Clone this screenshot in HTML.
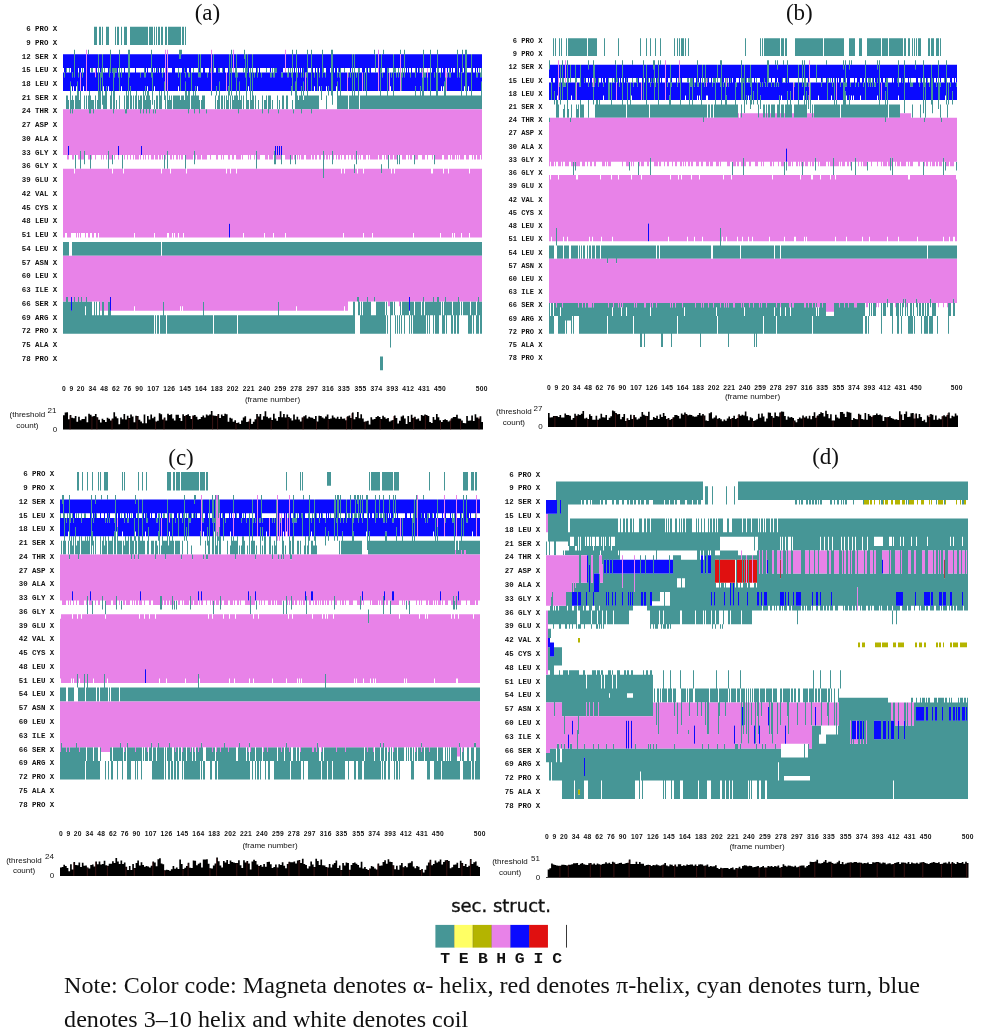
<!DOCTYPE html>
<html><head><meta charset="utf-8"><title>Secondary structure timelines</title>
<style>
html,body{margin:0;padding:0;background:#fff}
svg{display:block}
.lab{font-family:"Liberation Mono",monospace;font-weight:bold;font-size:6.6px;text-anchor:end;fill:#111}
.tick{font-family:"Liberation Sans",sans-serif;font-weight:bold;font-size:6.7px;letter-spacing:0.3px;text-anchor:middle;fill:#111}
.ttl{font-family:"Liberation Serif",serif;font-size:23px;text-anchor:middle;fill:#111}
.th{font-family:"Liberation Sans",sans-serif;font-size:8px;text-anchor:middle;fill:#111}
.ss{font-family:"DejaVu Sans","Liberation Sans",sans-serif;font-size:18px;text-anchor:middle;fill:#111}
.leg{font-family:"Liberation Mono",monospace;font-weight:bold;font-size:14.3px;text-anchor:middle;fill:#111}
.note{font-family:"Liberation Serif",serif;font-size:24.1px;fill:#111}
.fn{font-family:"Liberation Sans",sans-serif;font-size:8px;text-anchor:middle;fill:#111}
</style></head><body>
<svg width="986" height="1033" viewBox="0 0 986 1033">
<rect width="100%" height="100%" fill="#fff"/>
<g>
<path fill="#469696" d="M64.0 72.6H65.0V77.2H64.0zM63.0 301.6H66.0V333.7H63.0zM66.0 68.0H67.0V72.6H66.0zM66.0 297.0H68.0V333.7H66.0zM66.0 95.5H68.0V109.2H66.0zM63.0 242.1H69.0V255.8H63.0zM68.0 100.1H69.0V109.2H68.0zM69.0 68.0H70.0V72.6H69.0zM68.0 301.6H71.0V333.7H68.0zM70.0 81.8H71.0V113.8H70.0zM71.0 310.8H72.0V333.7H71.0zM71.0 100.1H72.0V109.2H71.0zM72.0 72.6H73.0V77.2H72.0zM72.0 95.5H73.0V113.8H72.0zM72.0 301.6H74.0V333.7H72.0zM73.0 100.1H74.0V109.2H73.0zM74.0 297.0H75.0V333.7H74.0zM74.0 49.7H75.0V77.2H74.0zM75.0 155.0H76.0V168.8H75.0zM75.0 95.5H77.0V109.2H75.0zM75.0 301.6H78.0V333.7H75.0zM77.0 81.8H78.0V109.2H77.0zM78.0 297.0H79.0V333.7H78.0zM78.0 90.9H79.0V109.2H78.0zM78.0 72.6H79.0V77.2H78.0zM79.0 100.1H80.0V109.2H79.0zM79.0 301.6H81.0V333.7H79.0zM80.0 90.9H81.0V109.2H80.0zM80.0 150.5H81.0V168.8H80.0zM81.0 297.0H82.0V333.7H81.0zM82.0 68.0H83.0V77.2H82.0zM82.0 301.6H85.0V333.7H82.0zM84.0 150.5H85.0V164.2H84.0zM84.0 95.5H85.0V109.2H84.0zM85.0 301.6H86.0V306.2H85.0zM85.0 315.3H86.0V333.7H85.0zM86.0 297.0H87.0V333.7H86.0zM86.0 95.5H87.0V109.2H86.0zM88.0 95.5H89.0V109.2H88.0zM88.0 49.7H89.0V54.3H88.0zM89.0 90.9H90.0V113.8H89.0zM90.0 155.0H91.0V168.8H90.0zM90.0 95.5H91.0V113.8H90.0zM87.0 301.6H92.0V333.7H87.0zM91.0 100.1H93.0V109.2H91.0zM91.0 68.0H93.0V72.6H91.0zM92.0 315.3H94.0V333.7H92.0zM93.0 100.1H94.0V113.8H93.0zM94.0 301.6H95.0V333.7H94.0zM95.0 95.5H96.0V109.2H95.0zM95.0 315.3H96.0V333.7H95.0zM94.0 26.8H97.0V45.1H94.0zM96.0 301.6H97.0V333.7H96.0zM97.0 100.1H98.0V109.2H97.0zM97.0 315.3H99.0V333.7H97.0zM98.0 54.3H99.0V109.2H98.0zM99.0 90.9H100.0V109.2H99.0zM99.0 301.6H100.0V333.7H99.0zM99.0 26.8H101.0V45.1H99.0zM100.0 72.6H101.0V109.2H100.0zM100.0 315.3H102.0V333.7H100.0zM101.0 68.0H102.0V77.2H101.0zM102.0 54.3H103.0V104.7H102.0zM102.0 26.8H103.0V45.1H102.0zM102.0 301.6H104.0V333.7H102.0zM103.0 95.5H105.0V109.2H103.0zM104.0 68.0H105.0V72.6H104.0zM105.0 90.9H106.0V109.2H105.0zM106.0 86.3H107.0V109.2H106.0zM104.0 315.3H108.0V333.7H104.0zM106.0 26.8H109.0V45.1H106.0zM108.0 150.5H109.0V168.8H108.0zM108.0 301.6H110.0V333.7H108.0zM109.0 68.0H110.0V77.2H109.0zM110.0 49.7H111.0V72.6H110.0zM110.0 95.5H111.0V109.2H110.0zM110.0 310.8H111.0V333.7H110.0zM111.0 90.9H112.0V109.2H111.0zM112.0 155.0H113.0V164.2H112.0zM112.0 68.0H113.0V72.6H112.0zM113.0 68.0H114.0V113.8H113.0zM114.0 68.0H115.0V77.2H114.0zM114.0 90.9H115.0V109.2H114.0zM115.0 26.8H116.0V45.1H115.0zM115.0 68.0H117.0V72.6H115.0zM116.0 100.1H117.0V109.2H116.0zM117.0 26.8H119.0V45.1H117.0zM118.0 72.6H119.0V77.2H118.0zM119.0 49.7H120.0V90.9H119.0zM119.0 95.5H120.0V109.2H119.0zM121.0 68.0H122.0V77.2H121.0zM121.0 26.8H122.0V45.1H121.0zM122.0 155.0H123.0V168.8H122.0zM124.0 95.5H125.0V109.2H124.0zM125.0 109.2H126.0V113.8H125.0zM124.0 26.8H127.0V45.1H124.0zM126.0 90.9H127.0V113.8H126.0zM127.0 95.5H128.0V109.2H127.0zM128.0 49.7H129.0V109.2H128.0zM129.0 49.7H130.0V77.2H129.0zM130.0 86.3H131.0V109.2H130.0zM131.0 95.5H132.0V109.2H131.0zM133.0 95.5H134.0V109.2H133.0zM135.0 95.5H136.0V109.2H135.0zM136.0 90.9H137.0V109.2H136.0zM138.0 95.5H139.0V109.2H138.0zM139.0 100.1H140.0V109.2H139.0zM140.0 95.5H141.0V113.8H140.0zM140.0 72.6H141.0V77.2H140.0zM141.0 95.5H142.0V109.2H141.0zM143.0 90.9H144.0V113.8H143.0zM144.0 95.5H145.0V109.2H144.0zM144.0 68.0H145.0V77.2H144.0zM145.0 100.1H146.0V109.2H145.0zM145.0 86.3H146.0V95.5H145.0zM145.0 72.6H146.0V77.2H145.0zM146.0 95.5H147.0V113.8H146.0zM130.0 26.8H148.0V45.1H130.0zM147.0 90.9H149.0V109.2H147.0zM149.0 95.5H150.0V113.8H149.0zM150.0 100.1H151.0V109.2H150.0zM151.0 49.7H152.0V77.2H151.0zM149.0 26.8H153.0V45.1H149.0zM152.0 72.6H153.0V104.7H152.0zM111.0 315.3H154.0V333.7H111.0zM153.0 109.2H154.0V113.8H153.0zM154.0 100.1H155.0V109.2H154.0zM154.0 26.8H155.0V45.1H154.0zM154.0 68.0H155.0V72.6H154.0zM155.0 109.2H156.0V113.8H155.0zM155.0 315.3H156.0V333.7H155.0zM156.0 26.8H157.0V45.1H156.0zM156.0 95.5H158.0V109.2H156.0zM157.0 68.0H158.0V72.6H157.0zM157.0 315.3H159.0V333.7H157.0zM158.0 26.8H160.0V45.1H158.0zM159.0 90.9H160.0V109.2H159.0zM72.0 242.1H161.0V255.8H72.0zM160.0 95.5H161.0V109.2H160.0zM161.0 90.9H162.0V109.2H161.0zM161.0 68.0H162.0V72.6H161.0zM160.0 315.3H163.0V333.7H160.0zM161.0 26.8H163.0V45.1H161.0zM162.0 72.6H163.0V77.2H162.0zM163.0 301.6H164.0V333.7H163.0zM163.0 68.0H164.0V72.6H163.0zM164.0 155.0H165.0V168.8H164.0zM164.0 81.8H165.0V100.1H164.0zM164.0 315.3H166.0V333.7H164.0zM165.0 95.5H166.0V109.2H165.0zM165.0 26.8H167.0V45.1H165.0zM167.0 90.9H168.0V109.2H167.0zM167.0 150.5H168.0V168.8H167.0zM168.0 100.1H169.0V109.2H168.0zM169.0 95.5H170.0V109.2H169.0zM170.0 100.1H171.0V109.2H170.0zM171.0 95.5H172.0V109.2H171.0zM178.0 68.0H179.0V77.2H178.0zM173.0 95.5H180.0V109.2H173.0zM168.0 26.8H181.0V45.1H168.0zM179.0 49.7H181.0V58.9H179.0zM180.0 100.1H181.0V109.2H180.0zM180.0 72.6H181.0V90.9H180.0zM181.0 49.7H182.0V54.3H181.0zM181.0 95.5H184.0V109.2H181.0zM182.0 26.8H184.0V45.1H182.0zM184.0 100.1H185.0V109.2H184.0zM184.0 68.0H185.0V72.6H184.0zM185.0 155.0H186.0V168.8H185.0zM185.0 81.8H186.0V109.2H185.0zM185.0 72.6H186.0V77.2H185.0zM185.0 26.8H186.0V45.1H185.0zM186.0 90.9H187.0V109.2H186.0zM187.0 95.5H188.0V109.2H187.0zM188.0 90.9H189.0V113.8H188.0zM188.0 72.6H190.0V77.2H188.0zM189.0 90.9H190.0V109.2H189.0zM191.0 72.6H192.0V90.9H191.0zM191.0 95.5H193.0V109.2H191.0zM193.0 90.9H194.0V109.2H193.0zM193.0 68.0H194.0V72.6H193.0zM194.0 150.5H195.0V164.2H194.0zM194.0 95.5H195.0V113.8H194.0zM195.0 86.3H196.0V109.2H195.0zM196.0 95.5H199.0V109.2H196.0zM198.0 54.3H199.0V77.2H198.0zM199.0 72.6H200.0V77.2H199.0zM199.0 100.1H200.0V113.8H199.0zM200.0 54.3H201.0V77.2H200.0zM201.0 100.1H202.0V109.2H201.0zM167.0 315.3H203.0V333.7H167.0zM203.0 301.6H204.0V333.7H203.0zM202.0 95.5H205.0V109.2H202.0zM206.0 109.2H207.0V113.8H206.0zM207.0 72.6H208.0V77.2H207.0zM210.0 68.0H211.0V72.6H210.0zM211.0 90.9H212.0V95.5H211.0zM204.0 315.3H213.0V333.7H204.0zM213.0 54.3H214.0V72.6H213.0zM215.0 95.5H216.0V109.2H215.0zM216.0 86.3H217.0V95.5H216.0zM217.0 100.1H218.0V109.2H217.0zM218.0 95.5H219.0V109.2H218.0zM218.0 68.0H220.0V72.6H218.0zM219.0 81.8H220.0V109.2H219.0zM221.0 95.5H223.0V109.2H221.0zM222.0 68.0H223.0V72.6H222.0zM224.0 95.5H225.0V109.2H224.0zM226.0 95.5H227.0V109.2H226.0zM227.0 100.1H228.0V109.2H227.0zM228.0 86.3H229.0V109.2H228.0zM229.0 54.3H230.0V95.5H229.0zM230.0 95.5H231.0V109.2H230.0zM230.0 68.0H231.0V72.6H230.0zM231.0 49.7H232.0V95.5H231.0zM232.0 95.5H233.0V109.2H232.0zM233.0 100.1H234.0V109.2H233.0zM234.0 95.5H236.0V109.2H234.0zM235.0 68.0H236.0V77.2H235.0zM214.0 315.3H237.0V333.7H214.0zM236.0 54.3H237.0V109.2H236.0zM237.0 72.6H238.0V77.2H237.0zM237.0 95.5H238.0V109.2H237.0zM238.0 100.1H239.0V113.8H238.0zM239.0 81.8H240.0V109.2H239.0zM240.0 100.1H241.0V109.2H240.0zM241.0 95.5H242.0V109.2H241.0zM243.0 95.5H244.0V109.2H243.0zM243.0 68.0H244.0V72.6H243.0zM244.0 49.7H245.0V58.9H244.0zM245.0 54.3H246.0V77.2H245.0zM246.0 68.0H247.0V109.2H246.0zM247.0 54.3H248.0V72.6H247.0zM247.0 100.1H249.0V109.2H247.0zM249.0 72.6H250.0V77.2H249.0zM250.0 68.0H251.0V109.2H250.0zM251.0 100.1H252.0V109.2H251.0zM252.0 54.3H253.0V109.2H252.0zM253.0 95.5H254.0V109.2H253.0zM254.0 72.6H255.0V77.2H254.0zM255.0 95.5H256.0V109.2H255.0zM256.0 150.5H257.0V168.8H256.0zM257.0 68.0H258.0V77.2H257.0zM258.0 100.1H259.0V109.2H258.0zM261.0 72.6H262.0V77.2H261.0zM262.0 95.5H263.0V113.8H262.0zM264.0 100.1H266.0V109.2H264.0zM266.0 95.5H267.0V109.2H266.0zM266.0 68.0H267.0V72.6H266.0zM268.0 95.5H269.0V113.8H268.0zM269.0 95.5H271.0V109.2H269.0zM270.0 72.6H272.0V77.2H270.0zM272.0 100.1H273.0V109.2H272.0zM272.0 68.0H273.0V72.6H272.0zM273.0 72.6H274.0V77.2H273.0zM274.0 68.0H275.0V77.2H274.0zM274.0 150.5H275.0V164.2H274.0zM275.0 155.0H276.0V164.2H275.0zM275.0 68.0H277.0V72.6H275.0zM238.0 315.3H278.0V333.7H238.0zM277.0 95.5H278.0V109.2H277.0zM278.0 109.2H279.0V113.8H278.0zM278.0 301.6H279.0V333.7H278.0zM279.0 100.1H280.0V109.2H279.0zM281.0 155.0H282.0V164.2H281.0zM281.0 72.6H283.0V77.2H281.0zM282.0 95.5H284.0V109.2H282.0zM286.0 95.5H288.0V109.2H286.0zM287.0 72.6H288.0V77.2H287.0zM288.0 68.0H289.0V77.2H288.0zM290.0 155.0H291.0V164.2H290.0zM290.0 68.0H291.0V72.6H290.0zM291.0 86.3H292.0V95.5H291.0zM291.0 72.6H292.0V77.2H291.0zM292.0 49.7H293.0V90.9H292.0zM292.0 100.1H293.0V109.2H292.0zM293.0 109.2H294.0V113.8H293.0zM295.0 81.8H296.0V109.2H295.0zM295.0 155.0H296.0V164.2H295.0zM296.0 49.7H297.0V109.2H296.0zM297.0 72.6H298.0V77.2H297.0zM297.0 95.5H298.0V109.2H297.0zM298.0 100.1H299.0V109.2H298.0zM299.0 95.5H301.0V109.2H299.0zM301.0 72.6H302.0V77.2H301.0zM301.0 86.3H302.0V113.8H301.0zM302.0 95.5H303.0V109.2H302.0zM303.0 100.1H304.0V109.2H303.0zM303.0 68.0H304.0V77.2H303.0zM303.0 81.8H304.0V95.5H303.0zM304.0 95.5H307.0V109.2H304.0zM306.0 72.6H307.0V77.2H306.0zM307.0 49.7H308.0V109.2H307.0zM308.0 95.5H311.0V109.2H308.0zM311.0 49.7H312.0V90.9H311.0zM311.0 95.5H312.0V113.8H311.0zM314.0 72.6H315.0V77.2H314.0zM317.0 68.0H318.0V90.9H317.0zM312.0 95.5H319.0V109.2H312.0zM319.0 72.6H320.0V77.2H319.0zM321.0 86.3H322.0V100.1H321.0zM322.0 49.7H323.0V77.2H322.0zM323.0 150.5H324.0V177.9H323.0zM323.0 68.0H324.0V72.6H323.0zM325.0 72.6H326.0V77.2H325.0zM326.0 95.5H327.0V109.2H326.0zM328.0 86.3H329.0V95.5H328.0zM331.0 49.7H332.0V95.5H331.0zM332.0 150.5H333.0V164.2H332.0zM332.0 49.7H333.0V104.7H332.0zM337.0 81.8H338.0V109.2H337.0zM337.0 72.6H338.0V77.2H337.0zM338.0 68.0H339.0V72.6H338.0zM338.0 95.5H340.0V109.2H338.0zM339.0 72.6H340.0V77.2H339.0zM340.0 68.0H341.0V109.2H340.0zM344.0 68.0H345.0V72.6H344.0zM341.0 95.5H348.0V109.2H341.0zM348.0 72.6H349.0V77.2H348.0zM350.0 72.6H351.0V77.2H350.0zM349.0 95.5H352.0V109.2H349.0zM279.0 315.3H353.0V333.7H279.0zM352.0 54.3H353.0V109.2H352.0zM353.0 95.5H354.0V109.2H353.0zM353.0 301.6H355.0V333.7H353.0zM354.0 54.3H355.0V109.2H354.0zM354.0 164.2H355.0V173.4H354.0zM356.0 150.5H357.0V164.2H356.0zM356.0 72.6H357.0V77.2H356.0zM355.0 95.5H358.0V109.2H355.0zM357.0 297.0H358.0V301.6H357.0zM358.0 68.0H359.0V109.2H358.0zM358.0 297.0H359.0V315.3H358.0zM359.0 301.6H360.0V315.3H359.0zM359.0 68.0H360.0V72.6H359.0zM360.0 315.3H361.0V333.7H360.0zM361.0 301.6H362.0V333.7H361.0zM362.0 315.3H363.0V333.7H362.0zM364.0 72.6H365.0V90.9H364.0zM360.0 95.5H366.0V109.2H360.0zM363.0 301.6H367.0V333.7H363.0zM366.0 68.0H367.0V109.2H366.0zM367.0 297.0H368.0V333.7H367.0zM369.0 68.0H370.0V72.6H369.0zM368.0 301.6H371.0V333.7H368.0zM374.0 49.7H375.0V54.3H374.0zM374.0 297.0H375.0V301.6H374.0zM371.0 315.3H376.0V333.7H371.0zM375.0 54.3H376.0V72.6H375.0zM367.0 95.5H380.0V109.2H367.0zM380.0 68.0H381.0V109.2H380.0zM381.0 164.2H382.0V173.4H381.0zM381.0 54.3H382.0V72.6H381.0zM380.0 356.6H383.0V370.3H380.0zM382.0 72.6H383.0V77.2H382.0zM383.0 49.7H384.0V54.3H383.0zM376.0 301.6H385.0V333.7H376.0zM385.0 315.3H386.0V333.7H385.0zM381.0 95.5H387.0V109.2H381.0zM386.0 301.6H387.0V315.3H386.0zM387.0 68.0H388.0V109.2H387.0zM387.0 315.3H388.0V333.7H387.0zM388.0 155.0H389.0V168.8H388.0zM388.0 68.0H389.0V72.6H388.0zM390.0 301.6H391.0V347.4H390.0zM391.0 72.6H392.0V77.2H391.0zM388.0 95.5H393.0V109.2H388.0zM391.0 301.6H393.0V315.3H391.0zM393.0 54.3H394.0V109.2H393.0zM394.0 301.6H395.0V315.3H394.0zM394.0 68.0H396.0V72.6H394.0zM395.0 315.3H396.0V333.7H395.0zM396.0 72.6H397.0V77.2H396.0zM397.0 155.0H398.0V164.2H397.0zM397.0 315.3H398.0V333.7H397.0zM398.0 68.0H399.0V77.2H398.0zM399.0 155.0H400.0V164.2H399.0zM399.0 315.3H400.0V333.7H399.0zM400.0 301.6H401.0V315.3H400.0zM400.0 49.7H401.0V54.3H400.0zM401.0 315.3H402.0V333.7H401.0zM401.0 72.6H402.0V90.9H401.0zM402.0 68.0H403.0V77.2H402.0zM402.0 301.6H404.0V315.3H402.0zM404.0 49.7H405.0V77.2H404.0zM404.0 301.6H405.0V333.7H404.0zM405.0 301.6H409.0V315.3H405.0zM409.0 315.3H410.0V333.7H409.0zM410.0 301.6H411.0V315.3H410.0zM410.0 72.6H411.0V77.2H410.0zM411.0 301.6H412.0V333.7H411.0zM412.0 301.6H413.0V315.3H412.0zM413.0 301.6H414.0V333.7H413.0zM394.0 95.5H415.0V109.2H394.0zM414.0 155.0H415.0V164.2H414.0zM414.0 315.3H415.0V333.7H414.0zM415.0 68.0H416.0V77.2H415.0zM415.0 86.3H416.0V109.2H415.0zM416.0 95.5H420.0V109.2H416.0zM419.0 68.0H420.0V72.6H419.0zM415.0 301.6H421.0V333.7H415.0zM420.0 86.3H421.0V109.2H420.0zM421.0 315.3H422.0V333.7H421.0zM421.0 95.5H422.0V109.2H421.0zM421.0 68.0H422.0V72.6H421.0zM422.0 77.2H423.0V109.2H422.0zM422.0 301.6H423.0V333.7H422.0zM423.0 297.0H424.0V333.7H423.0zM423.0 49.7H424.0V109.2H423.0zM424.0 315.3H425.0V333.7H424.0zM424.0 72.6H426.0V77.2H424.0zM425.0 301.6H426.0V333.7H425.0zM426.0 301.6H427.0V315.3H426.0zM427.0 77.2H428.0V90.9H427.0zM427.0 301.6H428.0V333.7H427.0zM428.0 301.6H429.0V315.3H428.0zM424.0 95.5H430.0V109.2H424.0zM429.0 301.6H430.0V333.7H429.0zM430.0 49.7H431.0V109.2H430.0zM430.0 301.6H433.0V315.3H430.0zM433.0 297.0H434.0V333.7H433.0zM434.0 301.6H435.0V315.3H434.0zM434.0 72.6H435.0V77.2H434.0zM434.0 155.0H435.0V164.2H434.0zM431.0 95.5H436.0V109.2H431.0zM435.0 301.6H437.0V333.7H435.0zM436.0 72.6H437.0V109.2H436.0zM437.0 49.7H438.0V109.2H437.0zM437.0 297.0H439.0V333.7H437.0zM438.0 68.0H439.0V72.6H438.0zM439.0 301.6H441.0V315.3H439.0zM440.0 72.6H441.0V77.2H440.0zM442.0 301.6H443.0V333.7H442.0zM438.0 95.5H444.0V109.2H438.0zM443.0 315.3H444.0V333.7H443.0zM444.0 81.8H445.0V109.2H444.0zM444.0 301.6H445.0V333.7H444.0zM445.0 77.2H446.0V109.2H445.0zM445.0 297.0H446.0V315.3H445.0zM446.0 301.6H447.0V333.7H446.0zM447.0 72.6H448.0V77.2H447.0zM449.0 68.0H450.0V77.2H449.0zM447.0 301.6H451.0V315.3H447.0zM450.0 72.6H451.0V77.2H450.0zM451.0 301.6H452.0V333.7H451.0zM452.0 315.3H453.0V333.7H452.0zM453.0 301.6H454.0V315.3H453.0zM454.0 301.6H456.0V333.7H454.0zM456.0 301.6H457.0V315.3H456.0zM457.0 49.7H458.0V77.2H457.0zM457.0 301.6H458.0V333.7H457.0zM458.0 297.0H459.0V333.7H458.0zM459.0 301.6H460.0V315.3H459.0zM459.0 72.6H460.0V77.2H459.0zM446.0 95.5H461.0V109.2H446.0zM461.0 301.6H462.0V315.3H461.0zM461.0 72.6H462.0V109.2H461.0zM462.0 49.7H463.0V72.6H462.0zM462.0 95.5H466.0V109.2H462.0zM465.0 49.7H466.0V90.9H465.0zM466.0 49.7H467.0V109.2H466.0zM463.0 301.6H468.0V315.3H463.0zM468.0 301.6H470.0V333.7H468.0zM467.0 95.5H471.0V109.2H467.0zM470.0 315.3H471.0V333.7H470.0zM471.0 54.3H472.0V109.2H471.0zM471.0 301.6H472.0V333.7H471.0zM472.0 301.6H473.0V315.3H472.0zM473.0 301.6H474.0V333.7H473.0zM474.0 301.6H476.0V315.3H474.0zM476.0 315.3H477.0V333.7H476.0zM476.0 72.6H478.0V77.2H476.0zM477.0 301.6H478.0V333.7H477.0zM478.0 297.0H479.0V333.7H478.0zM479.0 301.6H480.0V315.3H479.0zM479.0 68.0H480.0V72.6H479.0zM472.0 95.5H481.0V109.2H472.0zM480.0 72.6H481.0V77.2H480.0zM162.0 242.1H482.0V255.8H162.0zM480.0 301.6H482.0V333.7H480.0zM481.0 68.0H482.0V77.2H481.0zM481.0 81.8H482.0V109.2H481.0z"/>
<path fill="#e882e8" d="M63.0 168.8H65.0V237.5H63.0zM63.0 255.8H66.0V301.6H63.0zM63.0 109.2H67.0V155.0H63.0zM65.0 168.8H67.0V232.9H65.0zM66.0 255.8H68.0V297.0H66.0zM67.0 109.2H68.0V159.6H67.0zM68.0 155.0H69.0V159.6H68.0zM68.0 109.2H69.0V145.9H68.0zM69.0 109.2H70.0V155.0H69.0zM67.0 168.8H71.0V237.5H67.0zM68.0 255.8H71.0V301.6H68.0zM70.0 113.8H71.0V155.0H70.0zM71.0 109.2H72.0V155.0H71.0zM71.0 255.8H72.0V297.0H71.0zM72.0 113.8H73.0V159.6H72.0zM71.0 168.8H74.0V232.9H71.0zM72.0 255.8H74.0V301.6H72.0zM73.0 109.2H74.0V159.6H73.0zM74.0 255.8H75.0V297.0H74.0zM74.0 173.4H75.0V232.9H74.0zM75.0 168.8H76.0V232.9H75.0zM76.0 168.8H77.0V237.5H76.0zM74.0 109.2H78.0V155.0H74.0zM75.0 255.8H78.0V301.6H75.0zM77.0 168.8H78.0V232.9H77.0zM78.0 255.8H79.0V297.0H78.0zM78.0 168.8H79.0V237.5H78.0zM78.0 109.2H80.0V159.6H78.0zM79.0 168.8H80.0V232.9H79.0zM79.0 255.8H81.0V301.6H79.0zM80.0 109.2H81.0V150.5H80.0zM80.0 168.8H81.0V237.5H80.0zM80.0 72.6H81.0V90.9H80.0zM81.0 255.8H82.0V297.0H81.0zM81.0 109.2H84.0V159.6H81.0zM81.0 168.8H85.0V232.9H81.0zM84.0 109.2H85.0V150.5H84.0zM82.0 255.8H86.0V301.6H82.0zM85.0 168.8H86.0V237.5H85.0zM86.0 49.7H87.0V90.9H86.0zM86.0 255.8H87.0V297.0H86.0zM85.0 109.2H88.0V155.0H85.0zM86.0 168.8H88.0V232.9H86.0zM88.0 109.2H89.0V159.6H88.0zM88.0 168.8H90.0V237.5H88.0zM89.0 113.8H90.0V159.6H89.0zM90.0 113.8H91.0V155.0H90.0zM90.0 168.8H92.0V232.9H90.0zM91.0 109.2H92.0V159.6H91.0zM92.0 109.2H93.0V155.0H92.0zM92.0 168.8H94.0V237.5H92.0zM93.0 113.8H94.0V155.0H93.0zM94.0 109.2H95.0V155.0H94.0zM94.0 168.8H96.0V232.9H94.0zM95.0 68.0H96.0V77.2H95.0zM95.0 109.2H96.0V159.6H95.0zM96.0 168.8H98.0V237.5H96.0zM98.0 168.8H99.0V232.9H98.0zM87.0 255.8H100.0V301.6H87.0zM96.0 109.2H101.0V155.0H96.0zM100.0 255.8H102.0V310.8H100.0zM101.0 109.2H102.0V159.6H101.0zM102.0 109.2H103.0V155.0H102.0zM102.0 255.8H104.0V301.6H102.0zM103.0 109.2H104.0V159.6H103.0zM104.0 109.2H106.0V155.0H104.0zM106.0 109.2H107.0V159.6H106.0zM104.0 255.8H108.0V310.8H104.0zM107.0 109.2H108.0V155.0H107.0zM108.0 109.2H109.0V150.5H108.0zM108.0 255.8H110.0V301.6H108.0zM110.0 255.8H111.0V297.0H110.0zM99.0 168.8H112.0V237.5H99.0zM109.0 109.2H112.0V159.6H109.0zM112.0 109.2H113.0V155.0H112.0zM112.0 173.4H113.0V237.5H112.0zM113.0 113.8H114.0V155.0H113.0zM114.0 109.2H115.0V159.6H114.0zM115.0 109.2H118.0V155.0H115.0zM118.0 155.0H119.0V159.6H118.0zM118.0 109.2H119.0V145.9H118.0zM113.0 168.8H123.0V237.5H113.0zM119.0 109.2H124.0V155.0H119.0zM123.0 173.4H124.0V237.5H123.0zM124.0 109.2H125.0V159.6H124.0zM125.0 113.8H127.0V155.0H125.0zM127.0 109.2H128.0V159.6H127.0zM128.0 109.2H130.0V155.0H128.0zM130.0 109.2H131.0V159.6H130.0zM131.0 109.2H133.0V155.0H131.0zM111.0 255.8H134.0V310.8H111.0zM124.0 168.8H134.0V237.5H124.0zM133.0 109.2H134.0V159.6H133.0zM134.0 168.8H135.0V232.9H134.0zM134.0 109.2H135.0V155.0H134.0zM134.0 255.8H135.0V306.2H134.0zM135.0 109.2H139.0V159.6H135.0zM139.0 109.2H140.0V155.0H139.0zM140.0 113.8H141.0V159.6H140.0zM141.0 109.2H142.0V145.9H141.0zM142.0 109.2H143.0V155.0H142.0zM143.0 113.8H144.0V159.6H143.0zM144.0 109.2H145.0V155.0H144.0zM145.0 109.2H146.0V159.6H145.0zM146.0 113.8H147.0V155.0H146.0zM147.0 109.2H148.0V155.0H147.0zM148.0 109.2H149.0V159.6H148.0zM149.0 113.8H150.0V155.0H149.0zM150.0 109.2H151.0V155.0H150.0zM151.0 109.2H153.0V159.6H151.0zM135.0 168.8H154.0V237.5H135.0zM153.0 113.8H154.0V159.6H153.0zM154.0 168.8H155.0V232.9H154.0zM154.0 109.2H155.0V155.0H154.0zM155.0 113.8H156.0V159.6H155.0zM156.0 109.2H158.0V159.6H156.0zM158.0 109.2H159.0V155.0H158.0zM155.0 168.8H161.0V237.5H155.0zM159.0 109.2H161.0V159.6H159.0zM161.0 109.2H162.0V155.0H161.0zM161.0 173.4H162.0V237.5H161.0zM135.0 255.8H163.0V310.8H135.0zM162.0 109.2H163.0V159.6H162.0zM163.0 255.8H164.0V301.6H163.0zM163.0 109.2H165.0V155.0H163.0zM165.0 49.7H166.0V90.9H165.0zM165.0 109.2H166.0V159.6H165.0zM162.0 168.8H167.0V237.5H162.0zM166.0 109.2H167.0V155.0H166.0zM167.0 49.7H168.0V90.9H167.0zM167.0 109.2H168.0V150.5H167.0zM167.0 168.8H169.0V232.9H167.0zM168.0 109.2H170.0V155.0H168.0zM169.0 168.8H170.0V237.5H169.0zM170.0 173.4H171.0V237.5H170.0zM170.0 109.2H172.0V159.6H170.0zM171.0 168.8H172.0V237.5H171.0zM172.0 168.8H173.0V232.9H172.0zM172.0 109.2H173.0V155.0H172.0zM173.0 168.8H174.0V237.5H173.0zM173.0 109.2H174.0V159.6H173.0zM174.0 168.8H175.0V232.9H174.0zM174.0 109.2H176.0V155.0H174.0zM175.0 168.8H178.0V237.5H175.0zM176.0 109.2H178.0V159.6H176.0zM178.0 168.8H179.0V232.9H178.0zM178.0 109.2H179.0V155.0H178.0zM164.0 255.8H180.0V310.8H164.0zM179.0 109.2H180.0V159.6H179.0zM180.0 109.2H181.0V155.0H180.0zM180.0 255.8H181.0V306.2H180.0zM181.0 255.8H182.0V310.8H181.0zM179.0 168.8H183.0V237.5H179.0zM181.0 109.2H183.0V159.6H181.0zM182.0 255.8H183.0V306.2H182.0zM183.0 168.8H184.0V232.9H183.0zM183.0 109.2H186.0V155.0H183.0zM184.0 168.8H186.0V237.5H184.0zM186.0 173.4H187.0V237.5H186.0zM186.0 109.2H188.0V159.6H186.0zM188.0 113.8H189.0V159.6H188.0zM189.0 109.2H193.0V159.6H189.0zM193.0 109.2H194.0V155.0H193.0zM194.0 113.8H195.0V150.5H194.0zM195.0 109.2H196.0V159.6H195.0zM196.0 109.2H197.0V155.0H196.0zM197.0 109.2H199.0V159.6H197.0zM199.0 113.8H200.0V159.6H199.0zM200.0 109.2H201.0V159.6H200.0zM201.0 109.2H202.0V155.0H201.0zM183.0 255.8H203.0V310.8H183.0zM203.0 255.8H204.0V301.6H203.0zM202.0 109.2H206.0V159.6H202.0zM206.0 113.8H207.0V159.6H206.0zM207.0 109.2H210.0V155.0H207.0zM210.0 109.2H211.0V159.6H210.0zM211.0 49.7H212.0V90.9H211.0zM211.0 109.2H216.0V155.0H211.0zM216.0 109.2H218.0V159.6H216.0zM218.0 109.2H221.0V155.0H218.0zM221.0 109.2H222.0V159.6H221.0zM222.0 109.2H223.0V155.0H222.0zM223.0 109.2H224.0V159.6H223.0zM187.0 168.8H226.0V237.5H187.0zM226.0 173.4H227.0V237.5H226.0zM226.0 72.6H227.0V90.9H226.0zM224.0 109.2H228.0V155.0H224.0zM227.0 168.8H229.0V237.5H227.0zM228.0 109.2H230.0V159.6H228.0zM229.0 168.8H230.0V223.7H229.0zM230.0 173.4H231.0V237.5H230.0zM230.0 109.2H232.0V155.0H230.0zM232.0 109.2H234.0V159.6H232.0zM233.0 49.7H234.0V72.6H233.0zM231.0 168.8H236.0V237.5H231.0zM234.0 109.2H236.0V155.0H234.0zM236.0 173.4H237.0V237.5H236.0zM236.0 109.2H238.0V159.6H236.0zM238.0 113.8H239.0V159.6H238.0zM239.0 109.2H241.0V159.6H239.0zM241.0 109.2H242.0V155.0H241.0zM237.0 168.8H243.0V237.5H237.0zM242.0 109.2H243.0V159.6H242.0zM243.0 168.8H244.0V232.9H243.0zM243.0 109.2H248.0V155.0H243.0zM248.0 109.2H249.0V159.6H248.0zM249.0 109.2H250.0V155.0H249.0zM250.0 109.2H251.0V159.6H250.0zM251.0 109.2H254.0V155.0H251.0zM254.0 109.2H255.0V159.6H254.0zM255.0 109.2H256.0V155.0H255.0zM256.0 109.2H257.0V150.5H256.0zM257.0 109.2H260.0V159.6H257.0zM260.0 109.2H262.0V155.0H260.0zM262.0 113.8H263.0V155.0H262.0zM244.0 168.8H264.0V237.5H244.0zM263.0 109.2H265.0V155.0H263.0zM264.0 168.8H265.0V232.9H264.0zM265.0 109.2H268.0V159.6H265.0zM268.0 113.8H269.0V155.0H268.0zM265.0 168.8H273.0V237.5H265.0zM269.0 109.2H273.0V159.6H269.0zM273.0 168.8H274.0V232.9H273.0zM273.0 109.2H274.0V155.0H273.0zM274.0 109.2H275.0V150.5H274.0zM275.0 109.2H276.0V145.9H275.0zM276.0 109.2H277.0V159.6H276.0zM204.0 255.8H278.0V310.8H204.0zM277.0 155.0H278.0V159.6H277.0zM277.0 109.2H278.0V145.9H277.0zM278.0 113.8H279.0V159.6H278.0zM278.0 255.8H279.0V301.6H278.0zM279.0 155.0H280.0V159.6H279.0zM279.0 109.2H280.0V145.9H279.0zM280.0 109.2H281.0V159.6H280.0zM281.0 109.2H282.0V145.9H281.0zM274.0 168.8H285.0V237.5H274.0zM282.0 109.2H285.0V155.0H282.0zM285.0 168.8H286.0V232.9H285.0zM285.0 49.7H286.0V72.6H285.0zM285.0 109.2H290.0V159.6H285.0zM290.0 109.2H291.0V155.0H290.0zM291.0 109.2H293.0V159.6H291.0zM293.0 113.8H294.0V155.0H293.0zM294.0 109.2H295.0V159.6H294.0zM279.0 255.8H296.0V310.8H279.0zM295.0 109.2H297.0V155.0H295.0zM296.0 255.8H297.0V306.2H296.0zM297.0 109.2H298.0V159.6H297.0zM298.0 109.2H299.0V155.0H298.0zM299.0 109.2H300.0V159.6H299.0zM300.0 109.2H301.0V155.0H300.0zM301.0 113.8H302.0V159.6H301.0zM302.0 109.2H304.0V159.6H302.0zM304.0 109.2H306.0V155.0H304.0zM305.0 72.6H306.0V90.9H305.0zM306.0 109.2H311.0V159.6H306.0zM311.0 113.8H312.0V155.0H311.0zM312.0 109.2H314.0V159.6H312.0zM314.0 109.2H315.0V155.0H314.0zM315.0 109.2H317.0V159.6H315.0zM317.0 109.2H319.0V155.0H317.0zM319.0 109.2H321.0V159.6H319.0zM286.0 168.8H323.0V237.5H286.0zM321.0 109.2H323.0V155.0H321.0zM323.0 177.9H324.0V237.5H323.0zM323.0 109.2H324.0V150.5H323.0zM324.0 109.2H325.0V159.6H324.0zM325.0 109.2H326.0V155.0H325.0zM326.0 109.2H328.0V159.6H326.0zM328.0 109.2H329.0V155.0H328.0zM329.0 109.2H330.0V159.6H329.0zM330.0 109.2H332.0V155.0H330.0zM332.0 109.2H333.0V150.5H332.0zM333.0 109.2H334.0V159.6H333.0zM334.0 109.2H336.0V155.0H334.0zM336.0 109.2H337.0V159.6H336.0zM337.0 109.2H338.0V155.0H337.0zM338.0 109.2H340.0V159.6H338.0zM324.0 168.8H341.0V237.5H324.0zM340.0 109.2H341.0V155.0H340.0zM341.0 109.2H342.0V159.6H341.0zM341.0 173.4H342.0V237.5H341.0zM342.0 168.8H343.0V237.5H342.0zM297.0 255.8H344.0V310.8H297.0zM342.0 109.2H344.0V155.0H342.0zM343.0 168.8H344.0V232.9H343.0zM344.0 173.4H345.0V237.5H344.0zM344.0 255.8H345.0V306.2H344.0zM344.0 109.2H346.0V159.6H344.0zM345.0 255.8H348.0V310.8H345.0zM346.0 109.2H348.0V155.0H346.0zM347.0 72.6H348.0V90.9H347.0zM348.0 109.2H349.0V159.6H348.0zM349.0 109.2H351.0V155.0H349.0zM351.0 109.2H353.0V159.6H351.0zM345.0 168.8H354.0V237.5H345.0zM353.0 109.2H354.0V155.0H353.0zM354.0 173.4H355.0V237.5H354.0zM354.0 109.2H356.0V159.6H354.0zM348.0 255.8H357.0V301.6H348.0zM355.0 168.8H357.0V237.5H355.0zM356.0 109.2H357.0V150.5H356.0zM357.0 109.2H358.0V155.0H357.0zM357.0 173.4H358.0V237.5H357.0zM357.0 255.8H359.0V297.0H357.0zM358.0 109.2H359.0V159.6H358.0zM359.0 109.2H360.0V155.0H359.0zM360.0 109.2H361.0V159.6H360.0zM358.0 168.8H363.0V237.5H358.0zM361.0 109.2H363.0V155.0H361.0zM362.0 72.6H363.0V90.9H362.0zM363.0 173.4H364.0V232.9H363.0zM363.0 109.2H366.0V159.6H363.0zM359.0 255.8H367.0V301.6H359.0zM366.0 109.2H368.0V155.0H366.0zM367.0 255.8H368.0V297.0H367.0zM368.0 109.2H369.0V159.6H368.0zM369.0 109.2H370.0V155.0H369.0zM364.0 168.8H372.0V237.5H364.0zM372.0 168.8H373.0V232.9H372.0zM368.0 255.8H374.0V301.6H368.0zM374.0 255.8H375.0V297.0H374.0zM370.0 109.2H378.0V159.6H370.0zM378.0 49.7H379.0V90.9H378.0zM378.0 109.2H379.0V155.0H378.0zM373.0 168.8H381.0V237.5H373.0zM379.0 109.2H382.0V159.6H379.0zM381.0 173.4H382.0V237.5H381.0zM382.0 109.2H384.0V155.0H382.0zM384.0 109.2H385.0V159.6H384.0zM385.0 109.2H386.0V155.0H385.0zM375.0 255.8H388.0V301.6H375.0zM386.0 109.2H388.0V159.6H386.0zM388.0 109.2H390.0V155.0H388.0zM388.0 255.8H390.0V306.2H388.0zM389.0 72.6H390.0V90.9H389.0zM382.0 168.8H391.0V237.5H382.0zM391.0 173.4H392.0V237.5H391.0zM390.0 109.2H393.0V159.6H390.0zM392.0 168.8H394.0V237.5H392.0zM393.0 109.2H394.0V155.0H393.0zM394.0 173.4H395.0V237.5H394.0zM394.0 109.2H397.0V159.6H394.0zM390.0 255.8H399.0V301.6H390.0zM399.0 255.8H400.0V306.2H399.0zM400.0 54.3H401.0V90.9H400.0zM397.0 109.2H402.0V155.0H397.0zM402.0 109.2H406.0V159.6H402.0zM406.0 109.2H408.0V155.0H406.0zM400.0 255.8H409.0V301.6H400.0zM408.0 109.2H409.0V159.6H408.0zM409.0 109.2H410.0V155.0H409.0zM409.0 255.8H410.0V297.0H409.0zM410.0 109.2H412.0V159.6H410.0zM395.0 168.8H413.0V237.5H395.0zM413.0 168.8H414.0V232.9H413.0zM412.0 109.2H415.0V155.0H412.0zM415.0 109.2H418.0V159.6H415.0zM418.0 109.2H422.0V155.0H418.0zM410.0 255.8H423.0V301.6H410.0zM422.0 68.0H423.0V77.2H422.0zM423.0 255.8H424.0V297.0H423.0zM422.0 109.2H425.0V159.6H422.0zM425.0 109.2H427.0V155.0H425.0zM427.0 68.0H428.0V77.2H427.0zM427.0 109.2H428.0V159.6H427.0zM414.0 168.8H431.0V237.5H414.0zM428.0 109.2H432.0V155.0H428.0zM424.0 255.8H433.0V301.6H424.0zM431.0 173.4H433.0V237.5H431.0zM432.0 109.2H433.0V159.6H432.0zM433.0 255.8H434.0V297.0H433.0zM433.0 109.2H435.0V155.0H433.0zM434.0 255.8H437.0V301.6H434.0zM437.0 255.8H439.0V297.0H437.0zM433.0 168.8H440.0V237.5H433.0zM440.0 168.8H441.0V232.9H440.0zM435.0 109.2H442.0V159.6H435.0zM441.0 168.8H443.0V237.5H441.0zM442.0 109.2H444.0V155.0H442.0zM443.0 173.4H444.0V237.5H443.0zM439.0 255.8H445.0V301.6H439.0zM445.0 68.0H446.0V77.2H445.0zM445.0 255.8H446.0V297.0H445.0zM446.0 72.6H447.0V90.9H446.0zM444.0 168.8H448.0V237.5H444.0zM444.0 109.2H448.0V159.6H444.0zM448.0 173.4H449.0V237.5H448.0zM448.0 109.2H450.0V155.0H448.0zM450.0 109.2H451.0V159.6H450.0zM449.0 168.8H452.0V237.5H449.0zM451.0 109.2H452.0V155.0H451.0zM452.0 168.8H453.0V232.9H452.0zM453.0 168.8H454.0V237.5H453.0zM452.0 109.2H455.0V159.6H452.0zM454.0 168.8H455.0V232.9H454.0zM455.0 109.2H456.0V155.0H455.0zM456.0 109.2H457.0V159.6H456.0zM446.0 255.8H458.0V301.6H446.0zM457.0 109.2H458.0V155.0H457.0zM458.0 255.8H459.0V297.0H458.0zM458.0 109.2H459.0V159.6H458.0zM459.0 109.2H460.0V155.0H459.0zM455.0 168.8H461.0V237.5H455.0zM461.0 168.8H462.0V232.9H461.0zM460.0 109.2H464.0V159.6H460.0zM464.0 109.2H466.0V155.0H464.0zM462.0 168.8H469.0V237.5H462.0zM466.0 109.2H469.0V159.6H466.0zM469.0 173.4H470.0V232.9H469.0zM469.0 109.2H472.0V155.0H469.0zM472.0 109.2H473.0V159.6H472.0zM473.0 109.2H474.0V155.0H473.0zM474.0 109.2H476.0V159.6H474.0zM476.0 109.2H477.0V155.0H476.0zM459.0 255.8H478.0V301.6H459.0zM478.0 255.8H479.0V297.0H478.0zM477.0 109.2H480.0V159.6H477.0zM480.0 109.2H481.0V155.0H480.0zM470.0 168.8H482.0V237.5H470.0zM479.0 255.8H482.0V301.6H479.0zM481.0 109.2H482.0V159.6H481.0z"/>
<path fill="#0a0aff" d="M63.0 54.3H64.0V68.0H63.0zM63.0 72.6H64.0V90.9H63.0zM64.0 77.2H65.0V90.9H64.0zM64.0 54.3H65.0V72.6H64.0zM65.0 54.3H66.0V90.9H65.0zM68.0 145.9H69.0V155.0H68.0zM66.0 72.6H70.0V90.9H66.0zM66.0 54.3H71.0V68.0H66.0zM70.0 72.6H71.0V81.8H70.0zM71.0 54.3H72.0V86.3H71.0zM71.0 297.0H72.0V310.8H71.0zM72.0 77.2H73.0V90.9H72.0zM72.0 54.3H73.0V72.6H72.0zM73.0 54.3H74.0V86.3H73.0zM74.0 77.2H75.0V90.9H74.0zM75.0 54.3H76.0V90.9H75.0zM76.0 54.3H77.0V86.3H76.0zM77.0 54.3H78.0V81.8H77.0zM78.0 77.2H79.0V90.9H78.0zM78.0 54.3H79.0V68.0H78.0zM79.0 54.3H80.0V90.9H79.0zM80.0 54.3H81.0V72.6H80.0zM81.0 72.6H82.0V90.9H81.0zM82.0 77.2H83.0V90.9H82.0zM81.0 54.3H84.0V68.0H81.0zM83.0 72.6H84.0V86.3H83.0zM84.0 54.3H86.0V90.9H84.0zM87.0 54.3H90.0V90.9H87.0zM90.0 72.6H95.0V90.9H90.0zM90.0 54.3H96.0V68.0H90.0zM95.0 77.2H96.0V90.9H95.0zM96.0 54.3H97.0V90.9H96.0zM97.0 54.3H98.0V68.0H97.0zM97.0 72.6H98.0V90.9H97.0zM99.0 54.3H100.0V68.0H99.0zM99.0 72.6H100.0V90.9H99.0zM100.0 54.3H101.0V72.6H100.0zM101.0 77.2H102.0V90.9H101.0zM101.0 54.3H102.0V68.0H101.0zM103.0 72.6H104.0V86.3H103.0zM104.0 72.6H106.0V90.9H104.0zM106.0 72.6H107.0V86.3H106.0zM103.0 54.3H108.0V68.0H103.0zM107.0 72.6H108.0V90.9H107.0zM108.0 54.3H109.0V86.3H108.0zM109.0 77.2H110.0V90.9H109.0zM109.0 54.3H110.0V68.0H109.0zM110.0 297.0H111.0V310.8H110.0zM110.0 72.6H111.0V90.9H110.0zM111.0 54.3H112.0V90.9H111.0zM112.0 72.6H113.0V90.9H112.0zM114.0 77.2H115.0V90.9H114.0zM112.0 54.3H117.0V68.0H112.0zM115.0 72.6H117.0V90.9H115.0zM117.0 54.3H118.0V90.9H117.0zM118.0 77.2H119.0V90.9H118.0zM118.0 54.3H119.0V68.0H118.0zM118.0 145.9H119.0V155.0H118.0zM120.0 72.6H121.0V90.9H120.0zM121.0 77.2H122.0V86.3H121.0zM120.0 54.3H124.0V68.0H120.0zM122.0 72.6H124.0V90.9H122.0zM124.0 54.3H125.0V90.9H124.0zM125.0 54.3H128.0V68.0H125.0zM125.0 72.6H128.0V90.9H125.0zM129.0 77.2H130.0V90.9H129.0zM130.0 72.6H131.0V86.3H130.0zM130.0 54.3H135.0V68.0H130.0zM131.0 72.6H135.0V90.9H131.0zM135.0 54.3H136.0V90.9H135.0zM136.0 72.6H140.0V90.9H136.0zM140.0 77.2H141.0V90.9H140.0zM141.0 145.9H142.0V155.0H141.0zM141.0 72.6H144.0V90.9H141.0zM136.0 54.3H145.0V68.0H136.0zM144.0 77.2H145.0V90.9H144.0zM145.0 77.2H146.0V86.3H145.0zM145.0 54.3H146.0V72.6H145.0zM146.0 54.3H147.0V68.0H146.0zM146.0 72.6H147.0V90.9H146.0zM147.0 54.3H148.0V86.3H147.0zM148.0 54.3H151.0V68.0H148.0zM148.0 72.6H151.0V90.9H148.0zM151.0 77.2H152.0V90.9H151.0zM152.0 54.3H153.0V72.6H152.0zM153.0 72.6H154.0V90.9H153.0zM154.0 72.6H155.0V86.3H154.0zM153.0 54.3H156.0V68.0H153.0zM155.0 72.6H156.0V90.9H155.0zM156.0 54.3H157.0V90.9H156.0zM157.0 54.3H158.0V68.0H157.0zM157.0 72.6H158.0V90.9H157.0zM158.0 54.3H159.0V90.9H158.0zM159.0 54.3H160.0V68.0H159.0zM159.0 72.6H160.0V90.9H159.0zM160.0 54.3H161.0V90.9H160.0zM161.0 72.6H162.0V90.9H161.0zM162.0 77.2H163.0V90.9H162.0zM163.0 72.6H164.0V90.9H163.0zM161.0 54.3H165.0V68.0H161.0zM164.0 72.6H165.0V81.8H164.0zM166.0 54.3H167.0V90.9H166.0zM168.0 54.3H172.0V68.0H168.0zM168.0 72.6H172.0V90.9H168.0zM172.0 54.3H175.0V90.9H172.0zM175.0 72.6H178.0V90.9H175.0zM175.0 54.3H179.0V68.0H175.0zM178.0 77.2H179.0V86.3H178.0zM179.0 72.6H180.0V90.9H179.0zM179.0 58.9H181.0V68.0H179.0zM181.0 54.3H182.0V68.0H181.0zM181.0 72.6H182.0V90.9H181.0zM182.0 54.3H184.0V90.9H182.0zM184.0 54.3H185.0V68.0H184.0zM184.0 72.6H185.0V90.9H184.0zM185.0 54.3H186.0V72.6H185.0zM185.0 77.2H186.0V81.8H185.0zM186.0 54.3H187.0V90.9H186.0zM187.0 72.6H188.0V90.9H187.0zM187.0 54.3H189.0V68.0H187.0zM188.0 77.2H190.0V90.9H188.0zM189.0 54.3H190.0V72.6H189.0zM190.0 54.3H191.0V90.9H190.0zM192.0 72.6H195.0V90.9H192.0zM195.0 72.6H196.0V86.3H195.0zM196.0 72.6H197.0V90.9H196.0zM191.0 54.3H198.0V68.0H191.0zM197.0 72.6H198.0V86.3H197.0zM199.0 54.3H200.0V72.6H199.0zM198.0 77.2H201.0V90.9H198.0zM201.0 54.3H203.0V68.0H201.0zM201.0 72.6H203.0V90.9H201.0zM203.0 54.3H205.0V90.9H203.0zM205.0 72.6H207.0V90.9H205.0zM207.0 77.2H208.0V90.9H207.0zM205.0 54.3H209.0V68.0H205.0zM208.0 72.6H209.0V90.9H208.0zM209.0 54.3H210.0V90.9H209.0zM210.0 54.3H211.0V68.0H210.0zM210.0 72.6H211.0V90.9H210.0zM212.0 54.3H213.0V90.9H212.0zM213.0 72.6H216.0V90.9H213.0zM214.0 54.3H216.0V68.0H214.0zM216.0 54.3H217.0V86.3H216.0zM217.0 54.3H218.0V90.9H217.0zM218.0 72.6H219.0V90.9H218.0zM219.0 72.6H220.0V81.8H219.0zM218.0 54.3H223.0V68.0H218.0zM220.0 72.6H223.0V90.9H220.0zM223.0 54.3H225.0V90.9H223.0zM225.0 72.6H226.0V90.9H225.0zM225.0 54.3H228.0V68.0H225.0zM227.0 72.6H228.0V90.9H227.0zM228.0 54.3H229.0V86.3H228.0zM229.0 223.7H230.0V237.5H229.0zM230.0 54.3H231.0V68.0H230.0zM230.0 72.6H231.0V90.9H230.0zM232.0 54.3H233.0V68.0H232.0zM232.0 72.6H235.0V90.9H232.0zM234.0 54.3H236.0V68.0H234.0zM235.0 77.2H236.0V90.9H235.0zM237.0 77.2H238.0V90.9H237.0zM238.0 72.6H239.0V90.9H238.0zM239.0 72.6H240.0V81.8H239.0zM237.0 54.3H244.0V68.0H237.0zM240.0 72.6H245.0V90.9H240.0zM244.0 58.9H245.0V68.0H244.0zM245.0 77.2H246.0V90.9H245.0zM246.0 54.3H247.0V68.0H246.0zM247.0 72.6H248.0V90.9H247.0zM248.0 54.3H249.0V86.3H248.0zM249.0 77.2H250.0V90.9H249.0zM249.0 54.3H252.0V68.0H249.0zM251.0 72.6H252.0V90.9H251.0zM253.0 72.6H254.0V90.9H253.0zM254.0 77.2H255.0V90.9H254.0zM253.0 54.3H256.0V68.0H253.0zM255.0 72.6H256.0V90.9H255.0zM256.0 54.3H257.0V90.9H256.0zM257.0 77.2H258.0V90.9H257.0zM257.0 54.3H259.0V68.0H257.0zM258.0 72.6H259.0V90.9H258.0zM259.0 54.3H260.0V90.9H259.0zM260.0 72.6H261.0V90.9H260.0zM261.0 77.2H262.0V90.9H261.0zM260.0 54.3H270.0V68.0H260.0zM262.0 72.6H270.0V90.9H262.0zM270.0 54.3H271.0V72.6H270.0zM270.0 77.2H272.0V90.9H270.0zM272.0 72.6H273.0V90.9H272.0zM273.0 77.2H275.0V90.9H273.0zM275.0 145.9H276.0V155.0H275.0zM271.0 54.3H277.0V68.0H271.0zM275.0 72.6H277.0V90.9H275.0zM277.0 145.9H278.0V155.0H277.0zM279.0 145.9H280.0V155.0H279.0zM277.0 54.3H281.0V90.9H277.0zM281.0 145.9H282.0V155.0H281.0zM281.0 77.2H283.0V90.9H281.0zM281.0 54.3H283.0V72.6H281.0zM283.0 54.3H285.0V68.0H283.0zM283.0 72.6H287.0V90.9H283.0zM287.0 77.2H289.0V90.9H287.0zM289.0 72.6H291.0V90.9H289.0zM286.0 54.3H292.0V68.0H286.0zM291.0 77.2H292.0V86.3H291.0zM293.0 54.3H294.0V68.0H293.0zM293.0 72.6H294.0V90.9H293.0zM294.0 54.3H295.0V90.9H294.0zM295.0 72.6H296.0V81.8H295.0zM295.0 54.3H296.0V68.0H295.0zM297.0 77.2H298.0V90.9H297.0zM297.0 54.3H298.0V68.0H297.0zM298.0 54.3H299.0V90.9H298.0zM299.0 54.3H300.0V68.0H299.0zM299.0 72.6H300.0V90.9H299.0zM300.0 54.3H301.0V90.9H300.0zM301.0 77.2H302.0V86.3H301.0zM301.0 54.3H302.0V68.0H301.0zM302.0 54.3H303.0V90.9H302.0zM303.0 54.3H304.0V68.0H303.0zM303.0 77.2H304.0V81.8H303.0zM304.0 54.3H305.0V90.9H304.0zM305.0 54.3H307.0V72.6H305.0zM306.0 77.2H307.0V90.9H306.0zM308.0 54.3H311.0V68.0H308.0zM308.0 72.6H311.0V90.9H308.0zM312.0 54.3H313.0V90.9H312.0zM313.0 72.6H314.0V90.9H313.0zM313.0 54.3H315.0V68.0H313.0zM314.0 77.2H315.0V86.3H314.0zM315.0 54.3H316.0V90.9H315.0zM316.0 72.6H317.0V90.9H316.0zM316.0 54.3H318.0V68.0H316.0zM318.0 54.3H319.0V90.9H318.0zM319.0 77.2H320.0V86.3H319.0zM319.0 54.3H320.0V68.0H319.0zM320.0 54.3H321.0V90.9H320.0zM321.0 54.3H322.0V86.3H321.0zM322.0 77.2H323.0V90.9H322.0zM323.0 72.6H325.0V90.9H323.0zM323.0 54.3H326.0V68.0H323.0zM325.0 77.2H326.0V90.9H325.0zM326.0 54.3H327.0V86.3H326.0zM327.0 54.3H328.0V90.9H327.0zM328.0 54.3H329.0V86.3H328.0zM329.0 54.3H330.0V90.9H329.0zM330.0 54.3H331.0V68.0H330.0zM330.0 72.6H331.0V90.9H330.0zM333.0 54.3H334.0V90.9H333.0zM334.0 54.3H335.0V68.0H334.0zM334.0 72.6H335.0V90.9H334.0zM335.0 54.3H336.0V90.9H335.0zM336.0 54.3H337.0V86.3H336.0zM337.0 77.2H338.0V81.8H337.0zM337.0 54.3H339.0V68.0H337.0zM338.0 72.6H339.0V90.9H338.0zM339.0 77.2H340.0V90.9H339.0zM339.0 54.3H340.0V72.6H339.0zM341.0 72.6H347.0V90.9H341.0zM348.0 77.2H349.0V90.9H348.0zM340.0 54.3H350.0V68.0H340.0zM349.0 72.6H350.0V90.9H349.0zM350.0 77.2H351.0V90.9H350.0zM350.0 54.3H351.0V72.6H350.0zM351.0 54.3H352.0V68.0H351.0zM351.0 72.6H352.0V90.9H351.0zM353.0 54.3H354.0V68.0H353.0zM353.0 72.6H354.0V90.9H353.0zM355.0 72.6H356.0V90.9H355.0zM356.0 77.2H357.0V90.9H356.0zM357.0 72.6H358.0V90.9H357.0zM355.0 54.3H362.0V68.0H355.0zM359.0 72.6H362.0V90.9H359.0zM362.0 54.3H363.0V72.6H362.0zM363.0 54.3H364.0V90.9H363.0zM364.0 54.3H365.0V72.6H364.0zM365.0 72.6H366.0V90.9H365.0zM365.0 54.3H367.0V68.0H365.0zM367.0 54.3H368.0V90.9H367.0zM368.0 54.3H370.0V68.0H368.0zM368.0 72.6H370.0V90.9H368.0zM370.0 54.3H371.0V90.9H370.0zM371.0 54.3H375.0V68.0H371.0zM371.0 72.6H378.0V90.9H371.0zM376.0 54.3H378.0V68.0H376.0zM379.0 54.3H380.0V90.9H379.0zM380.0 54.3H381.0V68.0H380.0zM381.0 72.6H382.0V90.9H381.0zM382.0 77.2H383.0V90.9H382.0zM382.0 54.3H385.0V68.0H382.0zM383.0 72.6H385.0V90.9H383.0zM385.0 54.3H387.0V90.9H385.0zM388.0 72.6H389.0V90.9H388.0zM390.0 72.6H391.0V86.3H390.0zM391.0 77.2H392.0V90.9H391.0zM387.0 54.3H393.0V68.0H387.0zM392.0 72.6H393.0V90.9H392.0zM394.0 72.6H396.0V90.9H394.0zM396.0 77.2H397.0V90.9H396.0zM397.0 72.6H398.0V90.9H397.0zM398.0 77.2H399.0V90.9H398.0zM394.0 54.3H400.0V68.0H394.0zM399.0 72.6H400.0V90.9H399.0zM402.0 77.2H403.0V90.9H402.0zM401.0 54.3H404.0V68.0H401.0zM403.0 72.6H404.0V90.9H403.0zM404.0 77.2H405.0V90.9H404.0zM405.0 54.3H406.0V68.0H405.0zM405.0 72.6H406.0V90.9H405.0zM406.0 54.3H407.0V90.9H406.0zM407.0 54.3H408.0V68.0H407.0zM407.0 72.6H408.0V90.9H407.0zM408.0 54.3H409.0V90.9H408.0zM409.0 297.0H410.0V310.8H409.0zM409.0 72.6H410.0V90.9H409.0zM409.0 54.3H411.0V68.0H409.0zM410.0 77.2H411.0V90.9H410.0zM411.0 54.3H412.0V90.9H411.0zM412.0 72.6H415.0V90.9H412.0zM412.0 54.3H416.0V68.0H412.0zM415.0 77.2H416.0V86.3H415.0zM416.0 54.3H417.0V90.9H416.0zM417.0 54.3H418.0V68.0H417.0zM417.0 72.6H418.0V90.9H417.0zM418.0 54.3H419.0V90.9H418.0zM419.0 72.6H420.0V90.9H419.0zM420.0 72.6H421.0V86.3H420.0zM421.0 72.6H422.0V90.9H421.0zM419.0 54.3H423.0V68.0H419.0zM424.0 77.2H426.0V90.9H424.0zM426.0 72.6H427.0V90.9H426.0zM424.0 54.3H430.0V68.0H424.0zM428.0 72.6H430.0V90.9H428.0zM431.0 54.3H432.0V68.0H431.0zM431.0 72.6H432.0V90.9H431.0zM432.0 54.3H434.0V90.9H432.0zM434.0 77.2H435.0V90.9H434.0zM434.0 54.3H435.0V72.6H434.0zM435.0 54.3H436.0V90.9H435.0zM436.0 54.3H437.0V68.0H436.0zM438.0 72.6H440.0V90.9H438.0zM438.0 54.3H441.0V68.0H438.0zM440.0 77.2H441.0V90.9H440.0zM441.0 54.3H442.0V86.3H441.0zM442.0 54.3H443.0V68.0H442.0zM442.0 72.6H443.0V90.9H442.0zM443.0 54.3H444.0V86.3H443.0zM444.0 54.3H445.0V81.8H444.0zM445.0 54.3H447.0V68.0H445.0zM447.0 77.2H448.0V90.9H447.0zM447.0 54.3H448.0V72.6H447.0zM448.0 72.6H449.0V90.9H448.0zM448.0 54.3H450.0V68.0H448.0zM449.0 77.2H451.0V90.9H449.0zM450.0 54.3H451.0V72.6H450.0zM451.0 54.3H452.0V68.0H451.0zM451.0 72.6H452.0V90.9H451.0zM452.0 54.3H453.0V90.9H452.0zM453.0 54.3H455.0V68.0H453.0zM453.0 72.6H455.0V90.9H453.0zM455.0 54.3H457.0V90.9H455.0zM457.0 77.2H458.0V90.9H457.0zM458.0 54.3H459.0V90.9H458.0zM459.0 77.2H460.0V90.9H459.0zM459.0 54.3H460.0V68.0H459.0zM460.0 54.3H461.0V90.9H460.0zM461.0 54.3H462.0V72.6H461.0zM462.0 72.6H464.0V90.9H462.0zM463.0 54.3H464.0V68.0H463.0zM464.0 54.3H465.0V86.3H464.0zM467.0 72.6H468.0V90.9H467.0zM468.0 72.6H469.0V86.3H468.0zM467.0 54.3H471.0V68.0H467.0zM469.0 72.6H471.0V90.9H469.0zM472.0 54.3H473.0V90.9H472.0zM473.0 54.3H475.0V68.0H473.0zM473.0 72.6H475.0V90.9H473.0zM475.0 54.3H476.0V90.9H475.0zM476.0 54.3H477.0V68.0H476.0zM476.0 77.2H478.0V90.9H476.0zM477.0 54.3H478.0V72.6H477.0zM478.0 72.6H480.0V90.9H478.0zM480.0 77.2H481.0V90.9H480.0zM478.0 54.3H482.0V68.0H478.0zM481.0 77.2H482.0V81.8H481.0z"/>
<path fill="#469696" d="M549.0 302.9H550.0V333.8H549.0zM549.0 117.7H550.0V122.1H549.0zM549.0 60.3H550.0V69.2H549.0zM550.0 316.1H551.0V333.8H550.0zM551.0 82.4H552.0V100.0H551.0zM551.0 302.9H553.0V333.8H551.0zM549.0 245.6H554.0V258.8H549.0zM553.0 38.3H554.0V55.9H553.0zM553.0 316.1H554.0V333.8H553.0zM554.0 91.2H555.0V104.5H554.0zM554.0 302.9H556.0V316.1H554.0zM555.0 38.3H556.0V55.9H555.0zM556.0 307.3H557.0V316.1H556.0zM556.0 227.9H557.0V245.6H556.0zM556.0 100.0H558.0V117.7H556.0zM557.0 302.9H558.0V316.1H557.0zM558.0 104.5H559.0V117.7H558.0zM558.0 302.9H560.0V333.8H558.0zM559.0 82.4H560.0V86.8H559.0zM559.0 38.3H560.0V55.9H559.0zM560.0 302.9H561.0V307.3H560.0zM560.0 64.8H561.0V104.5H560.0zM560.0 316.1H561.0V333.8H560.0zM561.0 38.3H562.0V55.9H561.0zM561.0 302.9H562.0V333.8H561.0zM557.0 245.6H563.0V258.8H557.0zM562.0 60.3H563.0V100.0H562.0zM562.0 307.3H563.0V333.8H562.0zM563.0 78.0H564.0V86.8H563.0zM563.0 108.9H564.0V117.7H563.0zM563.0 302.9H565.0V333.8H563.0zM564.0 104.5H565.0V117.7H564.0zM564.0 82.4H566.0V86.8H564.0zM565.0 302.9H566.0V320.5H565.0zM566.0 38.3H567.0V55.9H566.0zM566.0 302.9H567.0V333.8H566.0zM567.0 60.3H568.0V117.7H567.0zM564.0 245.6H569.0V258.8H564.0zM568.0 108.9H569.0V117.7H568.0zM568.0 78.0H569.0V82.4H568.0zM567.0 302.9H571.0V320.5H567.0zM570.0 117.7H571.0V122.1H570.0zM570.0 64.8H571.0V82.4H570.0zM571.0 104.5H572.0V117.7H571.0zM571.0 302.9H572.0V333.8H571.0zM572.0 302.9H573.0V316.1H572.0zM573.0 161.8H574.0V175.0H573.0zM573.0 302.9H574.0V333.8H573.0zM575.0 161.8H576.0V170.6H575.0zM575.0 64.8H576.0V100.0H575.0zM576.0 104.5H577.0V117.7H576.0zM576.0 78.0H577.0V82.4H576.0zM571.0 245.6H578.0V258.8H571.0zM574.0 302.9H578.0V316.1H574.0zM577.0 108.9H578.0V117.7H577.0zM578.0 307.3H579.0V316.1H578.0zM578.0 104.5H579.0V117.7H578.0zM579.0 82.4H580.0V86.8H579.0zM579.0 245.6H580.0V258.8H579.0zM580.0 100.0H581.0V117.7H580.0zM580.0 64.8H581.0V86.8H580.0zM579.0 302.9H582.0V333.8H579.0zM581.0 245.6H582.0V258.8H581.0zM582.0 307.3H583.0V333.8H582.0zM581.0 104.5H584.0V117.7H581.0zM583.0 302.9H585.0V333.8H583.0zM583.0 245.6H585.0V258.8H583.0zM584.0 78.0H585.0V82.4H584.0zM585.0 307.3H586.0V333.8H585.0zM568.0 38.3H587.0V55.9H568.0zM586.0 302.9H588.0V333.8H586.0zM587.0 245.6H588.0V258.8H587.0zM588.0 100.0H589.0V117.7H588.0zM588.0 82.4H589.0V86.8H588.0zM588.0 60.3H589.0V69.2H588.0zM589.0 245.6H591.0V258.8H589.0zM588.0 307.3H592.0V333.8H588.0zM592.0 82.4H593.0V86.8H592.0zM592.0 302.9H593.0V333.8H592.0zM593.0 60.3H594.0V78.0H593.0zM593.0 86.8H594.0V104.5H593.0zM593.0 307.3H594.0V333.8H593.0zM592.0 245.6H595.0V258.8H592.0zM594.0 64.8H595.0V86.8H594.0zM595.0 104.5H596.0V117.7H595.0zM595.0 78.0H596.0V82.4H595.0zM588.0 38.3H597.0V55.9H588.0zM596.0 100.0H598.0V117.7H596.0zM598.0 78.0H599.0V86.8H598.0zM598.0 104.5H599.0V117.7H598.0zM596.0 245.6H600.0V258.8H596.0zM599.0 100.0H600.0V117.7H599.0zM603.0 82.4H604.0V86.8H603.0zM604.0 38.3H605.0V55.9H604.0zM594.0 302.9H607.0V333.8H594.0zM601.0 245.6H607.0V258.8H601.0zM607.0 302.9H608.0V316.1H607.0zM607.0 245.6H608.0V263.2H607.0zM608.0 307.3H609.0V333.8H608.0zM608.0 78.0H609.0V100.0H608.0zM609.0 82.4H610.0V100.0H609.0zM600.0 104.5H611.0V117.7H600.0zM609.0 302.9H612.0V333.8H609.0zM611.0 82.4H612.0V117.7H611.0zM612.0 302.9H613.0V307.3H612.0zM612.0 316.1H613.0V333.8H612.0zM612.0 78.0H613.0V82.4H612.0zM613.0 307.3H614.0V333.8H613.0zM614.0 78.0H615.0V82.4H614.0zM608.0 245.6H616.0V258.8H608.0zM615.0 60.3H616.0V64.8H615.0zM616.0 245.6H617.0V263.2H616.0zM616.0 64.8H617.0V82.4H616.0zM614.0 302.9H618.0V333.8H614.0zM617.0 78.0H618.0V82.4H617.0zM618.0 307.3H619.0V333.8H618.0zM618.0 38.3H619.0V55.9H618.0zM619.0 82.4H620.0V86.8H619.0zM619.0 302.9H620.0V333.8H619.0zM620.0 307.3H621.0V333.8H620.0zM612.0 104.5H622.0V117.7H612.0zM621.0 302.9H622.0V307.3H621.0zM621.0 316.1H622.0V333.8H621.0zM622.0 307.3H623.0V333.8H622.0zM622.0 60.3H623.0V117.7H622.0zM623.0 104.5H626.0V117.7H623.0zM623.0 302.9H626.0V333.8H623.0zM626.0 316.1H627.0V333.8H626.0zM626.0 302.9H627.0V307.3H626.0zM626.0 78.0H627.0V82.4H626.0zM627.0 82.4H628.0V117.7H627.0zM628.0 104.5H630.0V117.7H628.0zM629.0 161.8H630.0V170.6H629.0zM630.0 82.4H631.0V117.7H630.0zM627.0 302.9H633.0V333.8H627.0zM632.0 60.3H633.0V64.8H632.0zM632.0 78.0H633.0V82.4H632.0zM633.0 302.9H634.0V316.1H633.0zM633.0 82.4H634.0V86.8H633.0zM634.0 307.3H635.0V333.8H634.0zM635.0 302.9H636.0V333.8H635.0zM636.0 307.3H637.0V333.8H636.0zM636.0 78.0H637.0V82.4H636.0zM637.0 78.0H638.0V86.8H637.0zM638.0 161.8H639.0V175.0H638.0zM637.0 302.9H640.0V333.8H637.0zM640.0 38.3H641.0V55.9H640.0zM640.0 302.9H642.0V347.0H640.0zM642.0 302.9H644.0V333.8H642.0zM643.0 60.3H644.0V100.0H643.0zM644.0 307.3H645.0V347.0H644.0zM631.0 104.5H646.0V117.7H631.0zM645.0 307.3H646.0V333.8H645.0zM646.0 64.8H647.0V117.7H646.0zM646.0 38.3H647.0V55.9H646.0zM647.0 104.5H649.0V117.7H647.0zM648.0 78.0H649.0V82.4H648.0zM646.0 302.9H650.0V333.8H646.0zM650.0 316.1H651.0V333.8H650.0zM650.0 157.4H651.0V175.0H650.0zM650.0 82.4H651.0V86.8H650.0zM650.0 38.3H651.0V55.9H650.0zM651.0 302.9H652.0V333.8H651.0zM651.0 78.0H652.0V82.4H651.0zM652.0 307.3H653.0V333.8H652.0zM653.0 78.0H654.0V82.4H653.0zM653.0 60.3H654.0V69.2H653.0zM654.0 60.3H655.0V100.0H654.0zM617.0 245.6H656.0V258.8H617.0zM653.0 302.9H656.0V333.8H653.0zM655.0 82.4H656.0V86.8H655.0zM655.0 38.3H656.0V55.9H655.0zM656.0 307.3H657.0V333.8H656.0zM650.0 104.5H658.0V117.7H650.0zM657.0 78.0H658.0V82.4H657.0zM657.0 245.6H659.0V258.8H657.0zM658.0 60.3H659.0V117.7H658.0zM657.0 302.9H661.0V333.8H657.0zM660.0 60.3H661.0V64.8H660.0zM660.0 38.3H661.0V55.9H660.0zM661.0 302.9H663.0V347.0H661.0zM667.0 82.4H668.0V86.8H667.0zM659.0 104.5H669.0V117.7H659.0zM663.0 302.9H670.0V333.8H663.0zM669.0 95.6H670.0V117.7H669.0zM670.0 64.8H671.0V117.7H670.0zM670.0 307.3H671.0V333.8H670.0zM671.0 302.9H672.0V347.0H671.0zM671.0 82.4H672.0V86.8H671.0zM672.0 307.3H673.0V333.8H672.0zM673.0 302.9H675.0V333.8H673.0zM674.0 38.3H675.0V55.9H674.0zM675.0 307.3H676.0V333.8H675.0zM676.0 302.9H677.0V333.8H676.0zM677.0 302.9H678.0V316.1H677.0zM677.0 82.4H678.0V86.8H677.0zM677.0 38.3H678.0V55.9H677.0zM678.0 78.0H679.0V82.4H678.0zM671.0 104.5H680.0V117.7H671.0zM679.0 38.3H680.0V55.9H679.0zM680.0 78.0H681.0V117.7H680.0zM678.0 302.9H682.0V333.8H678.0zM682.0 307.3H683.0V333.8H682.0zM681.0 38.3H684.0V55.9H681.0zM683.0 302.9H684.0V333.8H683.0zM684.0 302.9H685.0V307.3H684.0zM684.0 316.1H685.0V333.8H684.0zM685.0 38.3H686.0V55.9H685.0zM681.0 104.5H689.0V117.7H681.0zM687.0 78.0H689.0V82.4H687.0zM688.0 38.3H689.0V55.9H688.0zM689.0 82.4H690.0V117.7H689.0zM690.0 78.0H692.0V86.8H690.0zM690.0 104.5H692.0V117.7H690.0zM692.0 78.0H693.0V117.7H692.0zM685.0 302.9H695.0V333.8H685.0zM694.0 82.4H695.0V86.8H694.0zM695.0 307.3H696.0V333.8H695.0zM697.0 60.3H698.0V86.8H697.0zM698.0 82.4H699.0V86.8H698.0zM696.0 302.9H700.0V333.8H696.0zM693.0 104.5H701.0V117.7H693.0zM700.0 302.9H701.0V347.0H700.0zM701.0 307.3H702.0V333.8H701.0zM701.0 82.4H702.0V117.7H701.0zM702.0 302.9H703.0V333.8H702.0zM702.0 104.5H703.0V117.7H702.0zM702.0 64.8H703.0V82.4H702.0zM703.0 307.3H704.0V333.8H703.0zM703.0 104.5H704.0V122.1H703.0zM704.0 78.0H705.0V86.8H704.0zM705.0 64.8H706.0V82.4H705.0zM704.0 104.5H707.0V117.7H704.0zM704.0 302.9H708.0V333.8H704.0zM707.0 78.0H708.0V82.4H707.0zM708.0 307.3H709.0V333.8H708.0zM708.0 104.5H710.0V117.7H708.0zM660.0 245.6H711.0V258.8H660.0zM709.0 302.9H713.0V333.8H709.0zM711.0 104.5H713.0V117.7H711.0zM712.0 82.4H713.0V86.8H712.0zM713.0 307.3H714.0V333.8H713.0zM713.0 78.0H715.0V82.4H713.0zM714.0 104.5H715.0V117.7H714.0zM714.0 302.9H716.0V333.8H714.0zM715.0 78.0H716.0V117.7H715.0zM716.0 302.9H717.0V307.3H716.0zM716.0 316.1H717.0V333.8H716.0zM717.0 302.9H718.0V316.1H717.0zM717.0 64.8H718.0V82.4H717.0zM713.0 245.6H720.0V258.8H713.0zM718.0 302.9H720.0V333.8H718.0zM716.0 104.5H721.0V117.7H716.0zM720.0 60.3H721.0V64.8H720.0zM720.0 227.9H721.0V258.8H720.0zM720.0 78.0H721.0V86.8H720.0zM720.0 307.3H721.0V333.8H720.0zM721.0 60.3H722.0V117.7H721.0zM721.0 302.9H724.0V333.8H721.0zM723.0 82.4H724.0V86.8H723.0zM722.0 104.5H725.0V117.7H722.0zM724.0 307.3H725.0V333.8H724.0zM725.0 78.0H726.0V117.7H725.0zM725.0 302.9H726.0V333.8H725.0zM726.0 307.3H727.0V333.8H726.0zM726.0 95.6H727.0V117.7H726.0zM727.0 302.9H728.0V333.8H727.0zM727.0 78.0H728.0V82.4H727.0zM728.0 82.4H729.0V86.8H728.0zM728.0 307.3H729.0V347.0H728.0zM730.0 78.0H731.0V82.4H730.0zM729.0 302.9H733.0V333.8H729.0zM732.0 161.8H733.0V175.0H732.0zM727.0 104.5H735.0V117.7H727.0zM733.0 307.3H735.0V333.8H733.0zM735.0 82.4H736.0V117.7H735.0zM736.0 82.4H737.0V86.8H736.0zM736.0 104.5H738.0V117.7H736.0zM721.0 245.6H740.0V258.8H721.0zM735.0 302.9H741.0V333.8H735.0zM741.0 60.3H742.0V100.0H741.0zM741.0 307.3H742.0V333.8H741.0zM741.0 104.5H742.0V117.7H741.0zM742.0 78.0H743.0V100.0H742.0zM742.0 302.9H743.0V333.8H742.0zM743.0 157.4H744.0V175.0H743.0zM743.0 307.3H744.0V333.8H743.0zM743.0 78.0H744.0V82.4H743.0zM744.0 64.8H745.0V113.3H744.0zM744.0 302.9H745.0V307.3H744.0zM744.0 316.1H745.0V333.8H744.0zM745.0 38.3H746.0V55.9H745.0zM746.0 95.6H747.0V104.5H746.0zM746.0 78.0H747.0V82.4H746.0zM745.0 302.9H749.0V333.8H745.0zM748.0 78.0H750.0V82.4H748.0zM749.0 307.3H750.0V333.8H749.0zM750.0 95.6H751.0V108.9H750.0zM750.0 64.8H751.0V86.8H750.0zM751.0 78.0H752.0V104.5H751.0zM750.0 302.9H753.0V333.8H750.0zM753.0 307.3H754.0V333.8H753.0zM753.0 91.2H754.0V104.5H753.0zM754.0 302.9H755.0V347.0H754.0zM755.0 302.9H756.0V333.8H755.0zM756.0 302.9H757.0V347.0H756.0zM756.0 78.0H757.0V82.4H756.0zM757.0 82.4H758.0V104.5H757.0zM757.0 302.9H759.0V333.8H757.0zM758.0 104.5H759.0V117.7H758.0zM759.0 307.3H760.0V333.8H759.0zM760.0 302.9H761.0V333.8H760.0zM760.0 95.6H761.0V108.9H760.0zM760.0 82.4H761.0V86.8H760.0zM760.0 38.3H761.0V55.9H760.0zM761.0 307.3H762.0V333.8H761.0zM762.0 82.4H763.0V86.8H762.0zM762.0 38.3H763.0V55.9H762.0zM762.0 302.9H763.0V333.8H762.0zM763.0 302.9H764.0V316.1H763.0zM763.0 104.5H765.0V117.7H763.0zM764.0 78.0H765.0V82.4H764.0zM764.0 302.9H766.0V333.8H764.0zM765.0 82.4H766.0V86.8H765.0zM766.0 307.3H767.0V333.8H766.0zM766.0 104.5H767.0V117.7H766.0zM767.0 60.3H768.0V86.8H767.0zM768.0 60.3H769.0V82.4H768.0zM768.0 104.5H770.0V117.7H768.0zM771.0 82.4H772.0V86.8H771.0zM741.0 245.6H774.0V258.8H741.0zM767.0 302.9H774.0V333.8H767.0zM771.0 104.5H775.0V117.7H771.0zM774.0 302.9H775.0V307.3H774.0zM774.0 316.1H775.0V333.8H774.0zM774.0 82.4H775.0V86.8H774.0zM775.0 60.3H776.0V64.8H775.0zM775.0 302.9H776.0V333.8H775.0zM776.0 82.4H777.0V86.8H776.0zM776.0 307.3H777.0V316.1H776.0zM777.0 60.3H778.0V69.2H777.0zM777.0 104.5H779.0V117.7H777.0zM778.0 82.4H779.0V86.8H778.0zM764.0 38.3H780.0V55.9H764.0zM775.0 245.6H780.0V258.8H775.0zM777.0 302.9H780.0V333.8H777.0zM779.0 95.6H780.0V117.7H779.0zM780.0 316.1H781.0V333.8H780.0zM782.0 78.0H783.0V82.4H782.0zM781.0 38.3H784.0V55.9H781.0zM781.0 104.5H784.0V117.7H781.0zM783.0 60.3H784.0V64.8H783.0zM781.0 302.9H785.0V333.8H781.0zM784.0 161.8H785.0V175.0H784.0zM785.0 302.9H786.0V307.3H785.0zM785.0 316.1H786.0V333.8H785.0zM785.0 78.0H786.0V82.4H785.0zM785.0 104.5H787.0V117.7H785.0zM785.0 38.3H787.0V55.9H785.0zM786.0 161.8H787.0V170.6H786.0zM787.0 91.2H788.0V117.7H787.0zM787.0 60.3H788.0V82.4H787.0zM786.0 302.9H789.0V333.8H786.0zM788.0 104.5H790.0V117.7H788.0zM789.0 307.3H790.0V333.8H789.0zM790.0 91.2H791.0V117.7H790.0zM790.0 316.1H791.0V333.8H790.0zM791.0 104.5H792.0V117.7H791.0zM791.0 302.9H792.0V333.8H791.0zM792.0 307.3H794.0V333.8H792.0zM794.0 82.4H795.0V86.8H794.0zM794.0 104.5H798.0V117.7H794.0zM798.0 64.8H799.0V117.7H798.0zM802.0 161.8H803.0V175.0H802.0zM802.0 60.3H803.0V86.8H802.0zM794.0 302.9H804.0V333.8H794.0zM799.0 104.5H804.0V117.7H799.0zM804.0 60.3H805.0V117.7H804.0zM804.0 307.3H806.0V333.8H804.0zM805.0 104.5H806.0V117.7H805.0zM805.0 78.0H806.0V86.8H805.0zM806.0 91.2H807.0V117.7H806.0zM806.0 82.4H807.0V86.8H806.0zM806.0 302.9H808.0V333.8H806.0zM808.0 95.6H809.0V108.9H808.0zM808.0 82.4H809.0V86.8H808.0zM808.0 307.3H809.0V333.8H808.0zM810.0 82.4H811.0V113.3H810.0zM809.0 302.9H812.0V333.8H809.0zM812.0 307.3H813.0V316.1H812.0zM812.0 104.5H813.0V117.7H812.0zM813.0 302.9H815.0V333.8H813.0zM815.0 157.4H816.0V170.6H815.0zM815.0 307.3H816.0V333.8H815.0zM816.0 302.9H817.0V307.3H816.0zM816.0 316.1H817.0V333.8H816.0zM816.0 64.8H817.0V82.4H816.0zM817.0 307.3H818.0V333.8H817.0zM818.0 316.1H819.0V333.8H818.0zM819.0 307.3H820.0V333.8H819.0zM820.0 302.9H822.0V333.8H820.0zM821.0 82.4H822.0V86.8H821.0zM795.0 38.3H823.0V55.9H795.0zM822.0 307.3H823.0V333.8H822.0zM822.0 78.0H823.0V82.4H822.0zM823.0 302.9H826.0V333.8H823.0zM826.0 60.3H827.0V64.8H826.0zM827.0 78.0H828.0V100.0H827.0zM828.0 78.0H829.0V82.4H828.0zM830.0 78.0H831.0V82.4H830.0zM832.0 82.4H833.0V86.8H832.0zM814.0 104.5H834.0V117.7H814.0zM826.0 316.1H834.0V333.8H826.0zM833.0 157.4H834.0V175.0H833.0zM834.0 78.0H835.0V117.7H834.0zM835.0 104.5H836.0V117.7H835.0zM836.0 100.0H837.0V117.7H836.0zM834.0 302.9H839.0V333.8H834.0zM837.0 104.5H840.0V117.7H837.0zM839.0 307.3H840.0V333.8H839.0zM840.0 82.4H841.0V86.8H840.0zM841.0 104.5H843.0V117.7H841.0zM824.0 38.3H844.0V55.9H824.0zM840.0 302.9H844.0V333.8H840.0zM843.0 78.0H844.0V117.7H843.0zM843.0 60.3H844.0V69.2H843.0zM844.0 307.3H845.0V333.8H844.0zM844.0 82.4H845.0V117.7H844.0zM845.0 91.2H846.0V117.7H845.0zM845.0 60.3H846.0V86.8H845.0zM846.0 82.4H847.0V86.8H846.0zM845.0 302.9H848.0V333.8H845.0zM846.0 104.5H849.0V117.7H846.0zM848.0 307.3H849.0V333.8H848.0zM849.0 95.6H850.0V117.7H849.0zM849.0 60.3H850.0V69.2H849.0zM850.0 82.4H851.0V86.8H850.0zM851.0 60.3H852.0V64.8H851.0zM851.0 161.8H852.0V170.6H851.0zM849.0 302.9H854.0V333.8H849.0zM849.0 38.3H855.0V55.9H849.0zM855.0 157.4H856.0V175.0H855.0zM855.0 82.4H856.0V86.8H855.0zM854.0 307.3H857.0V333.8H854.0zM858.0 82.4H859.0V86.8H858.0zM859.0 38.3H862.0V55.9H859.0zM857.0 302.9H863.0V333.8H857.0zM863.0 82.4H864.0V86.8H863.0zM863.0 302.9H865.0V316.1H863.0zM865.0 60.3H866.0V100.0H865.0zM865.0 316.1H867.0V333.8H865.0zM867.0 161.8H868.0V170.6H867.0zM868.0 316.1H869.0V333.8H868.0zM868.0 78.0H869.0V86.8H868.0zM869.0 302.9H870.0V316.1H869.0zM869.0 78.0H870.0V82.4H869.0zM870.0 78.0H871.0V86.8H870.0zM871.0 302.9H872.0V316.1H871.0zM872.0 78.0H873.0V86.8H872.0zM873.0 302.9H876.0V316.1H873.0zM874.0 82.4H876.0V86.8H874.0zM877.0 78.0H878.0V82.4H877.0zM877.0 60.3H878.0V69.2H877.0zM850.0 104.5H879.0V117.7H850.0zM879.0 60.3H880.0V117.7H879.0zM867.0 38.3H881.0V55.9H867.0zM881.0 302.9H882.0V333.8H881.0zM880.0 104.5H885.0V117.7H880.0zM883.0 302.9H886.0V316.1H883.0zM885.0 91.2H886.0V122.1H885.0zM885.0 82.4H886.0V86.8H885.0zM886.0 78.0H887.0V86.8H886.0zM886.0 104.5H887.0V117.7H886.0zM882.0 38.3H888.0V55.9H882.0zM887.0 78.0H888.0V117.7H887.0zM887.0 298.5H888.0V307.3H887.0zM890.0 157.4H891.0V170.6H890.0zM890.0 302.9H892.0V316.1H890.0zM892.0 302.9H893.0V333.8H892.0zM892.0 157.4H893.0V175.0H892.0zM896.0 302.9H897.0V316.1H896.0zM897.0 78.0H898.0V82.4H897.0zM897.0 302.9H899.0V333.8H897.0zM898.0 60.3H899.0V86.8H898.0zM889.0 104.5H900.0V117.7H889.0zM900.0 302.9H901.0V316.1H900.0zM901.0 316.1H902.0V333.8H901.0zM889.0 38.3H903.0V55.9H889.0zM902.0 302.9H903.0V316.1H902.0zM902.0 78.0H903.0V82.4H902.0zM903.0 298.5H904.0V307.3H903.0zM904.0 60.3H905.0V113.3H904.0zM904.0 38.3H906.0V55.9H904.0zM905.0 298.5H906.0V316.1H905.0zM907.0 302.9H908.0V316.1H907.0zM908.0 38.3H910.0V55.9H908.0zM908.0 316.1H910.0V333.8H908.0zM910.0 78.0H911.0V86.8H910.0zM910.0 302.9H912.0V333.8H910.0zM911.0 82.4H913.0V86.8H911.0zM912.0 104.5H913.0V117.7H912.0zM912.0 316.1H913.0V333.8H912.0zM912.0 38.3H913.0V55.9H912.0zM913.0 302.9H914.0V316.1H913.0zM914.0 38.3H915.0V55.9H914.0zM914.0 316.1H915.0V333.8H914.0zM915.0 60.3H916.0V69.2H915.0zM916.0 298.5H917.0V307.3H916.0zM916.0 38.3H917.0V55.9H916.0zM917.0 302.9H918.0V316.1H917.0zM919.0 82.4H920.0V86.8H919.0zM918.0 38.3H921.0V55.9H918.0zM919.0 302.9H921.0V316.1H919.0zM920.0 104.5H921.0V117.7H920.0zM920.0 78.0H921.0V82.4H920.0zM921.0 316.1H922.0V333.8H921.0zM922.0 302.9H924.0V316.1H922.0zM923.0 161.8H924.0V175.0H923.0zM923.0 60.3H924.0V113.3H923.0zM924.0 78.0H925.0V86.8H924.0zM924.0 117.7H925.0V122.1H924.0zM924.0 316.1H925.0V333.8H924.0zM925.0 82.4H926.0V117.7H925.0zM925.0 302.9H926.0V333.8H925.0zM781.0 245.6H927.0V258.8H781.0zM926.0 316.1H927.0V333.8H926.0zM927.0 302.9H928.0V333.8H927.0zM927.0 78.0H928.0V82.4H927.0zM928.0 302.9H929.0V316.1H928.0zM928.0 38.3H930.0V55.9H928.0zM929.0 82.4H930.0V86.8H929.0zM930.0 298.5H931.0V307.3H930.0zM929.0 316.1H932.0V333.8H929.0zM931.0 64.8H932.0V104.5H931.0zM932.0 78.0H933.0V113.3H932.0zM932.0 302.9H933.0V333.8H932.0zM931.0 38.3H934.0V55.9H931.0zM933.0 302.9H936.0V316.1H933.0zM936.0 82.4H937.0V86.8H936.0zM937.0 316.1H938.0V333.8H937.0zM936.0 38.3H939.0V55.9H936.0zM938.0 60.3H939.0V108.9H938.0zM939.0 82.4H940.0V100.0H939.0zM940.0 82.4H941.0V86.8H940.0zM940.0 38.3H941.0V55.9H940.0zM940.0 104.5H941.0V117.7H940.0zM941.0 117.7H942.0V122.1H941.0zM943.0 157.4H944.0V175.0H943.0zM944.0 78.0H945.0V82.4H944.0zM945.0 161.8H946.0V170.6H945.0zM946.0 60.3H947.0V104.5H946.0zM947.0 104.5H948.0V117.7H947.0zM948.0 82.4H949.0V104.5H948.0zM948.0 302.9H949.0V333.8H948.0zM949.0 302.9H951.0V316.1H949.0zM950.0 82.4H951.0V86.8H950.0zM952.0 91.2H953.0V104.5H952.0zM953.0 298.5H954.0V316.1H953.0zM954.0 302.9H955.0V316.1H954.0zM928.0 245.6H957.0V258.8H928.0zM956.0 161.8H957.0V170.6H956.0zM956.0 82.4H957.0V86.8H956.0z"/>
<path fill="#e882e8" d="M549.0 122.1H550.0V166.2H549.0zM549.0 175.0H550.0V241.2H549.0zM550.0 117.7H551.0V161.8H550.0zM550.0 179.4H551.0V241.2H550.0zM551.0 175.0H552.0V236.8H551.0zM551.0 117.7H554.0V166.2H551.0zM554.0 117.7H555.0V161.8H554.0zM549.0 258.8H556.0V302.9H549.0zM552.0 175.0H556.0V241.2H552.0zM555.0 117.7H556.0V166.2H555.0zM556.0 258.8H557.0V307.3H556.0zM556.0 175.0H557.0V227.9H556.0zM556.0 117.7H558.0V161.8H556.0zM557.0 175.0H558.0V241.2H557.0zM558.0 60.3H559.0V100.0H558.0zM558.0 179.4H559.0V241.2H558.0zM558.0 117.7H561.0V166.2H558.0zM557.0 258.8H562.0V302.9H557.0zM561.0 117.7H562.0V161.8H561.0zM559.0 175.0H563.0V241.2H559.0zM562.0 117.7H563.0V166.2H562.0zM562.0 258.8H563.0V307.3H562.0zM563.0 175.0H564.0V236.8H563.0zM563.0 117.7H565.0V161.8H563.0zM565.0 60.3H566.0V82.4H565.0zM564.0 175.0H567.0V241.2H564.0zM567.0 175.0H568.0V236.8H567.0zM565.0 117.7H569.0V166.2H565.0zM569.0 117.7H570.0V161.8H569.0zM570.0 122.1H571.0V161.8H570.0zM571.0 117.7H573.0V166.2H571.0zM573.0 117.7H574.0V161.8H573.0zM574.0 117.7H575.0V166.2H574.0zM568.0 175.0H576.0V241.2H568.0zM575.0 117.7H576.0V161.8H575.0zM576.0 82.4H577.0V100.0H576.0zM563.0 258.8H578.0V302.9H563.0zM576.0 179.4H578.0V241.2H576.0zM578.0 258.8H579.0V307.3H578.0zM576.0 117.7H580.0V166.2H576.0zM579.0 258.8H582.0V302.9H579.0zM580.0 117.7H582.0V161.8H580.0zM582.0 258.8H583.0V307.3H582.0zM582.0 117.7H585.0V166.2H582.0zM583.0 258.8H585.0V302.9H583.0zM585.0 258.8H586.0V307.3H585.0zM585.0 117.7H587.0V161.8H585.0zM586.0 258.8H588.0V302.9H586.0zM587.0 117.7H588.0V166.2H587.0zM578.0 175.0H589.0V241.2H578.0zM588.0 117.7H590.0V161.8H588.0zM589.0 175.0H590.0V236.8H589.0zM588.0 258.8H592.0V307.3H588.0zM590.0 175.0H592.0V241.2H590.0zM590.0 117.7H592.0V166.2H590.0zM592.0 175.0H593.0V236.8H592.0zM592.0 258.8H593.0V302.9H592.0zM592.0 117.7H594.0V161.8H592.0zM593.0 78.0H594.0V86.8H593.0zM593.0 258.8H594.0V307.3H593.0zM594.0 117.7H596.0V166.2H594.0zM593.0 175.0H600.0V241.2H593.0zM600.0 179.4H601.0V241.2H600.0zM596.0 117.7H602.0V161.8H596.0zM601.0 175.0H602.0V236.8H601.0zM602.0 117.7H605.0V166.2H602.0zM605.0 117.7H606.0V161.8H605.0zM594.0 258.8H607.0V302.9H594.0zM606.0 117.7H607.0V166.2H606.0zM607.0 263.2H608.0V302.9H607.0zM607.0 117.7H608.0V161.8H607.0zM608.0 258.8H609.0V307.3H608.0zM602.0 175.0H611.0V241.2H602.0zM608.0 117.7H611.0V166.2H608.0zM611.0 179.4H612.0V241.2H611.0zM609.0 258.8H613.0V302.9H609.0zM612.0 175.0H613.0V236.8H612.0zM613.0 258.8H614.0V307.3H613.0zM614.0 258.8H616.0V302.9H614.0zM616.0 263.2H617.0V302.9H616.0zM616.0 82.4H617.0V100.0H616.0zM613.0 175.0H618.0V241.2H613.0zM617.0 258.8H618.0V302.9H617.0zM618.0 179.4H619.0V241.2H618.0zM618.0 258.8H619.0V307.3H618.0zM619.0 258.8H620.0V302.9H619.0zM620.0 258.8H621.0V307.3H620.0zM611.0 117.7H622.0V161.8H611.0zM621.0 258.8H622.0V302.9H621.0zM622.0 117.7H623.0V166.2H622.0zM622.0 258.8H623.0V307.3H622.0zM623.0 117.7H626.0V161.8H623.0zM626.0 117.7H629.0V166.2H626.0zM619.0 175.0H631.0V241.2H619.0zM629.0 117.7H631.0V161.8H629.0zM631.0 117.7H632.0V166.2H631.0zM631.0 179.4H632.0V241.2H631.0zM632.0 117.7H633.0V161.8H632.0zM623.0 258.8H634.0V302.9H623.0zM633.0 117.7H634.0V166.2H633.0zM634.0 258.8H635.0V307.3H634.0zM635.0 258.8H636.0V302.9H635.0zM636.0 258.8H637.0V307.3H636.0zM634.0 117.7H639.0V161.8H634.0zM639.0 117.7H640.0V166.2H639.0zM632.0 175.0H641.0V241.2H632.0zM640.0 117.7H641.0V161.8H640.0zM641.0 179.4H642.0V241.2H641.0zM641.0 82.4H642.0V100.0H641.0zM637.0 258.8H644.0V302.9H637.0zM641.0 117.7H644.0V166.2H641.0zM644.0 258.8H646.0V307.3H644.0zM644.0 117.7H647.0V161.8H644.0zM642.0 175.0H648.0V241.2H642.0zM647.0 117.7H649.0V166.2H647.0zM648.0 175.0H649.0V223.5H648.0zM646.0 258.8H650.0V302.9H646.0zM649.0 117.7H650.0V161.8H649.0zM650.0 117.7H651.0V157.4H650.0zM650.0 258.8H651.0V307.3H650.0zM651.0 258.8H652.0V302.9H651.0zM652.0 258.8H653.0V307.3H652.0zM651.0 117.7H654.0V161.8H651.0zM653.0 258.8H656.0V302.9H653.0zM656.0 258.8H657.0V307.3H656.0zM654.0 117.7H658.0V166.2H654.0zM658.0 117.7H659.0V161.8H658.0zM659.0 117.7H661.0V166.2H659.0zM661.0 117.7H664.0V161.8H661.0zM664.0 117.7H665.0V166.2H664.0zM665.0 60.3H666.0V100.0H665.0zM665.0 117.7H667.0V161.8H665.0zM649.0 175.0H668.0V241.2H649.0zM667.0 117.7H669.0V166.2H667.0zM668.0 175.0H669.0V236.8H668.0zM657.0 258.8H670.0V302.9H657.0zM669.0 175.0H670.0V241.2H669.0zM670.0 179.4H671.0V241.2H670.0zM670.0 258.8H671.0V307.3H670.0zM669.0 117.7H672.0V161.8H669.0zM671.0 258.8H672.0V302.9H671.0zM672.0 117.7H673.0V166.2H672.0zM672.0 258.8H673.0V307.3H672.0zM673.0 117.7H675.0V161.8H673.0zM673.0 258.8H675.0V302.9H673.0zM675.0 258.8H676.0V307.3H675.0zM675.0 117.7H677.0V166.2H675.0zM671.0 175.0H678.0V241.2H671.0zM678.0 179.4H679.0V241.2H678.0zM677.0 117.7H680.0V161.8H677.0zM679.0 60.3H680.0V82.4H679.0zM679.0 175.0H681.0V241.2H679.0zM676.0 258.8H682.0V302.9H676.0zM680.0 117.7H682.0V166.2H680.0zM681.0 179.4H682.0V241.2H681.0zM682.0 117.7H683.0V161.8H682.0zM682.0 258.8H683.0V307.3H682.0zM683.0 117.7H684.0V166.2H683.0zM684.0 117.7H685.0V161.8H684.0zM685.0 117.7H686.0V166.2H685.0zM682.0 175.0H687.0V241.2H682.0zM686.0 117.7H688.0V161.8H686.0zM687.0 175.0H688.0V236.8H687.0zM688.0 117.7H690.0V166.2H688.0zM688.0 175.0H691.0V241.2H688.0zM690.0 117.7H691.0V161.8H690.0zM691.0 179.4H692.0V241.2H691.0zM691.0 117.7H693.0V166.2H691.0zM692.0 175.0H694.0V241.2H692.0zM683.0 258.8H695.0V302.9H683.0zM694.0 175.0H695.0V236.8H694.0zM693.0 117.7H696.0V161.8H693.0zM695.0 258.8H696.0V307.3H695.0zM695.0 175.0H699.0V241.2H695.0zM696.0 117.7H699.0V166.2H696.0zM699.0 179.4H700.0V241.2H699.0zM696.0 258.8H701.0V302.9H696.0zM699.0 117.7H701.0V161.8H699.0zM700.0 175.0H702.0V241.2H700.0zM701.0 258.8H702.0V307.3H701.0zM701.0 117.7H703.0V166.2H701.0zM702.0 175.0H703.0V236.8H702.0zM702.0 258.8H703.0V302.9H702.0zM703.0 122.1H704.0V161.8H703.0zM703.0 258.8H704.0V307.3H703.0zM704.0 117.7H706.0V161.8H704.0zM706.0 78.0H707.0V86.8H706.0zM704.0 258.8H708.0V302.9H704.0zM706.0 117.7H709.0V166.2H706.0zM708.0 258.8H709.0V307.3H708.0zM709.0 117.7H710.0V161.8H709.0zM709.0 258.8H713.0V302.9H709.0zM710.0 117.7H713.0V166.2H710.0zM713.0 258.8H714.0V307.3H713.0zM713.0 117.7H716.0V161.8H713.0zM716.0 117.7H719.0V166.2H716.0zM703.0 175.0H720.0V241.2H703.0zM714.0 258.8H720.0V302.9H714.0zM719.0 117.7H720.0V161.8H719.0zM720.0 258.8H721.0V307.3H720.0zM720.0 117.7H721.0V166.2H720.0zM720.0 175.0H721.0V227.9H720.0zM721.0 175.0H722.0V241.2H721.0zM722.0 175.0H723.0V236.8H722.0zM721.0 258.8H724.0V302.9H721.0zM723.0 179.4H724.0V241.2H723.0zM724.0 258.8H725.0V307.3H724.0zM724.0 175.0H726.0V241.2H724.0zM725.0 258.8H726.0V302.9H725.0zM721.0 117.7H727.0V161.8H721.0zM726.0 78.0H727.0V86.8H726.0zM726.0 175.0H727.0V236.8H726.0zM726.0 258.8H727.0V307.3H726.0zM727.0 258.8H728.0V302.9H727.0zM728.0 258.8H729.0V307.3H728.0zM727.0 117.7H730.0V166.2H727.0zM727.0 175.0H731.0V241.2H727.0zM731.0 179.4H732.0V241.2H731.0zM729.0 258.8H733.0V302.9H729.0zM730.0 117.7H733.0V161.8H730.0zM733.0 258.8H735.0V307.3H733.0zM733.0 117.7H736.0V166.2H733.0zM732.0 175.0H737.0V241.2H732.0zM736.0 117.7H737.0V161.8H736.0zM737.0 175.0H738.0V236.8H737.0zM737.0 117.7H738.0V166.2H737.0zM738.0 113.3H739.0V166.2H738.0zM739.0 117.7H740.0V161.8H739.0zM735.0 258.8H741.0V302.9H735.0zM740.0 113.3H741.0V161.8H740.0zM738.0 175.0H742.0V241.2H738.0zM741.0 117.7H742.0V166.2H741.0zM741.0 258.8H742.0V307.3H741.0zM742.0 113.3H743.0V166.2H742.0zM742.0 175.0H743.0V236.8H742.0zM742.0 258.8H743.0V302.9H742.0zM743.0 113.3H744.0V157.4H743.0zM743.0 258.8H744.0V307.3H743.0zM744.0 113.3H746.0V166.2H744.0zM743.0 175.0H748.0V241.2H743.0zM744.0 258.8H749.0V302.9H744.0zM746.0 113.3H749.0V161.8H746.0zM748.0 175.0H749.0V236.8H748.0zM749.0 258.8H750.0V307.3H749.0zM749.0 113.3H751.0V166.2H749.0zM749.0 175.0H752.0V241.2H749.0zM750.0 258.8H753.0V302.9H750.0zM752.0 175.0H753.0V236.8H752.0zM753.0 258.8H754.0V307.3H753.0zM751.0 113.3H755.0V161.8H751.0zM755.0 113.3H758.0V166.2H755.0zM754.0 258.8H759.0V302.9H754.0zM758.0 117.7H759.0V161.8H758.0zM759.0 258.8H760.0V307.3H759.0zM759.0 113.3H761.0V161.8H759.0zM760.0 258.8H761.0V302.9H760.0zM761.0 113.3H762.0V166.2H761.0zM761.0 258.8H762.0V307.3H761.0zM762.0 113.3H763.0V161.8H762.0zM763.0 117.7H764.0V166.2H763.0zM764.0 117.7H765.0V161.8H764.0zM762.0 258.8H766.0V302.9H762.0zM765.0 113.3H766.0V161.8H765.0zM766.0 117.7H767.0V161.8H766.0zM766.0 258.8H767.0V307.3H766.0zM767.0 113.3H768.0V161.8H767.0zM753.0 175.0H769.0V241.2H753.0zM768.0 117.7H770.0V161.8H768.0zM769.0 175.0H770.0V236.8H769.0zM770.0 113.3H771.0V166.2H770.0zM770.0 175.0H772.0V241.2H770.0zM771.0 117.7H772.0V166.2H771.0zM772.0 117.7H773.0V161.8H772.0zM772.0 179.4H773.0V241.2H772.0zM773.0 117.7H774.0V166.2H773.0zM774.0 117.7H775.0V161.8H774.0zM767.0 258.8H776.0V302.9H767.0zM775.0 113.3H777.0V161.8H775.0zM776.0 258.8H777.0V307.3H776.0zM777.0 117.7H778.0V161.8H777.0zM778.0 117.7H779.0V166.2H778.0zM777.0 258.8H780.0V302.9H777.0zM779.0 117.7H780.0V161.8H779.0zM780.0 258.8H781.0V307.3H780.0zM780.0 113.3H781.0V161.8H780.0zM773.0 175.0H784.0V241.2H773.0zM781.0 117.7H784.0V166.2H781.0zM784.0 175.0H785.0V236.8H784.0zM784.0 113.3H785.0V161.8H784.0zM785.0 117.7H786.0V161.8H785.0zM786.0 117.7H787.0V148.6H786.0zM787.0 117.7H788.0V161.8H787.0zM781.0 258.8H789.0V302.9H781.0zM788.0 117.7H791.0V166.2H788.0zM789.0 258.8H791.0V307.3H789.0zM791.0 117.7H792.0V161.8H791.0zM791.0 258.8H792.0V302.9H791.0zM792.0 113.3H793.0V166.2H792.0zM785.0 175.0H794.0V241.2H785.0zM792.0 258.8H794.0V307.3H792.0zM793.0 113.3H794.0V161.8H793.0zM793.0 82.4H794.0V100.0H793.0zM794.0 175.0H796.0V236.8H794.0zM794.0 117.7H796.0V161.8H794.0zM796.0 117.7H798.0V166.2H796.0zM798.0 117.7H799.0V161.8H798.0zM796.0 175.0H800.0V241.2H796.0zM799.0 117.7H800.0V166.2H799.0zM800.0 117.7H801.0V161.8H800.0zM800.0 179.4H801.0V241.2H800.0zM801.0 117.7H802.0V166.2H801.0zM802.0 117.7H803.0V161.8H802.0zM794.0 258.8H804.0V302.9H794.0zM801.0 175.0H804.0V241.2H801.0zM803.0 117.7H804.0V166.2H803.0zM804.0 175.0H805.0V236.8H804.0zM804.0 117.7H805.0V161.8H804.0zM804.0 258.8H806.0V307.3H804.0zM805.0 175.0H806.0V241.2H805.0zM805.0 117.7H807.0V166.2H805.0zM806.0 175.0H807.0V236.8H806.0zM806.0 258.8H808.0V302.9H806.0zM807.0 113.3H808.0V166.2H807.0zM808.0 258.8H809.0V307.3H808.0zM808.0 113.3H810.0V161.8H808.0zM809.0 60.3H810.0V100.0H809.0zM807.0 175.0H811.0V241.2H807.0zM810.0 113.3H811.0V166.2H810.0zM809.0 258.8H812.0V302.9H809.0zM811.0 113.3H812.0V161.8H811.0zM811.0 179.4H813.0V241.2H811.0zM812.0 117.7H813.0V166.2H812.0zM812.0 258.8H813.0V307.3H812.0zM813.0 113.3H814.0V166.2H813.0zM813.0 258.8H815.0V302.9H813.0zM814.0 117.7H815.0V161.8H814.0zM815.0 117.7H816.0V157.4H815.0zM815.0 258.8H816.0V307.3H815.0zM816.0 258.8H817.0V302.9H816.0zM816.0 117.7H818.0V161.8H816.0zM818.0 117.7H819.0V166.2H818.0zM813.0 175.0H820.0V241.2H813.0zM817.0 258.8H820.0V307.3H817.0zM819.0 117.7H820.0V161.8H819.0zM820.0 179.4H821.0V241.2H820.0zM820.0 258.8H822.0V302.9H820.0zM822.0 258.8H823.0V307.3H822.0zM820.0 117.7H826.0V166.2H820.0zM823.0 258.8H826.0V302.9H823.0zM826.0 117.7H828.0V161.8H826.0zM828.0 117.7H829.0V166.2H828.0zM821.0 175.0H830.0V241.2H821.0zM829.0 117.7H830.0V161.8H829.0zM830.0 179.4H831.0V241.2H830.0zM830.0 117.7H833.0V166.2H830.0zM826.0 258.8H834.0V311.7H826.0zM833.0 117.7H834.0V157.4H833.0zM831.0 175.0H835.0V241.2H831.0zM835.0 179.4H836.0V236.8H835.0zM836.0 82.4H837.0V100.0H836.0zM834.0 117.7H839.0V166.2H834.0zM834.0 258.8H839.0V302.9H834.0zM839.0 117.7H840.0V161.8H839.0zM839.0 258.8H840.0V307.3H839.0zM840.0 117.7H841.0V166.2H840.0zM841.0 117.7H842.0V161.8H841.0zM840.0 258.8H844.0V302.9H840.0zM842.0 117.7H845.0V166.2H842.0zM844.0 258.8H845.0V307.3H844.0zM836.0 175.0H846.0V241.2H836.0zM845.0 117.7H847.0V161.8H845.0zM846.0 175.0H847.0V236.8H846.0zM845.0 258.8H848.0V302.9H845.0zM847.0 117.7H849.0V166.2H847.0zM848.0 258.8H849.0V307.3H848.0zM849.0 117.7H850.0V161.8H849.0zM850.0 117.7H851.0V166.2H850.0zM849.0 258.8H854.0V302.9H849.0zM851.0 117.7H855.0V161.8H851.0zM855.0 117.7H856.0V157.4H855.0zM854.0 258.8H857.0V307.3H854.0zM856.0 117.7H858.0V161.8H856.0zM858.0 117.7H859.0V166.2H858.0zM859.0 117.7H861.0V161.8H859.0zM847.0 175.0H862.0V241.2H847.0zM861.0 117.7H862.0V166.2H861.0zM862.0 175.0H863.0V236.8H862.0zM862.0 117.7H863.0V161.8H862.0zM857.0 258.8H866.0V302.9H857.0zM863.0 117.7H867.0V166.2H863.0zM866.0 258.8H868.0V307.3H866.0zM863.0 175.0H869.0V241.2H863.0zM869.0 175.0H870.0V236.8H869.0zM867.0 117.7H871.0V161.8H867.0zM871.0 117.7H872.0V166.2H871.0zM868.0 258.8H876.0V302.9H868.0zM872.0 117.7H877.0V161.8H872.0zM876.0 258.8H877.0V307.3H876.0zM877.0 117.7H878.0V166.2H877.0zM877.0 258.8H878.0V302.9H877.0zM878.0 258.8H879.0V307.3H878.0zM878.0 117.7H881.0V161.8H878.0zM881.0 117.7H882.0V166.2H881.0zM881.0 82.4H882.0V100.0H881.0zM882.0 117.7H883.0V161.8H882.0zM883.0 117.7H885.0V166.2H883.0zM885.0 122.1H886.0V166.2H885.0zM870.0 175.0H887.0V241.2H870.0zM879.0 258.8H887.0V302.9H879.0zM886.0 117.7H887.0V166.2H886.0zM887.0 175.0H888.0V236.8H887.0zM887.0 117.7H888.0V161.8H887.0zM887.0 258.8H888.0V298.5H887.0zM888.0 117.7H890.0V166.2H888.0zM890.0 117.7H891.0V157.4H890.0zM891.0 117.7H892.0V166.2H891.0zM892.0 117.7H893.0V157.4H892.0zM888.0 258.8H895.0V302.9H888.0zM893.0 117.7H895.0V161.8H893.0zM895.0 117.7H896.0V166.2H895.0zM895.0 258.8H896.0V307.3H895.0zM896.0 117.7H897.0V161.8H896.0zM888.0 175.0H898.0V241.2H888.0zM898.0 175.0H899.0V236.8H898.0zM897.0 117.7H900.0V166.2H897.0zM900.0 113.3H901.0V161.8H900.0zM896.0 258.8H903.0V302.9H896.0zM903.0 258.8H904.0V298.5H903.0zM904.0 258.8H905.0V302.9H904.0zM901.0 113.3H906.0V166.2H901.0zM905.0 258.8H906.0V298.5H905.0zM906.0 258.8H907.0V307.3H906.0zM899.0 175.0H908.0V241.2H899.0zM906.0 113.3H908.0V161.8H906.0zM908.0 113.3H909.0V166.2H908.0zM908.0 179.4H910.0V241.2H908.0zM909.0 113.3H910.0V161.8H909.0zM910.0 113.3H911.0V166.2H910.0zM911.0 117.7H913.0V166.2H911.0zM907.0 258.8H916.0V302.9H907.0zM910.0 175.0H917.0V241.2H910.0zM916.0 258.8H917.0V298.5H916.0zM913.0 117.7H918.0V161.8H913.0zM917.0 175.0H918.0V236.8H917.0zM918.0 117.7H920.0V166.2H918.0zM920.0 117.7H924.0V161.8H920.0zM924.0 122.1H925.0V166.2H924.0zM925.0 117.7H926.0V161.8H925.0zM926.0 117.7H928.0V166.2H926.0zM917.0 258.8H930.0V302.9H917.0zM928.0 117.7H930.0V161.8H928.0zM930.0 258.8H931.0V298.5H930.0zM930.0 117.7H931.0V166.2H930.0zM931.0 117.7H932.0V161.8H931.0zM932.0 117.7H935.0V166.2H932.0zM935.0 117.7H936.0V161.8H935.0zM931.0 258.8H938.0V302.9H931.0zM936.0 117.7H938.0V166.2H936.0zM938.0 117.7H939.0V161.8H938.0zM938.0 258.8H939.0V307.3H938.0zM939.0 117.7H941.0V166.2H939.0zM941.0 122.1H942.0V166.2H941.0zM918.0 175.0H943.0V241.2H918.0zM939.0 258.8H943.0V302.9H939.0zM942.0 117.7H943.0V161.8H942.0zM943.0 117.7H944.0V157.4H943.0zM943.0 175.0H944.0V236.8H943.0zM943.0 258.8H944.0V307.3H943.0zM944.0 117.7H946.0V161.8H944.0zM944.0 258.8H947.0V302.9H944.0zM947.0 258.8H948.0V307.3H947.0zM944.0 175.0H949.0V241.2H944.0zM946.0 117.7H949.0V166.2H946.0zM949.0 175.0H950.0V236.8H949.0zM949.0 117.7H950.0V161.8H949.0zM948.0 258.8H953.0V302.9H948.0zM950.0 175.0H953.0V241.2H950.0zM950.0 117.7H954.0V166.2H950.0zM953.0 258.8H954.0V298.5H953.0zM953.0 175.0H955.0V236.8H953.0zM955.0 175.0H956.0V241.2H955.0zM954.0 117.7H957.0V161.8H954.0zM954.0 258.8H957.0V302.9H954.0zM956.0 179.4H957.0V241.2H956.0z"/>
<path fill="#0a0aff" d="M549.0 69.2H550.0V78.0H549.0zM549.0 82.4H551.0V100.0H549.0zM550.0 64.8H551.0V78.0H550.0zM551.0 64.8H552.0V82.4H551.0zM552.0 64.8H553.0V100.0H552.0zM553.0 82.4H554.0V100.0H553.0zM553.0 64.8H555.0V78.0H553.0zM554.0 82.4H555.0V91.2H554.0zM555.0 64.8H557.0V100.0H555.0zM557.0 64.8H558.0V95.6H557.0zM559.0 86.8H560.0V100.0H559.0zM559.0 64.8H560.0V78.0H559.0zM561.0 64.8H562.0V78.0H561.0zM561.0 82.4H562.0V100.0H561.0zM563.0 64.8H565.0V78.0H563.0zM563.0 86.8H566.0V100.0H563.0zM566.0 64.8H567.0V78.0H566.0zM566.0 82.4H567.0V100.0H566.0zM568.0 64.8H570.0V78.0H568.0zM568.0 82.4H571.0V100.0H568.0zM571.0 82.4H572.0V95.6H571.0zM571.0 64.8H575.0V78.0H571.0zM572.0 82.4H575.0V100.0H572.0zM577.0 82.4H579.0V100.0H577.0zM576.0 64.8H580.0V78.0H576.0zM579.0 86.8H581.0V100.0H579.0zM581.0 64.8H584.0V100.0H581.0zM584.0 64.8H585.0V78.0H584.0zM584.0 82.4H585.0V100.0H584.0zM585.0 64.8H586.0V100.0H585.0zM586.0 64.8H588.0V78.0H586.0zM586.0 82.4H588.0V100.0H586.0zM588.0 69.2H589.0V82.4H588.0zM588.0 86.8H589.0V100.0H588.0zM589.0 64.8H590.0V78.0H589.0zM589.0 82.4H590.0V100.0H589.0zM590.0 64.8H592.0V100.0H590.0zM592.0 86.8H593.0V100.0H592.0zM592.0 64.8H593.0V78.0H592.0zM594.0 86.8H595.0V100.0H594.0zM595.0 64.8H596.0V78.0H595.0zM595.0 82.4H596.0V100.0H595.0zM596.0 64.8H598.0V100.0H596.0zM598.0 86.8H599.0V100.0H598.0zM598.0 64.8H601.0V78.0H598.0zM599.0 82.4H601.0V100.0H599.0zM601.0 64.8H602.0V100.0H601.0zM602.0 64.8H603.0V78.0H602.0zM602.0 82.4H603.0V100.0H602.0zM603.0 86.8H604.0V95.6H603.0zM603.0 64.8H604.0V82.4H603.0zM604.0 64.8H605.0V100.0H604.0zM605.0 64.8H606.0V78.0H605.0zM605.0 82.4H606.0V100.0H605.0zM606.0 64.8H608.0V100.0H606.0zM610.0 82.4H611.0V100.0H610.0zM608.0 64.8H615.0V78.0H608.0zM612.0 82.4H615.0V100.0H612.0zM615.0 64.8H616.0V100.0H615.0zM617.0 64.8H618.0V78.0H617.0zM617.0 82.4H618.0V100.0H617.0zM618.0 64.8H619.0V100.0H618.0zM619.0 86.8H620.0V100.0H619.0zM619.0 64.8H620.0V78.0H619.0zM620.0 64.8H621.0V100.0H620.0zM621.0 64.8H622.0V78.0H621.0zM621.0 82.4H622.0V100.0H621.0zM623.0 64.8H624.0V100.0H623.0zM624.0 64.8H625.0V78.0H624.0zM624.0 82.4H625.0V100.0H624.0zM625.0 64.8H626.0V100.0H625.0zM626.0 64.8H627.0V78.0H626.0zM626.0 82.4H627.0V100.0H626.0zM627.0 64.8H628.0V82.4H627.0zM628.0 82.4H630.0V100.0H628.0zM631.0 82.4H632.0V95.6H631.0zM632.0 82.4H633.0V100.0H632.0zM633.0 86.8H634.0V100.0H633.0zM634.0 82.4H637.0V100.0H634.0zM628.0 64.8H638.0V78.0H628.0zM637.0 86.8H638.0V100.0H637.0zM638.0 64.8H639.0V100.0H638.0zM639.0 82.4H641.0V100.0H639.0zM639.0 64.8H642.0V78.0H639.0zM642.0 64.8H643.0V100.0H642.0zM644.0 64.8H645.0V78.0H644.0zM644.0 82.4H645.0V100.0H644.0zM645.0 64.8H646.0V100.0H645.0zM647.0 64.8H648.0V100.0H647.0zM648.0 223.5H649.0V241.2H648.0zM648.0 64.8H650.0V78.0H648.0zM648.0 82.4H650.0V100.0H648.0zM650.0 86.8H651.0V100.0H650.0zM650.0 64.8H651.0V82.4H650.0zM651.0 64.8H652.0V78.0H651.0zM651.0 82.4H652.0V100.0H651.0zM652.0 64.8H653.0V100.0H652.0zM653.0 69.2H654.0V78.0H653.0zM653.0 82.4H654.0V100.0H653.0zM655.0 86.8H656.0V100.0H655.0zM655.0 64.8H656.0V78.0H655.0zM656.0 64.8H657.0V100.0H656.0zM657.0 64.8H658.0V78.0H657.0zM657.0 82.4H658.0V100.0H657.0zM659.0 64.8H660.0V100.0H659.0zM660.0 64.8H661.0V78.0H660.0zM660.0 82.4H661.0V100.0H660.0zM661.0 64.8H662.0V100.0H661.0zM662.0 64.8H665.0V78.0H662.0zM662.0 82.4H665.0V100.0H662.0zM666.0 64.8H667.0V100.0H666.0zM667.0 86.8H668.0V100.0H667.0zM667.0 64.8H668.0V82.4H667.0zM668.0 82.4H669.0V100.0H668.0zM668.0 64.8H670.0V78.0H668.0zM669.0 82.4H670.0V95.6H669.0zM671.0 86.8H672.0V100.0H671.0zM671.0 64.8H672.0V82.4H671.0zM672.0 64.8H676.0V78.0H672.0zM672.0 82.4H676.0V100.0H672.0zM676.0 64.8H677.0V100.0H676.0zM677.0 86.8H678.0V100.0H677.0zM677.0 64.8H679.0V78.0H677.0zM678.0 82.4H680.0V100.0H678.0zM680.0 64.8H681.0V78.0H680.0zM681.0 64.8H682.0V100.0H681.0zM682.0 82.4H685.0V100.0H682.0zM685.0 82.4H686.0V95.6H685.0zM686.0 82.4H689.0V100.0H686.0zM690.0 86.8H692.0V100.0H690.0zM682.0 64.8H693.0V78.0H682.0zM693.0 64.8H694.0V100.0H693.0zM694.0 86.8H695.0V100.0H694.0zM694.0 64.8H696.0V78.0H694.0zM695.0 82.4H696.0V100.0H695.0zM696.0 64.8H697.0V100.0H696.0zM697.0 86.8H698.0V95.6H697.0zM698.0 86.8H699.0V100.0H698.0zM698.0 64.8H699.0V82.4H698.0zM699.0 64.8H700.0V78.0H699.0zM699.0 82.4H700.0V95.6H699.0zM700.0 64.8H701.0V100.0H700.0zM701.0 64.8H702.0V78.0H701.0zM702.0 82.4H704.0V100.0H702.0zM703.0 64.8H705.0V78.0H703.0zM704.0 86.8H705.0V100.0H704.0zM705.0 82.4H706.0V100.0H705.0zM706.0 86.8H707.0V95.6H706.0zM706.0 64.8H708.0V78.0H706.0zM707.0 82.4H708.0V95.6H707.0zM708.0 64.8H709.0V100.0H708.0zM709.0 64.8H711.0V78.0H709.0zM709.0 82.4H711.0V100.0H709.0zM711.0 64.8H712.0V100.0H711.0zM712.0 86.8H713.0V100.0H712.0zM713.0 82.4H715.0V100.0H713.0zM712.0 64.8H717.0V78.0H712.0zM716.0 82.4H720.0V100.0H716.0zM718.0 64.8H721.0V78.0H718.0zM720.0 86.8H721.0V100.0H720.0zM722.0 64.8H723.0V100.0H722.0zM723.0 86.8H724.0V100.0H723.0zM723.0 64.8H724.0V82.4H723.0zM724.0 82.4H725.0V100.0H724.0zM726.0 86.8H727.0V95.6H726.0zM727.0 82.4H728.0V100.0H727.0zM724.0 64.8H729.0V78.0H724.0zM728.0 86.8H729.0V100.0H728.0zM729.0 64.8H730.0V100.0H729.0zM730.0 64.8H731.0V78.0H730.0zM730.0 82.4H731.0V100.0H730.0zM731.0 64.8H732.0V100.0H731.0zM732.0 64.8H733.0V78.0H732.0zM732.0 82.4H733.0V100.0H732.0zM733.0 64.8H735.0V100.0H733.0zM735.0 64.8H736.0V82.4H735.0zM736.0 86.8H737.0V100.0H736.0zM736.0 64.8H739.0V78.0H736.0zM737.0 82.4H739.0V100.0H737.0zM739.0 64.8H740.0V100.0H739.0zM740.0 64.8H741.0V78.0H740.0zM740.0 82.4H741.0V100.0H740.0zM742.0 64.8H744.0V78.0H742.0zM743.0 82.4H744.0V100.0H743.0zM745.0 64.8H746.0V100.0H745.0zM746.0 82.4H747.0V95.6H746.0zM747.0 82.4H748.0V100.0H747.0zM748.0 82.4H749.0V95.6H748.0zM746.0 64.8H750.0V78.0H746.0zM749.0 82.4H750.0V100.0H749.0zM750.0 86.8H751.0V95.6H750.0zM752.0 82.4H753.0V100.0H752.0zM751.0 64.8H754.0V78.0H751.0zM753.0 82.4H754.0V91.2H753.0zM754.0 64.8H755.0V100.0H754.0zM755.0 82.4H757.0V100.0H755.0zM755.0 64.8H760.0V78.0H755.0zM758.0 82.4H760.0V100.0H758.0zM760.0 86.8H761.0V95.6H760.0zM760.0 64.8H761.0V82.4H760.0zM761.0 64.8H762.0V100.0H761.0zM762.0 86.8H763.0V100.0H762.0zM762.0 64.8H763.0V82.4H762.0zM763.0 64.8H764.0V100.0H763.0zM764.0 64.8H765.0V78.0H764.0zM764.0 82.4H765.0V100.0H764.0zM765.0 86.8H766.0V100.0H765.0zM765.0 64.8H766.0V82.4H765.0zM766.0 64.8H767.0V100.0H766.0zM767.0 86.8H768.0V100.0H767.0zM768.0 82.4H771.0V100.0H768.0zM769.0 64.8H771.0V78.0H769.0zM771.0 86.8H772.0V100.0H771.0zM771.0 64.8H772.0V82.4H771.0zM772.0 82.4H774.0V100.0H772.0zM772.0 64.8H775.0V78.0H772.0zM774.0 86.8H775.0V100.0H774.0zM775.0 64.8H776.0V100.0H775.0zM776.0 86.8H777.0V100.0H776.0zM776.0 64.8H777.0V82.4H776.0zM777.0 69.2H778.0V78.0H777.0zM777.0 82.4H778.0V100.0H777.0zM778.0 86.8H779.0V100.0H778.0zM778.0 64.8H779.0V82.4H778.0zM779.0 64.8H780.0V95.6H779.0zM780.0 64.8H781.0V100.0H780.0zM781.0 64.8H782.0V95.6H781.0zM782.0 64.8H786.0V78.0H782.0zM782.0 82.4H786.0V100.0H782.0zM786.0 64.8H787.0V100.0H786.0zM786.0 148.6H787.0V161.8H786.0zM787.0 82.4H788.0V91.2H787.0zM788.0 64.8H789.0V100.0H788.0zM789.0 82.4H790.0V100.0H789.0zM790.0 82.4H791.0V91.2H790.0zM791.0 82.4H793.0V100.0H791.0zM794.0 86.8H795.0V100.0H794.0zM789.0 64.8H798.0V78.0H789.0zM795.0 82.4H798.0V100.0H795.0zM799.0 64.8H802.0V78.0H799.0zM799.0 82.4H802.0V100.0H799.0zM802.0 86.8H803.0V100.0H802.0zM803.0 64.8H804.0V78.0H803.0zM803.0 82.4H804.0V95.6H803.0zM805.0 86.8H806.0V100.0H805.0zM806.0 86.8H807.0V91.2H806.0zM805.0 64.8H808.0V78.0H805.0zM807.0 82.4H808.0V100.0H807.0zM808.0 86.8H809.0V95.6H808.0zM808.0 64.8H809.0V82.4H808.0zM810.0 64.8H816.0V78.0H810.0zM811.0 82.4H818.0V100.0H811.0zM818.0 82.4H819.0V95.6H818.0zM817.0 64.8H821.0V78.0H817.0zM819.0 82.4H821.0V100.0H819.0zM821.0 86.8H822.0V100.0H821.0zM821.0 64.8H822.0V82.4H821.0zM822.0 64.8H826.0V78.0H822.0zM822.0 82.4H826.0V100.0H822.0zM826.0 64.8H827.0V100.0H826.0zM828.0 82.4H831.0V100.0H828.0zM827.0 64.8H832.0V78.0H827.0zM831.0 82.4H832.0V95.6H831.0zM832.0 86.8H833.0V100.0H832.0zM832.0 64.8H833.0V82.4H832.0zM833.0 82.4H834.0V100.0H833.0zM833.0 64.8H835.0V78.0H833.0zM835.0 64.8H836.0V100.0H835.0zM836.0 64.8H837.0V78.0H836.0zM837.0 64.8H838.0V100.0H837.0zM838.0 64.8H839.0V78.0H838.0zM838.0 82.4H839.0V100.0H838.0zM839.0 64.8H840.0V100.0H839.0zM840.0 86.8H841.0V100.0H840.0zM840.0 64.8H841.0V82.4H840.0zM841.0 64.8H843.0V78.0H841.0zM841.0 82.4H843.0V100.0H841.0zM843.0 69.2H844.0V78.0H843.0zM844.0 64.8H845.0V82.4H844.0zM845.0 86.8H846.0V91.2H845.0zM846.0 86.8H847.0V95.6H846.0zM846.0 64.8H847.0V78.0H846.0zM847.0 64.8H849.0V100.0H847.0zM849.0 69.2H850.0V95.6H849.0zM850.0 86.8H851.0V100.0H850.0zM851.0 82.4H852.0V95.6H851.0zM852.0 82.4H853.0V100.0H852.0zM850.0 64.8H854.0V78.0H850.0zM853.0 82.4H854.0V95.6H853.0zM854.0 64.8H855.0V100.0H854.0zM855.0 86.8H856.0V100.0H855.0zM855.0 64.8H857.0V78.0H855.0zM856.0 82.4H857.0V100.0H856.0zM857.0 64.8H858.0V100.0H857.0zM858.0 86.8H859.0V100.0H858.0zM858.0 64.8H859.0V82.4H858.0zM859.0 64.8H860.0V100.0H859.0zM860.0 82.4H861.0V95.6H860.0zM860.0 64.8H862.0V78.0H860.0zM861.0 82.4H862.0V100.0H861.0zM862.0 64.8H863.0V100.0H862.0zM863.0 86.8H864.0V100.0H863.0zM863.0 64.8H864.0V82.4H863.0zM864.0 64.8H865.0V78.0H864.0zM864.0 82.4H865.0V100.0H864.0zM866.0 64.8H867.0V100.0H866.0zM867.0 82.4H868.0V100.0H867.0zM868.0 86.8H869.0V100.0H868.0zM869.0 82.4H870.0V100.0H869.0zM870.0 86.8H871.0V100.0H870.0zM871.0 82.4H872.0V100.0H871.0zM867.0 64.8H873.0V78.0H867.0zM872.0 86.8H873.0V100.0H872.0zM873.0 64.8H874.0V100.0H873.0zM874.0 64.8H875.0V78.0H874.0zM874.0 86.8H876.0V100.0H874.0zM875.0 64.8H876.0V82.4H875.0zM876.0 64.8H877.0V100.0H876.0zM877.0 69.2H878.0V78.0H877.0zM877.0 82.4H878.0V95.6H877.0zM878.0 64.8H879.0V100.0H878.0zM880.0 64.8H881.0V78.0H880.0zM880.0 82.4H881.0V100.0H880.0zM881.0 64.8H882.0V82.4H881.0zM882.0 64.8H883.0V100.0H882.0zM883.0 64.8H885.0V78.0H883.0zM883.0 82.4H885.0V100.0H883.0zM885.0 64.8H886.0V82.4H885.0zM885.0 86.8H886.0V91.2H885.0zM886.0 86.8H887.0V100.0H886.0zM886.0 64.8H892.0V78.0H886.0zM888.0 82.4H892.0V100.0H888.0zM892.0 64.8H893.0V100.0H892.0zM893.0 64.8H894.0V78.0H893.0zM893.0 82.4H894.0V100.0H893.0zM894.0 64.8H897.0V100.0H894.0zM897.0 64.8H898.0V78.0H897.0zM897.0 82.4H898.0V100.0H897.0zM898.0 86.8H899.0V95.6H898.0zM899.0 64.8H901.0V78.0H899.0zM899.0 82.4H901.0V100.0H899.0zM901.0 64.8H902.0V100.0H901.0zM902.0 64.8H903.0V78.0H902.0zM902.0 82.4H903.0V100.0H902.0zM903.0 64.8H904.0V100.0H903.0zM905.0 64.8H908.0V78.0H905.0zM905.0 82.4H908.0V100.0H905.0zM908.0 64.8H909.0V100.0H908.0zM909.0 82.4H910.0V100.0H909.0zM910.0 86.8H913.0V100.0H910.0zM909.0 64.8H915.0V78.0H909.0zM913.0 82.4H916.0V100.0H913.0zM915.0 69.2H916.0V78.0H915.0zM916.0 64.8H918.0V100.0H916.0zM918.0 82.4H919.0V100.0H918.0zM919.0 86.8H920.0V100.0H919.0zM918.0 64.8H921.0V78.0H918.0zM920.0 82.4H921.0V100.0H920.0zM921.0 64.8H922.0V100.0H921.0zM922.0 64.8H923.0V78.0H922.0zM922.0 82.4H923.0V100.0H922.0zM924.0 86.8H925.0V100.0H924.0zM924.0 64.8H926.0V78.0H924.0zM926.0 64.8H927.0V100.0H926.0zM927.0 82.4H929.0V100.0H927.0zM927.0 64.8H930.0V78.0H927.0zM929.0 86.8H930.0V100.0H929.0zM930.0 64.8H931.0V100.0H930.0zM932.0 64.8H933.0V78.0H932.0zM933.0 64.8H934.0V100.0H933.0zM934.0 64.8H936.0V78.0H934.0zM934.0 82.4H936.0V100.0H934.0zM936.0 86.8H937.0V100.0H936.0zM936.0 64.8H937.0V82.4H936.0zM937.0 64.8H938.0V78.0H937.0zM937.0 82.4H938.0V100.0H937.0zM939.0 64.8H940.0V78.0H939.0zM940.0 86.8H941.0V100.0H940.0zM940.0 64.8H941.0V82.4H940.0zM941.0 64.8H945.0V78.0H941.0zM941.0 82.4H945.0V100.0H941.0zM945.0 64.8H946.0V95.6H945.0zM947.0 82.4H948.0V100.0H947.0zM947.0 64.8H950.0V78.0H947.0zM949.0 82.4H950.0V100.0H949.0zM950.0 86.8H951.0V100.0H950.0zM950.0 64.8H951.0V82.4H950.0zM951.0 64.8H952.0V100.0H951.0zM952.0 82.4H953.0V91.2H952.0zM952.0 64.8H954.0V78.0H952.0zM953.0 82.4H954.0V100.0H953.0zM954.0 64.8H955.0V100.0H954.0zM955.0 64.8H956.0V78.0H955.0zM955.0 82.4H956.0V100.0H955.0zM956.0 86.8H957.0V100.0H956.0zM956.0 64.8H957.0V82.4H956.0z"/>
<path fill="#469696" d="M60.0 751.9H61.0V779.4H60.0zM60.0 513.3H61.0V517.9H60.0zM61.0 742.7H62.0V779.4H61.0zM61.0 540.8H62.0V554.6H61.0zM62.0 494.9H63.0V504.1H62.0zM63.0 494.9H64.0V517.9H63.0zM63.0 540.8H64.0V554.6H63.0zM64.0 513.3H65.0V554.6H64.0zM60.0 687.6H66.0V701.4H60.0zM62.0 747.3H66.0V779.4H62.0zM65.0 540.8H66.0V554.6H65.0zM66.0 751.9H67.0V779.4H66.0zM66.0 517.9H67.0V522.5H66.0zM67.0 513.3H68.0V517.9H67.0zM67.0 747.3H69.0V779.4H67.0zM68.0 540.8H69.0V554.6H68.0zM69.0 751.9H70.0V779.4H69.0zM69.0 494.9H70.0V540.8H69.0zM69.0 554.6H70.0V559.2H69.0zM70.0 513.3H71.0V522.5H70.0zM70.0 540.8H71.0V554.6H70.0zM71.0 536.2H72.0V554.6H71.0zM72.0 545.4H73.0V554.6H72.0zM72.0 513.3H73.0V517.9H72.0zM68.0 687.6H74.0V701.4H68.0zM73.0 536.2H74.0V554.6H73.0zM73.0 517.9H74.0V522.5H73.0zM70.0 747.3H76.0V779.4H70.0zM75.0 527.1H76.0V554.6H75.0zM76.0 545.4H77.0V554.6H76.0zM76.0 742.7H77.0V779.4H76.0zM76.0 513.3H77.0V517.9H76.0zM77.0 673.9H78.0V687.6H77.0zM77.0 540.8H78.0V554.6H77.0zM77.0 472.0H79.0V490.4H77.0zM77.0 747.3H79.0V779.4H77.0zM78.0 540.8H79.0V559.2H78.0zM78.0 513.3H79.0V517.9H78.0zM79.0 536.2H80.0V554.6H79.0zM79.0 751.9H80.0V779.4H79.0zM81.0 513.3H82.0V522.5H81.0zM81.0 536.2H82.0V554.6H81.0zM82.0 472.0H83.0V490.4H82.0zM78.0 687.6H84.0V701.4H78.0zM80.0 747.3H85.0V779.4H80.0zM82.0 540.8H85.0V554.6H82.0zM84.0 673.9H85.0V701.4H84.0zM84.0 513.3H86.0V517.9H84.0zM85.0 747.3H86.0V761.0H85.0zM85.0 536.2H86.0V554.6H85.0zM86.0 540.8H87.0V554.6H86.0zM86.0 761.0H87.0V779.4H86.0zM86.0 687.6H87.0V701.4H86.0zM87.0 536.2H88.0V554.6H87.0zM87.0 673.9H88.0V701.4H87.0zM87.0 595.9H88.0V614.2H87.0zM87.0 472.0H88.0V490.4H87.0zM88.0 540.8H89.0V554.6H88.0zM89.0 536.2H90.0V554.6H89.0zM91.0 494.9H92.0V554.6H91.0zM87.0 747.3H93.0V779.4H87.0zM92.0 531.6H93.0V545.4H92.0zM92.0 600.5H93.0V614.2H92.0zM92.0 472.0H93.0V490.4H92.0zM93.0 517.9H94.0V522.5H93.0zM93.0 540.8H94.0V554.6H93.0zM93.0 761.0H94.0V779.4H93.0zM94.0 513.3H95.0V517.9H94.0zM88.0 687.6H96.0V701.4H88.0zM95.0 536.2H96.0V554.6H95.0zM95.0 494.9H96.0V504.1H95.0zM96.0 513.3H97.0V517.9H96.0zM94.0 747.3H98.0V779.4H94.0zM97.0 687.6H99.0V701.4H97.0zM98.0 472.0H99.0V490.4H98.0zM98.0 761.0H100.0V779.4H98.0zM100.0 747.3H101.0V761.0H100.0zM100.0 536.2H101.0V554.6H100.0zM100.0 472.0H101.0V490.4H100.0zM101.0 494.9H102.0V499.5H101.0zM102.0 595.9H103.0V609.6H102.0zM102.0 540.8H103.0V554.6H102.0zM100.0 687.6H104.0V701.4H100.0zM103.0 536.2H104.0V554.6H103.0zM104.0 545.4H105.0V554.6H104.0zM104.0 673.9H105.0V701.4H104.0zM105.0 536.2H106.0V554.6H105.0zM105.0 600.5H106.0V614.2H105.0zM105.0 761.0H106.0V779.4H105.0zM105.0 517.9H106.0V522.5H105.0zM106.0 540.8H107.0V554.6H106.0zM104.0 472.0H108.0V490.4H104.0zM105.0 687.6H108.0V701.4H105.0zM107.0 517.9H108.0V522.5H107.0zM107.0 494.9H108.0V499.5H107.0zM108.0 536.2H109.0V554.6H108.0zM108.0 513.3H109.0V517.9H108.0zM108.0 761.0H109.0V779.4H108.0zM109.0 517.9H110.0V522.5H109.0zM109.0 687.6H110.0V701.4H109.0zM110.0 747.3H111.0V761.0H110.0zM109.0 540.8H112.0V554.6H109.0zM111.0 747.3H112.0V779.4H111.0zM112.0 536.2H113.0V554.6H112.0zM112.0 761.0H113.0V779.4H112.0zM114.0 517.9H115.0V522.5H114.0zM114.0 531.6H115.0V554.6H114.0zM115.0 494.9H116.0V554.6H115.0zM113.0 747.3H117.0V761.0H113.0zM116.0 595.9H117.0V609.6H116.0zM117.0 527.1H118.0V554.6H117.0zM117.0 747.3H118.0V779.4H117.0zM111.0 687.6H119.0V701.4H111.0zM118.0 747.3H120.0V761.0H118.0zM120.0 742.7H121.0V761.0H120.0zM118.0 540.8H122.0V554.6H118.0zM121.0 747.3H122.0V761.0H121.0zM121.0 600.5H122.0V609.6H121.0zM121.0 513.3H122.0V517.9H121.0zM122.0 472.0H123.0V490.4H122.0zM122.0 747.3H123.0V779.4H122.0zM123.0 540.8H124.0V554.6H123.0zM124.0 751.9H125.0V761.0H124.0zM124.0 545.4H125.0V554.6H124.0zM124.0 517.9H125.0V522.5H124.0zM124.0 472.0H125.0V490.4H124.0zM125.0 747.3H126.0V761.0H125.0zM125.0 536.2H126.0V554.6H125.0zM125.0 513.3H126.0V517.9H125.0zM126.0 540.8H128.0V554.6H126.0zM127.0 742.7H128.0V779.4H127.0zM127.0 517.9H129.0V522.5H127.0zM128.0 536.2H129.0V554.6H128.0zM128.0 747.3H131.0V779.4H128.0zM130.0 536.2H131.0V554.6H130.0zM131.0 536.2H132.0V559.2H131.0zM131.0 513.3H132.0V517.9H131.0zM132.0 540.8H134.0V554.6H132.0zM131.0 747.3H135.0V761.0H131.0zM134.0 517.9H135.0V540.8H134.0zM134.0 554.6H135.0V559.2H134.0zM135.0 536.2H136.0V554.6H135.0zM135.0 751.9H136.0V779.4H135.0zM135.0 494.9H136.0V504.1H135.0zM136.0 747.3H137.0V761.0H136.0zM136.0 540.8H137.0V554.6H136.0zM137.0 747.3H138.0V779.4H137.0zM137.0 513.3H138.0V517.9H137.0zM138.0 499.5H139.0V559.2H138.0zM138.0 472.0H139.0V490.4H138.0zM139.0 536.2H140.0V554.6H139.0zM138.0 747.3H141.0V761.0H138.0zM140.0 540.8H142.0V554.6H140.0zM141.0 747.3H142.0V779.4H141.0zM142.0 499.5H143.0V554.6H142.0zM142.0 472.0H143.0V490.4H142.0zM143.0 747.3H144.0V761.0H143.0zM143.0 540.8H145.0V554.6H143.0zM145.0 747.3H147.0V761.0H145.0zM146.0 513.3H147.0V522.5H146.0zM146.0 472.0H147.0V490.4H146.0zM147.0 751.9H148.0V761.0H147.0zM147.0 517.9H148.0V522.5H147.0zM147.0 540.8H148.0V554.6H147.0zM148.0 527.1H149.0V554.6H148.0zM149.0 747.3H151.0V761.0H149.0zM151.0 742.7H152.0V761.0H151.0zM152.0 761.0H153.0V779.4H152.0zM151.0 540.8H154.0V554.6H151.0zM153.0 747.3H156.0V779.4H153.0zM155.0 540.8H156.0V559.2H155.0zM156.0 540.8H157.0V554.6H156.0zM156.0 761.0H157.0V779.4H156.0zM156.0 517.9H158.0V522.5H156.0zM157.0 747.3H158.0V779.4H157.0zM157.0 545.4H158.0V554.6H157.0zM158.0 531.6H159.0V540.8H158.0zM158.0 742.7H159.0V779.4H158.0zM158.0 513.3H159.0V517.9H158.0zM159.0 513.3H160.0V554.6H159.0zM160.0 595.9H162.0V609.6H160.0zM161.0 545.4H162.0V554.6H161.0zM162.0 536.2H163.0V554.6H162.0zM159.0 747.3H164.0V779.4H159.0zM163.0 540.8H165.0V554.6H163.0zM163.0 513.3H165.0V517.9H163.0zM165.0 540.8H166.0V559.2H165.0zM165.0 747.3H166.0V779.4H165.0zM166.0 540.8H167.0V554.6H166.0zM167.0 747.3H168.0V761.0H167.0zM167.0 499.5H168.0V554.6H167.0zM168.0 747.3H169.0V779.4H168.0zM168.0 545.4H169.0V554.6H168.0zM169.0 742.7H170.0V779.4H169.0zM169.0 536.2H170.0V554.6H169.0zM167.0 472.0H171.0V490.4H167.0zM170.0 747.3H171.0V761.0H170.0zM170.0 540.8H172.0V554.6H170.0zM170.0 513.3H172.0V517.9H170.0zM171.0 747.3H172.0V779.4H171.0zM172.0 595.9H173.0V609.6H172.0zM172.0 517.9H173.0V554.6H172.0zM172.0 761.0H173.0V779.4H172.0zM173.0 540.8H174.0V554.6H173.0zM173.0 472.0H175.0V490.4H173.0zM174.0 600.5H175.0V609.6H174.0zM174.0 747.3H175.0V779.4H174.0zM175.0 751.9H176.0V779.4H175.0zM175.0 517.9H176.0V522.5H175.0zM176.0 747.3H177.0V761.0H176.0zM176.0 600.5H177.0V609.6H176.0zM177.0 747.3H178.0V779.4H177.0zM178.0 761.0H179.0V779.4H178.0zM178.0 513.3H179.0V536.2H178.0zM175.0 540.8H180.0V554.6H175.0zM176.0 472.0H180.0V490.4H176.0zM179.0 747.3H181.0V761.0H179.0zM181.0 554.6H182.0V559.2H181.0zM182.0 540.8H183.0V554.6H182.0zM182.0 517.9H183.0V522.5H182.0zM182.0 751.9H183.0V779.4H182.0zM183.0 747.3H184.0V761.0H183.0zM183.0 513.3H184.0V517.9H183.0zM184.0 494.9H185.0V540.8H184.0zM184.0 747.3H186.0V779.4H184.0zM186.0 761.0H187.0V779.4H186.0zM186.0 527.1H187.0V540.8H186.0zM186.0 513.3H187.0V517.9H186.0zM187.0 540.8H188.0V554.6H187.0zM188.0 513.3H189.0V536.2H188.0zM187.0 747.3H190.0V779.4H187.0zM189.0 517.9H191.0V522.5H189.0zM190.0 595.9H191.0V609.6H190.0zM190.0 751.9H191.0V779.4H190.0zM191.0 747.3H192.0V779.4H191.0zM191.0 545.4H192.0V554.6H191.0zM191.0 513.3H192.0V517.9H191.0zM192.0 554.6H193.0V559.2H192.0zM192.0 761.0H193.0V779.4H192.0zM193.0 747.3H194.0V779.4H193.0zM193.0 513.3H194.0V517.9H193.0zM194.0 751.9H195.0V779.4H194.0zM194.0 494.9H195.0V504.1H194.0zM195.0 494.9H196.0V499.5H195.0zM195.0 761.0H196.0V779.4H195.0zM195.0 513.3H196.0V517.9H195.0zM120.0 687.6H198.0V701.4H120.0zM196.0 747.3H198.0V779.4H196.0zM181.0 472.0H199.0V490.4H181.0zM198.0 751.9H199.0V779.4H198.0zM198.0 673.9H199.0V701.4H198.0zM199.0 747.3H200.0V779.4H199.0zM200.0 747.3H201.0V761.0H200.0zM200.0 531.6H201.0V545.4H200.0zM201.0 742.7H202.0V779.4H201.0zM202.0 747.3H203.0V761.0H202.0zM202.0 499.5H203.0V522.5H202.0zM203.0 554.6H204.0V559.2H203.0zM203.0 517.9H204.0V522.5H203.0zM200.0 472.0H205.0V490.4H200.0zM203.0 761.0H205.0V779.4H203.0zM205.0 540.8H206.0V554.6H205.0zM206.0 472.0H208.0V490.4H206.0zM206.0 554.6H208.0V559.2H206.0zM207.0 527.1H208.0V545.4H207.0zM208.0 540.8H209.0V554.6H208.0zM206.0 747.3H210.0V761.0H206.0zM209.0 499.5H210.0V554.6H209.0zM210.0 747.3H212.0V779.4H210.0zM212.0 536.2H213.0V554.6H212.0zM212.0 751.9H213.0V761.0H212.0zM212.0 494.9H213.0V522.5H212.0zM213.0 499.5H214.0V554.6H213.0zM213.0 600.5H214.0V614.2H213.0zM213.0 747.3H215.0V761.0H213.0zM214.0 517.9H215.0V522.5H214.0zM215.0 761.0H216.0V779.4H215.0zM215.0 494.9H216.0V554.6H215.0zM216.0 751.9H217.0V779.4H216.0zM216.0 545.4H217.0V554.6H216.0zM217.0 747.3H218.0V761.0H217.0zM217.0 531.6H218.0V554.6H217.0zM218.0 494.9H219.0V517.9H218.0zM218.0 536.2H219.0V540.8H218.0zM218.0 747.3H220.0V779.4H218.0zM219.0 527.1H220.0V554.6H219.0zM219.0 499.5H220.0V513.3H219.0zM220.0 595.9H221.0V609.6H220.0zM220.0 536.2H221.0V554.6H220.0zM220.0 751.9H221.0V779.4H220.0zM222.0 513.3H223.0V517.9H222.0zM221.0 747.3H224.0V779.4H221.0zM223.0 517.9H224.0V540.8H223.0zM224.0 742.7H225.0V779.4H224.0zM225.0 517.9H226.0V522.5H225.0zM225.0 747.3H228.0V779.4H225.0zM227.0 540.8H228.0V554.6H227.0zM228.0 751.9H229.0V779.4H228.0zM230.0 545.4H231.0V554.6H230.0zM231.0 536.2H232.0V554.6H231.0zM232.0 540.8H233.0V554.6H232.0zM233.0 494.9H234.0V513.3H233.0zM233.0 536.2H234.0V554.6H233.0zM234.0 540.8H235.0V554.6H234.0zM229.0 747.3H236.0V779.4H229.0zM235.0 540.8H236.0V559.2H235.0zM236.0 540.8H237.0V554.6H236.0zM236.0 513.3H237.0V517.9H236.0zM236.0 761.0H238.0V779.4H236.0zM237.0 536.2H238.0V554.6H237.0zM238.0 747.3H239.0V779.4H238.0zM239.0 742.7H240.0V779.4H239.0zM239.0 545.4H240.0V554.6H239.0zM241.0 517.9H242.0V522.5H241.0zM241.0 545.4H242.0V554.6H241.0zM242.0 536.2H244.0V554.6H242.0zM243.0 513.3H244.0V517.9H243.0zM244.0 540.8H245.0V554.6H244.0zM240.0 747.3H246.0V779.4H240.0zM246.0 517.9H247.0V522.5H246.0zM246.0 761.0H247.0V779.4H246.0zM247.0 747.3H248.0V779.4H247.0zM247.0 545.4H248.0V554.6H247.0zM248.0 751.9H249.0V779.4H248.0zM249.0 742.7H250.0V747.3H249.0zM249.0 513.3H250.0V554.6H249.0zM249.0 761.0H250.0V779.4H249.0zM250.0 595.9H251.0V614.2H250.0zM250.0 751.9H251.0V761.0H250.0zM251.0 747.3H252.0V761.0H251.0zM251.0 540.8H252.0V554.6H251.0zM252.0 499.5H253.0V554.6H252.0zM252.0 747.3H253.0V779.4H252.0zM253.0 517.9H254.0V522.5H253.0zM253.0 747.3H255.0V761.0H253.0zM253.0 540.8H255.0V554.6H253.0zM255.0 517.9H256.0V522.5H255.0zM255.0 554.6H256.0V559.2H255.0zM255.0 761.0H256.0V779.4H255.0zM256.0 747.3H257.0V761.0H256.0zM256.0 600.5H257.0V609.6H256.0zM256.0 545.4H257.0V554.6H256.0zM257.0 747.3H259.0V779.4H257.0zM259.0 747.3H260.0V761.0H259.0zM259.0 517.9H261.0V522.5H259.0zM260.0 527.1H261.0V554.6H260.0zM260.0 747.3H261.0V779.4H260.0zM261.0 747.3H262.0V761.0H261.0zM261.0 494.9H262.0V517.9H261.0zM262.0 545.4H263.0V554.6H262.0zM262.0 517.9H263.0V522.5H262.0zM262.0 527.1H263.0V540.8H262.0zM263.0 751.9H264.0V761.0H263.0zM264.0 747.3H265.0V761.0H264.0zM264.0 536.2H266.0V554.6H264.0zM265.0 747.3H266.0V779.4H265.0zM266.0 747.3H267.0V761.0H266.0zM267.0 751.9H268.0V761.0H267.0zM268.0 747.3H270.0V779.4H268.0zM269.0 536.2H271.0V554.6H269.0zM272.0 517.9H273.0V522.5H272.0zM272.0 545.4H273.0V559.2H272.0zM270.0 747.3H274.0V761.0H270.0zM274.0 517.9H275.0V522.5H274.0zM274.0 540.8H275.0V554.6H274.0zM275.0 545.4H276.0V554.6H275.0zM274.0 747.3H277.0V779.4H274.0zM276.0 499.5H277.0V554.6H276.0zM277.0 761.0H278.0V779.4H277.0zM278.0 554.6H279.0V559.2H278.0zM278.0 747.3H281.0V779.4H278.0zM280.0 517.9H281.0V522.5H280.0zM281.0 751.9H282.0V779.4H281.0zM281.0 554.6H282.0V559.2H281.0zM282.0 536.2H283.0V554.6H282.0zM282.0 747.3H284.0V779.4H282.0zM283.0 600.5H284.0V614.2H283.0zM283.0 540.8H284.0V559.2H283.0zM284.0 761.0H285.0V779.4H284.0zM285.0 747.3H286.0V779.4H285.0zM285.0 545.4H286.0V554.6H285.0zM286.0 742.7H287.0V779.4H286.0zM286.0 595.9H287.0V614.2H286.0zM286.0 472.0H287.0V490.4H286.0zM287.0 747.3H289.0V779.4H287.0zM288.0 513.3H289.0V517.9H288.0zM289.0 536.2H290.0V554.6H289.0zM289.0 751.9H290.0V779.4H289.0zM290.0 747.3H291.0V761.0H290.0zM290.0 540.8H291.0V559.2H290.0zM291.0 595.9H292.0V609.6H291.0zM291.0 554.6H292.0V559.2H291.0zM291.0 761.0H293.0V779.4H291.0zM292.0 536.2H293.0V554.6H292.0zM292.0 517.9H293.0V522.5H292.0zM293.0 494.9H294.0V554.6H293.0zM294.0 517.9H295.0V522.5H294.0zM293.0 747.3H296.0V779.4H293.0zM295.0 513.3H296.0V522.5H295.0zM296.0 517.9H297.0V522.5H296.0zM296.0 761.0H297.0V779.4H296.0zM297.0 513.3H298.0V517.9H297.0zM297.0 747.3H299.0V779.4H297.0zM297.0 540.8H299.0V554.6H297.0zM299.0 761.0H300.0V779.4H299.0zM300.0 751.9H301.0V779.4H300.0zM300.0 472.0H301.0V490.4H300.0zM300.0 540.8H301.0V554.6H300.0zM301.0 513.3H302.0V517.9H301.0zM301.0 747.3H303.0V761.0H301.0zM302.0 472.0H303.0V490.4H302.0zM302.0 513.3H303.0V536.2H302.0zM303.0 494.9H304.0V499.5H303.0zM303.0 747.3H304.0V779.4H303.0zM304.0 545.4H305.0V554.6H304.0zM305.0 536.2H306.0V554.6H305.0zM306.0 595.9H307.0V614.2H306.0zM304.0 747.3H308.0V761.0H304.0zM307.0 545.4H308.0V554.6H307.0zM308.0 536.2H309.0V554.6H308.0zM308.0 513.3H309.0V517.9H308.0zM309.0 494.9H310.0V540.8H309.0zM308.0 747.3H312.0V779.4H308.0zM311.0 517.9H312.0V522.5H311.0zM311.0 540.8H313.0V554.6H311.0zM312.0 513.3H313.0V517.9H312.0zM312.0 751.9H314.0V779.4H312.0zM313.0 545.4H315.0V554.6H313.0zM314.0 499.5H315.0V540.8H314.0zM314.0 747.3H316.0V779.4H314.0zM315.0 536.2H316.0V554.6H315.0zM316.0 545.4H317.0V554.6H316.0zM316.0 751.9H317.0V779.4H316.0zM316.0 513.3H317.0V517.9H316.0zM317.0 742.7H318.0V779.4H317.0zM318.0 747.3H319.0V779.4H318.0zM319.0 517.9H320.0V522.5H319.0zM319.0 761.0H321.0V779.4H319.0zM321.0 751.9H322.0V761.0H321.0zM322.0 747.3H323.0V779.4H322.0zM322.0 513.3H323.0V517.9H322.0zM323.0 761.0H324.0V779.4H323.0zM199.0 687.6H325.0V701.4H199.0zM325.0 517.9H326.0V522.5H325.0zM325.0 673.9H326.0V701.4H325.0zM325.0 527.1H326.0V545.4H325.0zM324.0 747.3H327.0V779.4H324.0zM327.0 747.3H328.0V761.0H327.0zM328.0 531.6H329.0V540.8H328.0zM327.0 472.0H331.0V485.8H327.0zM330.0 513.3H331.0V517.9H330.0zM328.0 747.3H332.0V779.4H328.0zM332.0 747.3H333.0V761.0H332.0zM334.0 595.9H335.0V609.6H334.0zM334.0 499.5H335.0V540.8H334.0zM333.0 747.3H336.0V779.4H333.0zM335.0 494.9H336.0V517.9H335.0zM336.0 751.9H337.0V779.4H336.0zM336.0 517.9H337.0V522.5H336.0zM337.0 494.9H338.0V540.8H337.0zM338.0 494.9H339.0V517.9H338.0zM339.0 540.8H340.0V554.6H339.0zM340.0 494.9H341.0V522.5H340.0zM341.0 540.8H342.0V554.6H341.0zM342.0 531.6H343.0V554.6H342.0zM343.0 517.9H344.0V522.5H343.0zM337.0 747.3H345.0V779.4H337.0zM345.0 751.9H346.0V761.0H345.0zM346.0 499.5H347.0V522.5H346.0zM346.0 747.3H348.0V761.0H346.0zM348.0 747.3H349.0V779.4H348.0zM348.0 513.3H350.0V517.9H348.0zM350.0 494.9H351.0V513.3H350.0zM343.0 540.8H352.0V554.6H343.0zM352.0 513.3H353.0V554.6H352.0zM349.0 747.3H354.0V761.0H349.0zM353.0 517.9H354.0V522.5H353.0zM353.0 531.6H354.0V554.6H353.0zM354.0 494.9H355.0V499.5H354.0zM354.0 513.3H355.0V517.9H354.0zM354.0 747.3H356.0V779.4H354.0zM355.0 494.9H356.0V517.9H355.0zM356.0 513.3H357.0V517.9H356.0zM356.0 747.3H358.0V761.0H356.0zM357.0 494.9H358.0V504.1H357.0zM358.0 494.9H359.0V522.5H358.0zM359.0 513.3H360.0V517.9H359.0zM360.0 494.9H361.0V513.3H360.0zM360.0 595.9H361.0V609.6H360.0zM354.0 540.8H362.0V554.6H354.0zM358.0 747.3H362.0V779.4H358.0zM362.0 494.9H363.0V522.5H362.0zM362.0 747.3H364.0V761.0H362.0zM364.0 761.0H365.0V779.4H364.0zM365.0 747.3H367.0V779.4H365.0zM366.0 494.9H367.0V513.3H366.0zM367.0 751.9H368.0V779.4H367.0zM367.0 494.9H368.0V550.0H367.0zM368.0 540.8H369.0V554.6H368.0zM368.0 609.6H369.0V623.4H368.0zM369.0 472.0H370.0V490.4H369.0zM369.0 531.6H370.0V554.6H369.0zM368.0 747.3H373.0V779.4H368.0zM373.0 751.9H374.0V779.4H373.0zM374.0 761.0H375.0V779.4H374.0zM375.0 494.9H376.0V522.5H375.0zM376.0 513.3H378.0V517.9H376.0zM371.0 472.0H380.0V490.4H371.0zM375.0 747.3H380.0V779.4H375.0zM379.0 494.9H380.0V513.3H379.0zM380.0 742.7H381.0V747.3H380.0zM380.0 761.0H381.0V779.4H380.0zM380.0 513.3H382.0V517.9H380.0zM381.0 747.3H382.0V761.0H381.0zM382.0 747.3H383.0V779.4H382.0zM383.0 742.7H384.0V761.0H383.0zM383.0 595.9H384.0V614.2H383.0zM383.0 494.9H384.0V522.5H383.0zM370.0 540.8H385.0V554.6H370.0zM384.0 761.0H385.0V779.4H384.0zM384.0 513.3H385.0V522.5H384.0zM385.0 747.3H386.0V779.4H385.0zM385.0 531.6H387.0V554.6H385.0zM386.0 513.3H387.0V522.5H386.0zM386.0 747.3H387.0V761.0H386.0zM388.0 751.9H389.0V779.4H388.0zM389.0 747.3H390.0V779.4H389.0zM389.0 494.9H390.0V513.3H389.0zM390.0 600.5H391.0V614.2H390.0zM391.0 747.3H392.0V761.0H391.0zM382.0 472.0H393.0V490.4H382.0zM392.0 517.9H393.0V522.5H392.0zM393.0 751.9H394.0V761.0H393.0zM393.0 494.9H394.0V522.5H393.0zM394.0 747.3H395.0V779.4H394.0zM387.0 540.8H396.0V554.6H387.0zM395.0 747.3H396.0V761.0H395.0zM395.0 494.9H396.0V517.9H395.0zM396.0 527.1H397.0V554.6H396.0zM396.0 747.3H397.0V779.4H396.0zM397.0 761.0H398.0V779.4H397.0zM394.0 472.0H399.0V490.4H394.0zM398.0 747.3H399.0V761.0H398.0zM399.0 747.3H400.0V779.4H399.0zM397.0 540.8H402.0V554.6H397.0zM402.0 517.9H403.0V554.6H402.0zM400.0 747.3H404.0V761.0H400.0zM406.0 747.3H407.0V761.0H406.0zM406.0 600.5H407.0V609.6H406.0zM408.0 747.3H409.0V761.0H408.0zM409.0 600.5H410.0V614.2H409.0zM410.0 747.3H411.0V761.0H410.0zM403.0 540.8H412.0V554.6H403.0zM411.0 747.3H412.0V779.4H411.0zM412.0 517.9H413.0V554.6H412.0zM412.0 761.0H413.0V779.4H412.0zM413.0 513.3H414.0V522.5H413.0zM413.0 540.8H414.0V554.6H413.0zM413.0 747.3H414.0V779.4H413.0zM414.0 499.5H415.0V554.6H414.0zM415.0 751.9H416.0V761.0H415.0zM416.0 747.3H417.0V761.0H416.0zM416.0 494.9H417.0V517.9H416.0zM418.0 747.3H421.0V761.0H418.0zM421.0 751.9H422.0V761.0H421.0zM421.0 742.7H422.0V747.3H421.0zM421.0 513.3H422.0V517.9H421.0zM422.0 747.3H424.0V761.0H422.0zM423.0 494.9H424.0V499.5H423.0zM425.0 517.9H426.0V522.5H425.0zM425.0 747.3H427.0V761.0H425.0zM427.0 513.3H428.0V522.5H427.0zM427.0 747.3H429.0V779.4H427.0zM428.0 513.3H429.0V517.9H428.0zM429.0 751.9H430.0V779.4H429.0zM429.0 472.0H430.0V490.4H429.0zM432.0 513.3H433.0V517.9H432.0zM430.0 747.3H434.0V761.0H430.0zM415.0 540.8H435.0V554.6H415.0zM435.0 517.9H436.0V554.6H435.0zM434.0 747.3H437.0V779.4H434.0zM436.0 540.8H437.0V554.6H436.0zM437.0 761.0H438.0V779.4H437.0zM437.0 527.1H438.0V554.6H437.0zM437.0 499.5H438.0V517.9H437.0zM438.0 747.3H441.0V779.4H438.0zM441.0 747.3H442.0V761.0H441.0zM442.0 747.3H443.0V779.4H442.0zM443.0 761.0H445.0V779.4H443.0zM444.0 472.0H445.0V490.4H444.0zM445.0 517.9H446.0V522.5H445.0zM445.0 747.3H446.0V779.4H445.0zM446.0 761.0H447.0V779.4H446.0zM447.0 747.3H448.0V779.4H447.0zM448.0 761.0H449.0V779.4H448.0zM449.0 747.3H450.0V779.4H449.0zM450.0 761.0H451.0V779.4H450.0zM452.0 513.3H453.0V522.5H452.0zM438.0 540.8H454.0V554.6H438.0zM453.0 517.9H454.0V522.5H453.0zM453.0 595.9H454.0V609.6H453.0zM454.0 513.3H455.0V554.6H454.0zM454.0 600.5H455.0V609.6H454.0zM451.0 747.3H457.0V779.4H451.0zM456.0 595.9H457.0V609.6H456.0zM456.0 540.8H458.0V554.6H456.0zM458.0 550.0H459.0V554.6H458.0zM457.0 761.0H460.0V779.4H457.0zM459.0 742.7H460.0V747.3H459.0zM459.0 540.8H461.0V554.6H459.0zM460.0 747.3H461.0V761.0H460.0zM461.0 513.3H462.0V550.0H461.0zM462.0 751.9H463.0V761.0H462.0zM462.0 540.8H464.0V554.6H462.0zM463.0 747.3H464.0V779.4H463.0zM463.0 494.9H464.0V536.2H463.0zM464.0 540.8H466.0V550.0H464.0zM464.0 761.0H467.0V779.4H464.0zM466.0 494.9H467.0V522.5H466.0zM463.0 472.0H468.0V490.4H463.0zM467.0 517.9H468.0V522.5H467.0zM467.0 747.3H469.0V779.4H467.0zM469.0 761.0H471.0V779.4H469.0zM471.0 747.3H472.0V761.0H471.0zM471.0 472.0H474.0V490.4H471.0zM472.0 747.3H474.0V779.4H472.0zM474.0 742.7H476.0V747.3H474.0zM475.0 761.0H476.0V779.4H475.0zM475.0 513.3H476.0V517.9H475.0zM475.0 472.0H477.0V490.4H475.0zM326.0 687.6H480.0V701.4H326.0zM466.0 540.8H480.0V554.6H466.0zM476.0 747.3H480.0V779.4H476.0z"/>
<path fill="#e882e8" d="M60.0 618.8H61.0V678.5H60.0zM60.0 701.4H61.0V751.9H60.0zM60.0 554.6H62.0V600.5H60.0zM61.0 701.4H62.0V742.7H61.0zM62.0 554.6H66.0V605.1H62.0zM62.0 701.4H66.0V747.3H62.0zM66.0 701.4H67.0V751.9H66.0zM66.0 554.6H68.0V600.5H66.0zM67.0 701.4H69.0V747.3H67.0zM68.0 554.6H69.0V605.1H68.0zM69.0 559.2H70.0V600.5H69.0zM69.0 701.4H70.0V751.9H69.0zM61.0 614.2H71.0V683.0H61.0zM70.0 554.6H71.0V605.1H70.0zM71.0 614.2H72.0V678.5H71.0zM71.0 554.6H72.0V600.5H71.0zM72.0 618.8H73.0V683.0H72.0zM72.0 554.6H73.0V591.3H72.0zM73.0 614.2H74.0V678.5H73.0zM73.0 554.6H74.0V605.1H73.0zM70.0 701.4H76.0V747.3H70.0zM74.0 554.6H76.0V600.5H74.0zM74.0 614.2H77.0V683.0H74.0zM76.0 701.4H77.0V742.7H76.0zM76.0 554.6H77.0V605.1H76.0zM77.0 554.6H78.0V600.5H77.0zM77.0 618.8H78.0V673.9H77.0zM77.0 701.4H79.0V747.3H77.0zM78.0 614.2H79.0V683.0H78.0zM78.0 559.2H79.0V600.5H78.0zM79.0 614.2H80.0V678.5H79.0zM79.0 701.4H80.0V751.9H79.0zM80.0 614.2H81.0V683.0H80.0zM81.0 618.8H82.0V683.0H81.0zM79.0 554.6H84.0V605.1H79.0zM82.0 614.2H84.0V683.0H82.0zM84.0 614.2H85.0V673.9H84.0zM84.0 554.6H86.0V600.5H84.0zM85.0 614.2H87.0V683.0H85.0zM86.0 554.6H87.0V605.1H86.0zM87.0 614.2H88.0V673.9H87.0zM87.0 554.6H88.0V595.9H87.0zM88.0 554.6H89.0V600.5H88.0zM89.0 554.6H90.0V605.1H89.0zM90.0 600.5H91.0V605.1H90.0zM90.0 554.6H91.0V591.3H90.0zM91.0 554.6H92.0V605.1H91.0zM88.0 614.2H93.0V683.0H88.0zM93.0 614.2H94.0V678.5H93.0zM92.0 554.6H95.0V600.5H92.0zM95.0 554.6H96.0V605.1H95.0zM96.0 554.6H98.0V600.5H96.0zM98.0 554.6H100.0V605.1H98.0zM80.0 701.4H101.0V747.3H80.0zM100.0 554.6H102.0V600.5H100.0zM102.0 554.6H103.0V595.9H102.0zM94.0 614.2H104.0V683.0H94.0zM104.0 614.2H105.0V673.9H104.0zM103.0 554.6H106.0V600.5H103.0zM105.0 618.8H106.0V683.0H105.0zM106.0 614.2H107.0V683.0H106.0zM107.0 614.2H108.0V678.5H107.0zM101.0 701.4H110.0V751.9H101.0zM106.0 554.6H111.0V605.1H106.0zM111.0 554.6H113.0V600.5H111.0zM113.0 554.6H116.0V605.1H113.0zM116.0 554.6H117.0V595.9H116.0zM117.0 517.9H118.0V527.1H117.0zM117.0 554.6H119.0V600.5H117.0zM110.0 701.4H120.0V747.3H110.0zM119.0 554.6H120.0V605.1H119.0zM120.0 701.4H121.0V742.7H120.0zM120.0 554.6H123.0V600.5H120.0zM121.0 701.4H124.0V747.3H121.0zM123.0 554.6H125.0V605.1H123.0zM124.0 701.4H125.0V751.9H124.0zM125.0 554.6H126.0V600.5H125.0zM125.0 701.4H127.0V747.3H125.0zM127.0 701.4H128.0V742.7H127.0zM126.0 554.6H130.0V605.1H126.0zM130.0 554.6H131.0V600.5H130.0zM131.0 559.2H132.0V600.5H131.0zM132.0 554.6H133.0V605.1H132.0zM133.0 554.6H134.0V600.5H133.0zM128.0 701.4H135.0V747.3H128.0zM134.0 559.2H135.0V605.1H134.0zM135.0 554.6H136.0V600.5H135.0zM135.0 701.4H136.0V751.9H135.0zM136.0 554.6H138.0V605.1H136.0zM108.0 614.2H139.0V683.0H108.0zM138.0 559.2H139.0V600.5H138.0zM139.0 554.6H140.0V605.1H139.0zM139.0 618.8H140.0V683.0H139.0zM140.0 600.5H141.0V605.1H140.0zM140.0 554.6H141.0V591.3H140.0zM141.0 554.6H142.0V605.1H141.0zM140.0 614.2H144.0V683.0H140.0zM142.0 554.6H144.0V600.5H142.0zM144.0 554.6H145.0V605.1H144.0zM144.0 618.8H145.0V683.0H144.0zM145.0 614.2H146.0V669.3H145.0zM136.0 701.4H147.0V747.3H136.0zM147.0 701.4H148.0V751.9H147.0zM145.0 554.6H149.0V600.5H145.0zM146.0 614.2H149.0V683.0H146.0zM149.0 618.8H150.0V683.0H149.0zM148.0 701.4H151.0V747.3H148.0zM149.0 554.6H151.0V605.1H149.0zM151.0 701.4H152.0V742.7H151.0zM151.0 554.6H153.0V600.5H151.0zM150.0 614.2H155.0V683.0H150.0zM153.0 554.6H155.0V605.1H153.0zM155.0 559.2H156.0V605.1H155.0zM155.0 618.8H156.0V683.0H155.0zM152.0 701.4H158.0V747.3H152.0zM156.0 614.2H159.0V683.0H156.0zM158.0 701.4H159.0V742.7H158.0zM156.0 554.6H160.0V605.1H156.0zM159.0 614.2H160.0V678.5H159.0zM160.0 554.6H162.0V595.9H160.0zM161.0 517.9H162.0V536.2H161.0zM162.0 554.6H163.0V605.1H162.0zM163.0 554.6H164.0V600.5H163.0zM164.0 554.6H165.0V605.1H164.0zM160.0 614.2H166.0V683.0H160.0zM165.0 559.2H166.0V605.1H165.0zM166.0 614.2H167.0V678.5H166.0zM166.0 554.6H167.0V600.5H166.0zM159.0 701.4H169.0V747.3H159.0zM167.0 554.6H169.0V605.1H167.0zM169.0 513.3H170.0V522.5H169.0zM169.0 554.6H170.0V600.5H169.0zM169.0 701.4H170.0V742.7H169.0zM170.0 554.6H172.0V605.1H170.0zM172.0 554.6H173.0V595.9H172.0zM173.0 554.6H174.0V605.1H173.0zM170.0 701.4H175.0V747.3H170.0zM175.0 701.4H176.0V751.9H175.0zM174.0 554.6H178.0V600.5H174.0zM178.0 554.6H180.0V605.1H178.0zM180.0 554.6H181.0V600.5H180.0zM176.0 701.4H182.0V747.3H176.0zM181.0 559.2H182.0V600.5H181.0zM182.0 554.6H183.0V605.1H182.0zM182.0 701.4H183.0V751.9H182.0zM183.0 554.6H184.0V600.5H183.0zM167.0 614.2H185.0V683.0H167.0zM185.0 614.2H186.0V678.5H185.0zM184.0 554.6H189.0V605.1H184.0zM183.0 701.4H190.0V747.3H183.0zM189.0 554.6H190.0V600.5H189.0zM190.0 554.6H191.0V595.9H190.0zM190.0 701.4H191.0V751.9H190.0zM191.0 554.6H192.0V605.1H191.0zM192.0 559.2H193.0V605.1H192.0zM191.0 701.4H194.0V747.3H191.0zM193.0 554.6H194.0V600.5H193.0zM194.0 701.4H195.0V751.9H194.0zM186.0 614.2H198.0V683.0H186.0zM194.0 554.6H198.0V605.1H194.0zM195.0 701.4H198.0V747.3H195.0zM198.0 614.2H199.0V673.9H198.0zM198.0 701.4H199.0V751.9H198.0zM198.0 554.6H199.0V591.3H198.0zM199.0 614.2H200.0V678.5H199.0zM199.0 554.6H200.0V605.1H199.0zM199.0 701.4H201.0V747.3H199.0zM200.0 554.6H201.0V600.5H200.0zM201.0 600.5H202.0V605.1H201.0zM201.0 554.6H202.0V591.3H201.0zM201.0 494.9H202.0V536.2H201.0zM201.0 701.4H202.0V742.7H201.0zM202.0 554.6H203.0V605.1H202.0zM203.0 559.2H204.0V600.5H203.0zM204.0 554.6H206.0V600.5H204.0zM206.0 559.2H207.0V605.1H206.0zM200.0 614.2H208.0V683.0H200.0zM207.0 559.2H208.0V600.5H207.0zM208.0 618.8H209.0V683.0H208.0zM208.0 554.6H210.0V600.5H208.0zM210.0 554.6H211.0V605.1H210.0zM202.0 701.4H212.0V747.3H202.0zM209.0 614.2H212.0V683.0H209.0zM211.0 554.6H212.0V600.5H211.0zM212.0 554.6H213.0V605.1H212.0zM212.0 618.8H213.0V683.0H212.0zM212.0 701.4H213.0V751.9H212.0zM213.0 554.6H214.0V600.5H213.0zM214.0 554.6H215.0V605.1H214.0zM213.0 701.4H216.0V747.3H213.0zM215.0 554.6H216.0V600.5H215.0zM216.0 494.9H217.0V536.2H216.0zM216.0 701.4H217.0V751.9H216.0zM217.0 494.9H218.0V531.6H217.0zM216.0 554.6H219.0V605.1H216.0zM218.0 517.9H219.0V536.2H218.0zM217.0 701.4H220.0V747.3H217.0zM219.0 513.3H220.0V527.1H219.0zM219.0 554.6H220.0V600.5H219.0zM220.0 554.6H221.0V595.9H220.0zM220.0 701.4H221.0V751.9H220.0zM221.0 554.6H222.0V605.1H221.0zM213.0 614.2H223.0V683.0H213.0zM221.0 701.4H224.0V747.3H221.0zM222.0 554.6H224.0V600.5H222.0zM223.0 618.8H224.0V683.0H223.0zM224.0 701.4H225.0V742.7H224.0zM224.0 554.6H228.0V605.1H224.0zM225.0 701.4H228.0V747.3H225.0zM224.0 614.2H229.0V683.0H224.0zM228.0 701.4H229.0V751.9H228.0zM228.0 554.6H230.0V600.5H228.0zM229.0 618.8H230.0V678.5H229.0zM230.0 554.6H233.0V605.1H230.0zM230.0 614.2H234.0V683.0H230.0zM233.0 554.6H234.0V600.5H233.0zM233.0 513.3H234.0V536.2H233.0zM234.0 614.2H235.0V678.5H234.0zM234.0 554.6H235.0V605.1H234.0zM235.0 618.8H236.0V683.0H235.0zM235.0 559.2H236.0V600.5H235.0zM236.0 554.6H237.0V600.5H236.0zM229.0 701.4H239.0V747.3H229.0zM237.0 554.6H239.0V605.1H237.0zM239.0 554.6H240.0V600.5H239.0zM239.0 701.4H240.0V742.7H239.0zM240.0 554.6H241.0V605.1H240.0zM241.0 554.6H245.0V600.5H241.0zM240.0 701.4H248.0V747.3H240.0zM245.0 554.6H248.0V605.1H245.0zM236.0 614.2H249.0V683.0H236.0zM248.0 600.5H249.0V605.1H248.0zM248.0 701.4H249.0V751.9H248.0zM248.0 554.6H249.0V591.3H248.0zM249.0 614.2H250.0V678.5H249.0zM249.0 701.4H250.0V742.7H249.0zM249.0 554.6H250.0V605.1H249.0zM250.0 554.6H251.0V595.9H250.0zM250.0 701.4H251.0V751.9H250.0zM250.0 614.2H253.0V683.0H250.0zM253.0 618.8H254.0V678.5H253.0zM251.0 554.6H255.0V605.1H251.0zM255.0 559.2H256.0V591.3H255.0zM254.0 614.2H258.0V683.0H254.0zM257.0 494.9H258.0V536.2H257.0zM256.0 554.6H259.0V600.5H256.0zM258.0 618.8H259.0V683.0H258.0zM259.0 554.6H260.0V605.1H259.0zM260.0 554.6H261.0V600.5H260.0zM261.0 554.6H262.0V605.1H261.0zM251.0 701.4H263.0V747.3H251.0zM262.0 554.6H264.0V600.5H262.0zM263.0 701.4H264.0V751.9H263.0zM264.0 554.6H265.0V605.1H264.0zM264.0 701.4H267.0V747.3H264.0zM265.0 554.6H268.0V600.5H265.0zM267.0 701.4H268.0V751.9H267.0zM269.0 517.9H270.0V536.2H269.0zM268.0 554.6H271.0V605.1H268.0zM259.0 614.2H272.0V683.0H259.0zM271.0 554.6H272.0V600.5H271.0zM272.0 559.2H273.0V605.1H272.0zM272.0 614.2H273.0V678.5H272.0zM273.0 554.6H274.0V605.1H273.0zM274.0 554.6H275.0V600.5H274.0zM275.0 554.6H276.0V605.1H275.0zM276.0 554.6H277.0V600.5H276.0zM277.0 494.9H278.0V540.8H277.0zM277.0 554.6H278.0V605.1H277.0zM278.0 559.2H279.0V605.1H278.0zM279.0 513.3H280.0V540.8H279.0zM268.0 701.4H281.0V747.3H268.0zM279.0 554.6H281.0V605.1H279.0zM281.0 559.2H282.0V605.1H281.0zM281.0 513.3H282.0V536.2H281.0zM281.0 701.4H282.0V751.9H281.0zM282.0 554.6H283.0V600.5H282.0zM283.0 559.2H284.0V600.5H283.0zM273.0 614.2H286.0V683.0H273.0zM282.0 701.4H286.0V747.3H282.0zM284.0 554.6H286.0V600.5H284.0zM285.0 513.3H286.0V536.2H285.0zM286.0 554.6H287.0V595.9H286.0zM286.0 701.4H287.0V742.7H286.0zM286.0 614.2H287.0V678.5H286.0zM287.0 614.2H288.0V683.0H287.0zM287.0 554.6H288.0V605.1H287.0zM287.0 517.9H288.0V536.2H287.0zM287.0 701.4H289.0V747.3H287.0zM288.0 554.6H289.0V600.5H288.0zM288.0 618.8H289.0V683.0H288.0zM289.0 494.9H290.0V536.2H289.0zM289.0 554.6H290.0V605.1H289.0zM289.0 701.4H290.0V751.9H289.0zM290.0 559.2H291.0V600.5H290.0zM289.0 614.2H292.0V683.0H289.0zM291.0 559.2H292.0V595.9H291.0zM292.0 618.8H293.0V683.0H292.0zM292.0 554.6H294.0V605.1H292.0zM294.0 554.6H295.0V600.5H294.0zM293.0 614.2H297.0V683.0H293.0zM295.0 554.6H297.0V605.1H295.0zM297.0 614.2H298.0V678.5H297.0zM297.0 554.6H299.0V600.5H297.0zM298.0 614.2H299.0V683.0H298.0zM290.0 701.4H300.0V747.3H290.0zM299.0 614.2H300.0V678.5H299.0zM299.0 554.6H300.0V605.1H299.0zM300.0 554.6H301.0V600.5H300.0zM300.0 614.2H301.0V683.0H300.0zM300.0 701.4H301.0V751.9H300.0zM301.0 614.2H302.0V678.5H301.0zM301.0 554.6H302.0V605.1H301.0zM302.0 554.6H303.0V600.5H302.0zM303.0 554.6H305.0V605.1H303.0zM305.0 554.6H306.0V591.3H305.0zM306.0 554.6H307.0V595.9H306.0zM307.0 554.6H309.0V600.5H307.0zM309.0 554.6H311.0V605.1H309.0zM301.0 701.4H312.0V747.3H301.0zM302.0 614.2H312.0V683.0H302.0zM311.0 554.6H313.0V591.3H311.0zM312.0 618.8H313.0V683.0H312.0zM312.0 701.4H314.0V751.9H312.0zM313.0 554.6H314.0V605.1H313.0zM314.0 554.6H315.0V600.5H314.0zM314.0 701.4H316.0V747.3H314.0zM315.0 554.6H317.0V605.1H315.0zM316.0 701.4H317.0V751.9H316.0zM317.0 554.6H318.0V600.5H317.0zM317.0 701.4H318.0V742.7H317.0zM318.0 554.6H319.0V605.1H318.0zM319.0 554.6H320.0V600.5H319.0zM318.0 701.4H321.0V747.3H318.0zM320.0 554.6H321.0V605.1H320.0zM313.0 614.2H322.0V683.0H313.0zM321.0 554.6H322.0V600.5H321.0zM321.0 701.4H322.0V751.9H321.0zM322.0 618.8H323.0V683.0H322.0zM322.0 554.6H324.0V605.1H322.0zM323.0 614.2H325.0V683.0H323.0zM324.0 554.6H325.0V600.5H324.0zM325.0 618.8H326.0V673.9H325.0zM325.0 554.6H326.0V605.1H325.0zM326.0 554.6H327.0V600.5H326.0zM326.0 614.2H327.0V683.0H326.0zM327.0 618.8H328.0V683.0H327.0zM327.0 554.6H329.0V605.1H327.0zM329.0 554.6H331.0V600.5H329.0zM331.0 554.6H332.0V605.1H331.0zM328.0 614.2H333.0V683.0H328.0zM332.0 554.6H334.0V600.5H332.0zM333.0 618.8H334.0V683.0H333.0zM334.0 554.6H335.0V595.9H334.0zM322.0 701.4H336.0V747.3H322.0zM335.0 554.6H337.0V605.1H335.0zM336.0 701.4H337.0V751.9H336.0zM337.0 554.6H340.0V600.5H337.0zM340.0 554.6H341.0V605.1H340.0zM341.0 554.6H342.0V600.5H341.0zM342.0 554.6H344.0V605.1H342.0zM337.0 701.4H345.0V747.3H337.0zM344.0 554.6H345.0V600.5H344.0zM345.0 554.6H346.0V605.1H345.0zM345.0 701.4H346.0V751.9H345.0zM346.0 554.6H349.0V600.5H346.0zM349.0 554.6H353.0V605.1H349.0zM334.0 614.2H354.0V683.0H334.0zM354.0 614.2H355.0V678.5H354.0zM355.0 614.2H356.0V683.0H355.0zM353.0 554.6H357.0V600.5H353.0zM356.0 614.2H357.0V678.5H356.0zM357.0 554.6H360.0V605.1H357.0zM360.0 554.6H361.0V595.9H360.0zM361.0 554.6H362.0V605.1H361.0zM357.0 614.2H363.0V683.0H357.0zM362.0 554.6H363.0V591.3H362.0zM363.0 614.2H364.0V678.5H363.0zM363.0 554.6H364.0V605.1H363.0zM346.0 701.4H367.0V747.3H346.0zM364.0 614.2H368.0V683.0H364.0zM367.0 701.4H368.0V751.9H367.0zM368.0 623.4H369.0V683.0H368.0zM364.0 554.6H370.0V600.5H364.0zM369.0 614.2H370.0V683.0H369.0zM370.0 614.2H371.0V678.5H370.0zM370.0 554.6H371.0V605.1H370.0zM371.0 554.6H372.0V600.5H371.0zM368.0 701.4H373.0V747.3H368.0zM371.0 614.2H373.0V683.0H371.0zM373.0 614.2H374.0V678.5H373.0zM373.0 701.4H374.0V751.9H373.0zM374.0 614.2H375.0V683.0H374.0zM375.0 614.2H376.0V678.5H375.0zM372.0 554.6H378.0V605.1H372.0zM378.0 554.6H379.0V600.5H378.0zM374.0 701.4H380.0V747.3H374.0zM379.0 554.6H380.0V605.1H379.0zM380.0 554.6H381.0V600.5H380.0zM380.0 701.4H381.0V742.7H380.0zM381.0 554.6H383.0V605.1H381.0zM381.0 701.4H383.0V747.3H381.0zM383.0 554.6H384.0V595.9H383.0zM383.0 701.4H384.0V742.7H383.0zM384.0 600.5H385.0V605.1H384.0zM384.0 554.6H385.0V591.3H384.0zM385.0 554.6H386.0V600.5H385.0zM384.0 701.4H388.0V747.3H384.0zM386.0 554.6H388.0V605.1H386.0zM388.0 701.4H389.0V751.9H388.0zM388.0 554.6H391.0V600.5H388.0zM391.0 554.6H392.0V605.1H391.0zM389.0 701.4H393.0V747.3H389.0zM392.0 600.5H394.0V605.1H392.0zM392.0 554.6H394.0V591.3H392.0zM393.0 701.4H394.0V751.9H393.0zM376.0 614.2H399.0V683.0H376.0zM394.0 554.6H399.0V605.1H394.0zM399.0 618.8H400.0V683.0H399.0zM400.0 517.9H401.0V536.2H400.0zM399.0 554.6H402.0V600.5H399.0zM402.0 554.6H403.0V605.1H402.0zM400.0 614.2H404.0V683.0H400.0zM403.0 554.6H404.0V600.5H403.0zM404.0 614.2H405.0V678.5H404.0zM404.0 554.6H405.0V605.1H404.0zM405.0 614.2H406.0V683.0H405.0zM406.0 614.2H407.0V678.5H406.0zM405.0 554.6H408.0V600.5H405.0zM408.0 554.6H409.0V605.1H408.0zM394.0 701.4H415.0V747.3H394.0zM409.0 554.6H416.0V600.5H409.0zM415.0 701.4H416.0V751.9H415.0zM416.0 554.6H417.0V605.1H416.0zM417.0 494.9H418.0V536.2H417.0zM407.0 614.2H419.0V683.0H407.0zM417.0 554.6H419.0V600.5H417.0zM419.0 554.6H420.0V605.1H419.0zM419.0 618.8H420.0V683.0H419.0zM416.0 701.4H421.0V747.3H416.0zM420.0 554.6H421.0V600.5H420.0zM421.0 701.4H422.0V742.7H421.0zM421.0 554.6H422.0V605.1H421.0zM421.0 747.3H422.0V751.9H421.0zM420.0 614.2H425.0V683.0H420.0zM422.0 554.6H426.0V600.5H422.0zM425.0 618.8H426.0V683.0H425.0zM426.0 614.2H427.0V683.0H426.0zM426.0 554.6H428.0V605.1H426.0zM427.0 618.8H428.0V683.0H427.0zM422.0 701.4H429.0V747.3H422.0zM428.0 554.6H429.0V600.5H428.0zM429.0 701.4H430.0V751.9H429.0zM429.0 554.6H433.0V605.1H429.0zM428.0 614.2H434.0V683.0H428.0zM433.0 554.6H434.0V600.5H433.0zM434.0 614.2H435.0V678.5H434.0zM434.0 554.6H435.0V605.1H434.0zM435.0 554.6H436.0V600.5H435.0zM436.0 554.6H437.0V605.1H436.0zM437.0 554.6H438.0V600.5H437.0zM437.0 517.9H438.0V527.1H437.0zM438.0 554.6H440.0V605.1H438.0zM440.0 600.5H441.0V605.1H440.0zM440.0 554.6H441.0V591.3H440.0zM441.0 554.6H442.0V600.5H441.0zM442.0 554.6H443.0V605.1H442.0zM443.0 554.6H445.0V600.5H443.0zM444.0 494.9H445.0V536.2H444.0zM445.0 554.6H448.0V605.1H445.0zM435.0 614.2H451.0V683.0H435.0zM448.0 554.6H451.0V600.5H448.0zM451.0 618.8H452.0V683.0H451.0zM451.0 554.6H453.0V605.1H451.0zM452.0 614.2H454.0V683.0H452.0zM453.0 554.6H454.0V595.9H453.0zM454.0 554.6H455.0V600.5H454.0zM454.0 618.8H455.0V683.0H454.0zM455.0 550.0H456.0V605.1H455.0zM455.0 614.2H456.0V683.0H455.0zM430.0 701.4H457.0V747.3H430.0zM456.0 494.9H457.0V536.2H456.0zM456.0 554.6H457.0V595.9H456.0zM456.0 614.2H458.0V678.5H456.0zM457.0 554.6H458.0V605.1H457.0zM457.0 701.4H459.0V756.5H457.0zM458.0 600.5H459.0V605.1H458.0zM458.0 618.8H459.0V683.0H458.0zM458.0 554.6H459.0V591.3H458.0zM459.0 701.4H460.0V742.7H459.0zM459.0 747.3H460.0V756.5H459.0zM459.0 554.6H461.0V605.1H459.0zM460.0 701.4H462.0V747.3H460.0zM461.0 550.0H462.0V600.5H461.0zM462.0 701.4H463.0V751.9H462.0zM462.0 554.6H464.0V600.5H462.0zM464.0 550.0H466.0V600.5H464.0zM466.0 554.6H467.0V605.1H466.0zM467.0 554.6H470.0V600.5H467.0zM459.0 614.2H473.0V683.0H459.0zM463.0 701.4H474.0V747.3H463.0zM473.0 618.8H474.0V683.0H473.0zM470.0 554.6H475.0V605.1H470.0zM474.0 701.4H476.0V742.7H474.0zM475.0 554.6H476.0V600.5H475.0zM476.0 494.9H477.0V536.2H476.0zM476.0 554.6H478.0V605.1H476.0zM474.0 614.2H480.0V683.0H474.0zM476.0 701.4H480.0V747.3H476.0zM478.0 554.6H480.0V600.5H478.0z"/>
<path fill="#0a0aff" d="M60.0 499.5H62.0V513.3H60.0zM62.0 504.1H63.0V513.3H62.0zM60.0 517.9H64.0V536.2H60.0zM65.0 517.9H66.0V536.2H65.0zM66.0 522.5H67.0V536.2H66.0zM67.0 517.9H68.0V536.2H67.0zM64.0 499.5H69.0V513.3H64.0zM68.0 517.9H69.0V531.6H68.0zM70.0 522.5H71.0V536.2H70.0zM70.0 499.5H73.0V513.3H70.0zM71.0 517.9H73.0V536.2H71.0zM72.0 591.3H73.0V600.5H72.0zM73.0 522.5H74.0V536.2H73.0zM73.0 499.5H74.0V517.9H73.0zM74.0 499.5H75.0V536.2H74.0zM75.0 517.9H76.0V527.1H75.0zM76.0 517.9H81.0V536.2H76.0zM81.0 522.5H82.0V536.2H81.0zM75.0 499.5H90.0V513.3H75.0zM82.0 517.9H90.0V536.2H82.0zM90.0 591.3H91.0V600.5H90.0zM90.0 499.5H91.0V536.2H90.0zM92.0 499.5H93.0V513.3H92.0zM92.0 517.9H93.0V531.6H92.0zM93.0 522.5H94.0V536.2H93.0zM93.0 499.5H94.0V517.9H93.0zM94.0 499.5H95.0V513.3H94.0zM94.0 517.9H95.0V536.2H94.0zM95.0 504.1H96.0V536.2H95.0zM96.0 499.5H100.0V513.3H96.0zM96.0 517.9H100.0V536.2H96.0zM100.0 499.5H101.0V536.2H100.0zM101.0 499.5H104.0V513.3H101.0zM101.0 517.9H104.0V536.2H101.0zM104.0 499.5H105.0V536.2H104.0zM105.0 522.5H106.0V536.2H105.0zM105.0 499.5H107.0V513.3H105.0zM106.0 517.9H107.0V536.2H106.0zM107.0 522.5H108.0V536.2H107.0zM107.0 499.5H108.0V517.9H107.0zM108.0 499.5H109.0V513.3H108.0zM108.0 517.9H109.0V536.2H108.0zM109.0 522.5H110.0V536.2H109.0zM109.0 499.5H110.0V517.9H109.0zM110.0 517.9H114.0V536.2H110.0zM110.0 499.5H115.0V513.3H110.0zM114.0 522.5H115.0V531.6H114.0zM116.0 499.5H117.0V531.6H116.0zM117.0 499.5H118.0V513.3H117.0zM118.0 499.5H120.0V536.2H118.0zM120.0 517.9H122.0V536.2H120.0zM122.0 517.9H123.0V531.6H122.0zM120.0 499.5H124.0V513.3H120.0zM123.0 517.9H124.0V536.2H123.0zM124.0 522.5H125.0V536.2H124.0zM124.0 499.5H125.0V517.9H124.0zM125.0 499.5H127.0V513.3H125.0zM125.0 517.9H127.0V536.2H125.0zM127.0 499.5H128.0V517.9H127.0zM127.0 522.5H129.0V536.2H127.0zM128.0 499.5H129.0V513.3H128.0zM129.0 499.5H130.0V536.2H129.0zM130.0 499.5H133.0V513.3H130.0zM130.0 517.9H133.0V536.2H130.0zM133.0 499.5H134.0V536.2H133.0zM134.0 499.5H135.0V517.9H134.0zM135.0 504.1H136.0V531.6H135.0zM136.0 499.5H138.0V513.3H136.0zM136.0 517.9H138.0V536.2H136.0zM140.0 591.3H141.0V600.5H140.0zM139.0 499.5H142.0V513.3H139.0zM139.0 517.9H142.0V536.2H139.0zM143.0 499.5H144.0V536.2H143.0zM144.0 499.5H145.0V513.3H144.0zM144.0 517.9H145.0V536.2H144.0zM145.0 499.5H146.0V531.6H145.0zM145.0 669.3H146.0V683.0H145.0zM146.0 499.5H147.0V513.3H146.0zM146.0 522.5H148.0V536.2H146.0zM147.0 499.5H148.0V517.9H147.0zM148.0 499.5H149.0V527.1H148.0zM149.0 499.5H150.0V536.2H149.0zM150.0 499.5H151.0V513.3H150.0zM150.0 517.9H151.0V536.2H150.0zM151.0 499.5H152.0V536.2H151.0zM152.0 499.5H155.0V513.3H152.0zM152.0 517.9H155.0V536.2H152.0zM155.0 499.5H156.0V536.2H155.0zM156.0 499.5H157.0V517.9H156.0zM156.0 522.5H158.0V536.2H156.0zM158.0 517.9H159.0V531.6H158.0zM157.0 499.5H161.0V513.3H157.0zM160.0 517.9H161.0V536.2H160.0zM161.0 499.5H162.0V517.9H161.0zM162.0 499.5H167.0V513.3H162.0zM162.0 517.9H167.0V536.2H162.0zM168.0 499.5H169.0V536.2H168.0zM169.0 522.5H170.0V531.6H169.0zM170.0 517.9H172.0V536.2H170.0zM169.0 499.5H174.0V513.3H169.0zM173.0 517.9H174.0V536.2H173.0zM174.0 499.5H175.0V536.2H174.0zM175.0 522.5H176.0V536.2H175.0zM175.0 499.5H176.0V517.9H175.0zM176.0 499.5H177.0V536.2H176.0zM177.0 517.9H178.0V536.2H177.0zM177.0 499.5H179.0V513.3H177.0zM179.0 499.5H180.0V536.2H179.0zM180.0 499.5H182.0V513.3H180.0zM180.0 517.9H182.0V536.2H180.0zM182.0 522.5H183.0V536.2H182.0zM182.0 499.5H183.0V517.9H182.0zM183.0 499.5H184.0V513.3H183.0zM183.0 517.9H184.0V536.2H183.0zM185.0 517.9H186.0V536.2H185.0zM186.0 517.9H187.0V527.1H186.0zM187.0 517.9H188.0V536.2H187.0zM185.0 499.5H189.0V513.3H185.0zM189.0 522.5H191.0V536.2H189.0zM189.0 499.5H191.0V517.9H189.0zM191.0 499.5H194.0V513.3H191.0zM191.0 517.9H194.0V536.2H191.0zM194.0 504.1H195.0V536.2H194.0zM195.0 499.5H196.0V513.3H195.0zM195.0 517.9H196.0V536.2H195.0zM196.0 499.5H197.0V536.2H196.0zM198.0 591.3H199.0V600.5H198.0zM197.0 499.5H200.0V513.3H197.0zM197.0 517.9H200.0V536.2H197.0zM200.0 499.5H201.0V531.6H200.0zM201.0 591.3H202.0V600.5H201.0zM202.0 522.5H203.0V536.2H202.0zM203.0 522.5H204.0V531.6H203.0zM203.0 499.5H205.0V513.3H203.0zM204.0 517.9H205.0V536.2H204.0zM205.0 499.5H207.0V536.2H205.0zM207.0 499.5H208.0V527.1H207.0zM208.0 499.5H209.0V513.3H208.0zM208.0 517.9H209.0V536.2H208.0zM210.0 499.5H212.0V513.3H210.0zM210.0 517.9H212.0V536.2H210.0zM212.0 522.5H213.0V536.2H212.0zM214.0 522.5H215.0V531.6H214.0zM214.0 499.5H215.0V517.9H214.0zM220.0 499.5H221.0V536.2H220.0zM221.0 499.5H223.0V513.3H221.0zM221.0 517.9H223.0V536.2H221.0zM223.0 499.5H224.0V517.9H223.0zM224.0 499.5H225.0V536.2H224.0zM225.0 522.5H226.0V536.2H225.0zM225.0 499.5H229.0V513.3H225.0zM226.0 517.9H229.0V536.2H226.0zM229.0 499.5H230.0V536.2H229.0zM230.0 499.5H231.0V513.3H230.0zM230.0 517.9H231.0V531.6H230.0zM231.0 499.5H232.0V536.2H231.0zM232.0 499.5H233.0V513.3H232.0zM232.0 517.9H233.0V536.2H232.0zM234.0 499.5H235.0V513.3H234.0zM234.0 517.9H235.0V536.2H234.0zM235.0 499.5H236.0V536.2H235.0zM236.0 499.5H239.0V513.3H236.0zM236.0 517.9H239.0V536.2H236.0zM239.0 499.5H241.0V536.2H239.0zM241.0 522.5H242.0V536.2H241.0zM241.0 499.5H242.0V517.9H241.0zM242.0 499.5H245.0V513.3H242.0zM242.0 517.9H245.0V536.2H242.0zM245.0 499.5H246.0V536.2H245.0zM246.0 522.5H247.0V536.2H246.0zM247.0 517.9H249.0V536.2H247.0zM248.0 591.3H249.0V600.5H248.0zM246.0 499.5H252.0V513.3H246.0zM250.0 517.9H252.0V536.2H250.0zM253.0 522.5H254.0V536.2H253.0zM253.0 499.5H255.0V513.3H253.0zM254.0 517.9H255.0V536.2H254.0zM255.0 522.5H256.0V536.2H255.0zM255.0 591.3H256.0V600.5H255.0zM255.0 499.5H256.0V517.9H255.0zM256.0 499.5H257.0V536.2H256.0zM258.0 499.5H259.0V536.2H258.0zM259.0 522.5H260.0V536.2H259.0zM259.0 499.5H261.0V517.9H259.0zM260.0 522.5H261.0V527.1H260.0zM261.0 517.9H262.0V536.2H261.0zM262.0 522.5H263.0V527.1H262.0zM263.0 517.9H266.0V536.2H263.0zM266.0 517.9H267.0V531.6H266.0zM267.0 517.9H269.0V536.2H267.0zM270.0 517.9H272.0V536.2H270.0zM272.0 522.5H273.0V536.2H272.0zM273.0 517.9H274.0V536.2H273.0zM274.0 522.5H275.0V536.2H274.0zM262.0 499.5H276.0V513.3H262.0zM275.0 517.9H276.0V536.2H275.0zM278.0 499.5H279.0V536.2H278.0zM280.0 522.5H281.0V536.2H280.0zM282.0 517.9H283.0V536.2H282.0zM279.0 499.5H284.0V513.3H279.0zM283.0 517.9H284.0V531.6H283.0zM284.0 499.5H285.0V536.2H284.0zM285.0 499.5H286.0V513.3H285.0zM286.0 499.5H287.0V531.6H286.0zM287.0 499.5H289.0V513.3H287.0zM288.0 517.9H289.0V536.2H288.0zM290.0 499.5H291.0V536.2H290.0zM291.0 517.9H292.0V536.2H291.0zM291.0 499.5H293.0V513.3H291.0zM292.0 522.5H293.0V536.2H292.0zM294.0 499.5H295.0V517.9H294.0zM294.0 522.5H297.0V536.2H294.0zM295.0 499.5H299.0V513.3H295.0zM297.0 517.9H299.0V536.2H297.0zM299.0 499.5H301.0V536.2H299.0zM301.0 517.9H302.0V536.2H301.0zM301.0 499.5H303.0V513.3H301.0zM303.0 499.5H305.0V536.2H303.0zM305.0 591.3H306.0V600.5H305.0zM305.0 499.5H309.0V513.3H305.0zM305.0 517.9H309.0V536.2H305.0zM310.0 517.9H311.0V536.2H310.0zM311.0 522.5H312.0V531.6H311.0zM311.0 591.3H313.0V600.5H311.0zM310.0 499.5H314.0V513.3H310.0zM312.0 517.9H314.0V536.2H312.0zM315.0 499.5H316.0V536.2H315.0zM316.0 499.5H319.0V513.3H316.0zM316.0 517.9H319.0V536.2H316.0zM319.0 522.5H320.0V536.2H319.0zM319.0 499.5H320.0V517.9H319.0zM320.0 499.5H321.0V513.3H320.0zM320.0 517.9H321.0V536.2H320.0zM321.0 499.5H322.0V536.2H321.0zM322.0 517.9H325.0V536.2H322.0zM322.0 499.5H326.0V513.3H322.0zM325.0 522.5H326.0V527.1H325.0zM326.0 499.5H327.0V536.2H326.0zM327.0 499.5H328.0V513.3H327.0zM327.0 517.9H328.0V536.2H327.0zM328.0 499.5H329.0V531.6H328.0zM329.0 499.5H334.0V513.3H329.0zM329.0 517.9H334.0V536.2H329.0zM335.0 517.9H336.0V536.2H335.0zM336.0 522.5H337.0V536.2H336.0zM336.0 499.5H337.0V517.9H336.0zM338.0 517.9H340.0V536.2H338.0zM339.0 499.5H340.0V513.3H339.0zM340.0 522.5H341.0V536.2H340.0zM341.0 517.9H342.0V536.2H341.0zM342.0 517.9H343.0V531.6H342.0zM343.0 522.5H344.0V536.2H343.0zM341.0 499.5H345.0V513.3H341.0zM344.0 517.9H345.0V536.2H344.0zM345.0 499.5H346.0V536.2H345.0zM346.0 522.5H347.0V536.2H346.0zM347.0 499.5H350.0V513.3H347.0zM347.0 517.9H351.0V536.2H347.0zM351.0 499.5H352.0V536.2H351.0zM353.0 522.5H354.0V531.6H353.0zM352.0 499.5H355.0V513.3H352.0zM356.0 499.5H357.0V513.3H356.0zM354.0 517.9H358.0V536.2H354.0zM357.0 504.1H358.0V513.3H357.0zM358.0 522.5H359.0V536.2H358.0zM359.0 499.5H360.0V513.3H359.0zM359.0 517.9H360.0V536.2H359.0zM360.0 513.3H361.0V536.2H360.0zM361.0 499.5H362.0V513.3H361.0zM361.0 517.9H362.0V536.2H361.0zM362.0 522.5H363.0V536.2H362.0zM362.0 591.3H363.0V600.5H362.0zM363.0 499.5H364.0V536.2H363.0zM364.0 499.5H366.0V513.3H364.0zM364.0 517.9H366.0V536.2H364.0zM366.0 517.9H367.0V531.6H366.0zM368.0 499.5H369.0V536.2H368.0zM369.0 499.5H370.0V513.3H369.0zM369.0 517.9H370.0V531.6H369.0zM370.0 499.5H372.0V536.2H370.0zM372.0 499.5H374.0V513.3H372.0zM372.0 517.9H374.0V536.2H372.0zM374.0 499.5H375.0V536.2H374.0zM375.0 522.5H376.0V536.2H375.0zM376.0 499.5H378.0V513.3H376.0zM376.0 517.9H378.0V536.2H376.0zM378.0 499.5H379.0V536.2H378.0zM379.0 517.9H383.0V536.2H379.0zM380.0 499.5H383.0V513.3H380.0zM383.0 522.5H385.0V536.2H383.0zM384.0 499.5H385.0V513.3H384.0zM384.0 591.3H385.0V600.5H384.0zM385.0 499.5H386.0V531.6H385.0zM386.0 522.5H387.0V531.6H386.0zM386.0 499.5H387.0V513.3H386.0zM387.0 499.5H388.0V536.2H387.0zM388.0 499.5H389.0V513.3H388.0zM388.0 517.9H389.0V536.2H388.0zM389.0 513.3H390.0V536.2H389.0zM390.0 499.5H391.0V513.3H390.0zM390.0 517.9H391.0V536.2H390.0zM391.0 499.5H392.0V536.2H391.0zM392.0 499.5H393.0V517.9H392.0zM392.0 522.5H394.0V536.2H392.0zM392.0 591.3H394.0V600.5H392.0zM394.0 499.5H395.0V513.3H394.0zM394.0 517.9H396.0V536.2H394.0zM396.0 517.9H397.0V527.1H396.0zM396.0 499.5H397.0V513.3H396.0zM397.0 499.5H398.0V536.2H397.0zM398.0 517.9H400.0V536.2H398.0zM401.0 517.9H402.0V536.2H401.0zM398.0 499.5H405.0V513.3H398.0zM403.0 517.9H405.0V536.2H403.0zM405.0 499.5H407.0V536.2H405.0zM407.0 499.5H410.0V513.3H407.0zM407.0 517.9H410.0V536.2H407.0zM410.0 499.5H411.0V536.2H410.0zM411.0 517.9H412.0V536.2H411.0zM411.0 499.5H414.0V513.3H411.0zM413.0 522.5H414.0V536.2H413.0zM415.0 499.5H416.0V536.2H415.0zM416.0 517.9H417.0V536.2H416.0zM418.0 499.5H421.0V536.2H418.0zM421.0 499.5H422.0V513.3H421.0zM421.0 517.9H422.0V536.2H421.0zM422.0 499.5H424.0V536.2H422.0zM424.0 499.5H425.0V513.3H424.0zM424.0 517.9H425.0V536.2H424.0zM425.0 522.5H426.0V536.2H425.0zM425.0 499.5H426.0V517.9H425.0zM426.0 499.5H427.0V536.2H426.0zM427.0 522.5H428.0V536.2H427.0zM427.0 499.5H430.0V513.3H427.0zM428.0 517.9H430.0V536.2H428.0zM430.0 499.5H432.0V536.2H430.0zM432.0 517.9H433.0V536.2H432.0zM432.0 499.5H434.0V513.3H432.0zM433.0 517.9H434.0V531.6H433.0zM434.0 499.5H435.0V536.2H434.0zM435.0 499.5H436.0V517.9H435.0zM436.0 499.5H437.0V513.3H436.0zM436.0 517.9H437.0V536.2H436.0zM440.0 591.3H441.0V600.5H440.0zM438.0 499.5H442.0V513.3H438.0zM438.0 517.9H442.0V536.2H438.0zM442.0 499.5H443.0V536.2H442.0zM443.0 499.5H444.0V513.3H443.0zM443.0 517.9H444.0V536.2H443.0zM445.0 522.5H446.0V536.2H445.0zM445.0 499.5H446.0V517.9H445.0zM446.0 499.5H450.0V513.3H446.0zM446.0 517.9H450.0V536.2H446.0zM450.0 499.5H451.0V536.2H450.0zM451.0 517.9H452.0V536.2H451.0zM452.0 522.5H454.0V536.2H452.0zM451.0 499.5H455.0V513.3H451.0zM455.0 499.5H456.0V536.2H455.0zM458.0 591.3H459.0V600.5H458.0zM457.0 499.5H460.0V513.3H457.0zM457.0 517.9H460.0V536.2H457.0zM460.0 499.5H461.0V536.2H460.0zM461.0 499.5H463.0V513.3H461.0zM462.0 517.9H463.0V536.2H462.0zM464.0 499.5H466.0V536.2H464.0zM466.0 522.5H468.0V536.2H466.0zM467.0 499.5H468.0V517.9H467.0zM468.0 499.5H469.0V536.2H468.0zM469.0 499.5H470.0V513.3H469.0zM469.0 517.9H470.0V536.2H469.0zM470.0 499.5H471.0V536.2H470.0zM471.0 517.9H472.0V536.2H471.0zM472.0 517.9H473.0V531.6H472.0zM471.0 499.5H476.0V513.3H471.0zM473.0 517.9H476.0V536.2H473.0zM477.0 499.5H480.0V513.3H477.0zM477.0 517.9H480.0V536.2H477.0z"/>
<path fill="#469696" d="M546.0 541.4H547.0V555.2H546.0zM546.0 753.0H549.0V762.2H546.0zM548.0 513.8H549.0V541.4H548.0zM546.0 674.8H550.0V702.4H546.0zM548.0 610.4H550.0V624.2H548.0zM548.0 647.2H550.0V670.2H548.0zM549.0 513.8H550.0V555.2H549.0zM549.0 753.0H550.0V780.6H549.0zM548.0 628.8H551.0V638.0H548.0zM550.0 605.8H551.0V624.2H550.0zM550.0 748.4H551.0V780.6H550.0zM551.0 748.4H552.0V762.2H551.0zM551.0 596.6H552.0V624.2H551.0zM552.0 592.0H553.0V624.2H552.0zM550.0 513.8H554.0V541.4H550.0zM550.0 656.4H554.0V702.4H550.0zM553.0 610.4H554.0V628.8H553.0zM554.0 605.8H555.0V624.2H554.0zM554.0 674.8H555.0V716.2H554.0zM552.0 748.4H556.0V780.6H552.0zM554.0 513.8H556.0V555.2H554.0zM555.0 610.4H556.0V624.2H555.0zM556.0 513.8H557.0V541.4H556.0zM556.0 762.2H557.0V780.6H556.0zM556.0 481.6H557.0V500.0H556.0zM556.0 605.8H558.0V624.2H556.0zM555.0 674.8H559.0V702.4H555.0zM557.0 743.8H559.0V780.6H557.0zM558.0 610.4H559.0V624.2H558.0zM557.0 481.6H560.0V541.4H557.0zM559.0 748.4H560.0V780.6H559.0zM559.0 670.2H560.0V702.4H559.0zM559.0 605.8H561.0V628.8H559.0zM560.0 513.8H561.0V541.4H560.0zM560.0 481.6H561.0V500.0H560.0zM554.0 647.2H562.0V665.6H554.0zM560.0 762.2H562.0V780.6H560.0zM560.0 674.8H562.0V702.4H560.0zM561.0 743.8H562.0V748.4H561.0zM562.0 674.8H563.0V716.2H562.0zM562.0 748.4H564.0V799.0H562.0zM563.0 670.2H564.0V716.2H563.0zM563.0 550.6H564.0V555.2H563.0zM561.0 605.8H565.0V624.2H561.0zM564.0 743.8H565.0V799.0H564.0zM564.0 670.2H565.0V734.6H564.0zM565.0 605.8H566.0V628.8H565.0zM566.0 592.0H567.0V628.8H566.0zM561.0 481.6H568.0V541.4H561.0zM565.0 670.2H568.0V716.2H565.0zM567.0 610.4H568.0V624.2H567.0zM567.0 592.0H568.0V605.8H567.0zM565.0 550.6H569.0V555.2H565.0zM568.0 532.2H569.0V546.0H568.0zM568.0 674.8H569.0V716.2H568.0zM568.0 592.0H569.0V624.2H568.0zM565.0 748.4H570.0V799.0H565.0zM569.0 592.0H570.0V628.8H569.0zM569.0 532.2H570.0V555.2H569.0zM570.0 743.8H572.0V799.0H570.0zM570.0 592.0H572.0V624.2H570.0zM572.0 582.8H573.0V592.0H572.0zM572.0 610.4H573.0V628.8H572.0zM570.0 546.0H574.0V555.2H570.0zM570.0 518.4H574.0V536.8H570.0zM572.0 748.4H574.0V799.0H572.0zM573.0 610.4H574.0V624.2H573.0zM574.0 748.4H575.0V780.6H574.0zM574.0 582.8H575.0V592.0H574.0zM574.0 518.4H575.0V555.2H574.0zM574.0 605.8H576.0V624.2H574.0zM575.0 587.4H576.0V592.0H575.0zM575.0 518.4H577.0V546.0H575.0zM575.0 748.4H577.0V799.0H575.0zM575.0 550.6H577.0V555.2H575.0zM576.0 582.8H577.0V592.0H576.0zM576.0 605.8H577.0V628.8H576.0zM569.0 670.2H578.0V716.2H569.0zM577.0 730.0H578.0V799.0H577.0zM577.0 582.8H578.0V605.8H577.0zM577.0 518.4H578.0V555.2H577.0zM578.0 670.2H579.0V734.6H578.0zM578.0 582.8H579.0V592.0H578.0zM578.0 550.6H579.0V555.2H578.0zM578.0 518.4H579.0V536.8H578.0zM578.0 794.4H580.0V799.0H578.0zM578.0 624.2H580.0V628.8H578.0zM578.0 748.4H580.0V789.8H578.0zM578.0 605.8H580.0V610.4H578.0zM579.0 518.4H580.0V592.0H579.0zM568.0 481.6H581.0V504.6H568.0zM580.0 550.6H581.0V592.0H580.0zM580.0 605.8H581.0V628.8H580.0zM580.0 518.4H581.0V536.8H580.0zM581.0 481.6H582.0V500.0H581.0zM579.0 674.8H583.0V716.2H579.0zM581.0 582.8H583.0V624.2H581.0zM580.0 748.4H584.0V799.0H580.0zM582.0 481.6H584.0V504.6H582.0zM583.0 610.4H584.0V624.2H583.0zM583.0 582.8H584.0V605.8H583.0zM581.0 518.4H585.0V555.2H581.0zM583.0 670.2H585.0V716.2H583.0zM584.0 776.0H585.0V780.6H584.0zM584.0 582.8H585.0V628.8H584.0zM584.0 743.8H585.0V757.6H584.0zM584.0 481.6H586.0V500.0H584.0zM585.0 582.8H586.0V624.2H585.0zM585.0 546.0H586.0V555.2H585.0zM585.0 674.8H586.0V716.2H585.0zM585.0 518.4H586.0V536.8H585.0zM586.0 582.8H587.0V592.0H586.0zM586.0 518.4H587.0V555.2H586.0zM586.0 688.6H587.0V702.4H586.0zM585.0 748.4H588.0V780.6H585.0zM586.0 481.6H588.0V504.6H586.0zM587.0 582.8H588.0V605.8H587.0zM587.0 546.0H588.0V555.2H587.0zM586.0 610.4H589.0V624.2H586.0zM587.0 674.8H589.0V716.2H587.0zM587.0 518.4H589.0V536.8H587.0zM588.0 546.0H589.0V605.8H588.0zM588.0 481.6H590.0V500.0H588.0zM589.0 674.8H590.0V702.4H589.0zM589.0 518.4H590.0V564.4H589.0zM589.0 592.0H590.0V624.2H589.0zM590.0 481.6H591.0V504.6H590.0zM590.0 518.4H591.0V536.8H590.0zM590.0 546.0H591.0V624.2H590.0zM590.0 674.8H592.0V716.2H590.0zM591.0 518.4H592.0V555.2H591.0zM591.0 624.2H592.0V628.8H591.0zM591.0 481.6H592.0V500.0H591.0zM591.0 582.8H592.0V610.4H591.0zM588.0 748.4H593.0V799.0H588.0zM592.0 582.8H593.0V605.8H592.0zM592.0 546.0H593.0V555.2H592.0zM592.0 670.2H593.0V716.2H592.0zM593.0 743.8H594.0V799.0H593.0zM593.0 550.6H594.0V592.0H593.0zM593.0 670.2H594.0V702.4H593.0zM592.0 610.4H595.0V624.2H592.0zM592.0 518.4H595.0V536.8H592.0zM594.0 546.0H595.0V573.6H594.0zM594.0 592.0H595.0V605.8H594.0zM594.0 670.2H596.0V716.2H594.0zM595.0 518.4H596.0V573.6H595.0zM595.0 592.0H596.0V624.2H595.0zM596.0 592.0H597.0V628.8H596.0zM596.0 674.8H597.0V716.2H596.0zM594.0 748.4H598.0V799.0H594.0zM597.0 624.2H598.0V628.8H597.0zM597.0 670.2H598.0V716.2H597.0zM597.0 592.0H598.0V610.4H597.0zM596.0 546.0H599.0V573.6H596.0zM596.0 518.4H599.0V536.8H596.0zM598.0 743.8H599.0V799.0H598.0zM598.0 670.2H599.0V702.4H598.0zM598.0 592.0H599.0V624.2H598.0zM592.0 481.6H600.0V504.6H592.0zM599.0 573.6H600.0V605.8H599.0zM599.0 518.4H600.0V555.2H599.0zM599.0 670.2H600.0V716.2H599.0zM599.0 610.4H600.0V628.8H599.0zM599.0 748.4H601.0V799.0H599.0zM600.0 582.8H601.0V624.2H600.0zM600.0 674.8H601.0V716.2H600.0zM600.0 518.4H601.0V550.6H600.0zM600.0 481.6H601.0V500.0H600.0zM601.0 748.4H602.0V780.6H601.0zM601.0 670.2H602.0V674.8H601.0zM601.0 688.6H602.0V716.2H601.0zM601.0 546.0H602.0V555.2H601.0zM601.0 582.8H602.0V628.8H601.0zM601.0 518.4H602.0V536.8H601.0zM601.0 481.6H603.0V504.6H601.0zM602.0 670.2H603.0V716.2H602.0zM602.0 518.4H603.0V564.4H602.0zM602.0 582.8H603.0V610.4H602.0zM603.0 550.6H604.0V628.8H603.0zM603.0 674.8H604.0V716.2H603.0zM603.0 518.4H604.0V536.8H603.0zM603.0 481.6H605.0V500.0H603.0zM604.0 518.4H605.0V559.8H604.0zM604.0 688.6H605.0V716.2H604.0zM602.0 748.4H606.0V799.0H602.0zM604.0 573.6H606.0V624.2H604.0zM605.0 546.0H606.0V559.8H605.0zM605.0 518.4H606.0V536.8H605.0zM605.0 481.6H607.0V504.6H605.0zM606.0 518.4H607.0V592.0H606.0zM606.0 743.8H607.0V799.0H606.0zM606.0 605.8H607.0V610.4H606.0zM605.0 674.8H608.0V716.2H605.0zM607.0 573.6H608.0V624.2H607.0zM607.0 518.4H609.0V559.8H607.0zM608.0 605.8H609.0V624.2H608.0zM608.0 573.6H609.0V592.0H608.0zM608.0 670.2H609.0V716.2H608.0zM609.0 697.8H610.0V716.2H609.0zM609.0 670.2H610.0V693.2H609.0zM609.0 518.4H610.0V536.8H609.0zM609.0 546.0H610.0V624.2H609.0zM610.0 518.4H611.0V559.8H610.0zM610.0 670.2H611.0V716.2H610.0zM607.0 481.6H612.0V500.0H607.0zM610.0 573.6H612.0V624.2H610.0zM611.0 550.6H612.0V559.8H611.0zM611.0 674.8H612.0V716.2H611.0zM607.0 748.4H613.0V799.0H607.0zM612.0 546.0H613.0V592.0H612.0zM612.0 605.8H613.0V624.2H612.0zM612.0 670.2H613.0V674.8H612.0zM612.0 688.6H613.0V716.2H612.0zM612.0 481.6H614.0V504.6H612.0zM613.0 743.8H614.0V799.0H613.0zM613.0 573.6H614.0V610.4H613.0zM611.0 518.4H615.0V536.8H611.0zM613.0 546.0H615.0V559.8H613.0zM614.0 573.6H615.0V624.2H614.0zM613.0 674.8H616.0V716.2H613.0zM614.0 481.6H616.0V500.0H614.0zM615.0 605.8H616.0V624.2H615.0zM615.0 573.6H616.0V592.0H615.0zM616.0 688.6H617.0V716.2H616.0zM615.0 518.4H618.0V559.8H615.0zM616.0 481.6H619.0V504.6H616.0zM618.0 555.2H619.0V559.8H618.0zM618.0 532.2H619.0V550.6H618.0zM617.0 670.2H620.0V716.2H617.0zM619.0 532.2H620.0V559.8H619.0zM620.0 518.4H621.0V550.6H620.0zM616.0 573.6H622.0V624.2H616.0zM619.0 481.6H622.0V500.0H619.0zM621.0 532.2H623.0V550.6H621.0zM622.0 605.8H623.0V624.2H622.0zM622.0 587.4H623.0V592.0H622.0zM620.0 674.8H624.0V716.2H620.0zM622.0 481.6H624.0V504.6H622.0zM623.0 518.4H625.0V550.6H623.0zM624.0 670.2H626.0V716.2H624.0zM625.0 532.2H626.0V550.6H625.0zM624.0 481.6H627.0V500.0H624.0zM626.0 674.8H627.0V716.2H626.0zM623.0 573.6H628.0V624.2H623.0zM626.0 518.4H628.0V550.6H626.0zM627.0 670.2H629.0V693.2H627.0zM627.0 481.6H629.0V504.6H627.0zM628.0 605.8H629.0V624.2H628.0zM628.0 573.6H629.0V592.0H628.0zM628.0 532.2H630.0V550.6H628.0zM629.0 573.6H630.0V610.4H629.0zM629.0 481.6H630.0V500.0H629.0zM629.0 674.8H631.0V693.2H629.0zM630.0 573.6H631.0V592.0H630.0zM630.0 605.8H631.0V610.4H630.0zM630.0 518.4H632.0V550.6H630.0zM631.0 573.6H632.0V610.4H631.0zM627.0 697.8H633.0V716.2H627.0zM630.0 481.6H633.0V504.6H630.0zM631.0 670.2H633.0V693.2H631.0zM632.0 573.6H633.0V592.0H632.0zM632.0 532.2H633.0V550.6H632.0zM632.0 605.8H633.0V610.4H632.0zM633.0 573.6H634.0V605.8H633.0zM633.0 518.4H634.0V550.6H633.0zM633.0 481.6H634.0V500.0H633.0zM614.0 748.4H635.0V799.0H614.0zM634.0 592.0H635.0V605.8H634.0zM634.0 481.6H636.0V504.6H634.0zM635.0 743.8H636.0V780.6H635.0zM636.0 481.6H638.0V500.0H636.0zM634.0 532.2H639.0V550.6H634.0zM636.0 748.4H639.0V780.6H636.0zM635.0 573.6H640.0V605.8H635.0zM638.0 481.6H640.0V504.6H638.0zM639.0 748.4H640.0V799.0H639.0zM640.0 555.2H641.0V605.8H640.0zM640.0 748.4H641.0V771.4H640.0zM640.0 481.6H641.0V500.0H640.0zM639.0 518.4H642.0V550.6H639.0zM641.0 748.4H642.0V780.6H641.0zM633.0 674.8H643.0V716.2H633.0zM641.0 573.6H643.0V592.0H641.0zM642.0 748.4H643.0V799.0H642.0zM641.0 481.6H644.0V504.6H641.0zM642.0 532.2H644.0V550.6H642.0zM643.0 573.6H644.0V605.8H643.0zM643.0 670.2H644.0V716.2H643.0zM644.0 573.6H645.0V592.0H644.0zM644.0 674.8H646.0V716.2H644.0zM644.0 518.4H646.0V550.6H644.0zM644.0 481.6H646.0V500.0H644.0zM645.0 555.2H646.0V592.0H645.0zM646.0 573.6H647.0V605.8H646.0zM646.0 532.2H647.0V550.6H646.0zM643.0 748.4H648.0V780.6H643.0zM646.0 670.2H648.0V716.2H646.0zM646.0 481.6H649.0V504.6H646.0zM648.0 743.8H649.0V780.6H648.0zM647.0 573.6H650.0V610.4H647.0zM647.0 518.4H650.0V550.6H647.0zM648.0 674.8H650.0V716.2H648.0zM649.0 748.4H650.0V780.6H649.0zM650.0 743.8H651.0V780.6H650.0zM650.0 605.8H651.0V628.8H650.0zM650.0 532.2H651.0V550.6H650.0zM650.0 573.6H652.0V592.0H650.0zM650.0 670.2H652.0V716.2H650.0zM649.0 481.6H653.0V500.0H649.0zM651.0 605.8H653.0V624.2H651.0zM651.0 748.4H653.0V780.6H651.0zM652.0 573.6H653.0V601.2H652.0zM652.0 674.8H653.0V716.2H652.0zM653.0 743.8H654.0V780.6H653.0zM653.0 555.2H654.0V601.2H653.0zM653.0 605.8H654.0V628.8H653.0zM654.0 605.8H655.0V624.2H654.0zM654.0 688.6H655.0V702.4H654.0zM651.0 518.4H656.0V550.6H651.0zM654.0 748.4H656.0V780.6H654.0zM656.0 743.8H657.0V780.6H656.0zM656.0 518.4H657.0V559.8H656.0zM656.0 702.4H657.0V725.4H656.0zM655.0 605.8H658.0V628.8H655.0zM657.0 688.6H658.0V702.4H657.0zM658.0 605.8H659.0V624.2H658.0zM658.0 688.6H659.0V734.6H658.0zM654.0 573.6H660.0V601.2H654.0zM659.0 605.8H660.0V610.4H659.0zM660.0 605.8H661.0V624.2H660.0zM660.0 688.6H661.0V702.4H660.0zM661.0 605.8H662.0V628.8H661.0zM657.0 748.4H663.0V780.6H657.0zM662.0 605.8H663.0V624.2H662.0zM662.0 688.6H663.0V702.4H662.0zM653.0 481.6H664.0V504.6H653.0zM660.0 573.6H664.0V592.0H660.0zM663.0 748.4H664.0V799.0H663.0zM663.0 670.2H664.0V702.4H663.0zM663.0 624.2H664.0V628.8H663.0zM663.0 605.8H664.0V610.4H663.0zM657.0 518.4H665.0V550.6H657.0zM664.0 748.4H665.0V780.6H664.0zM664.0 573.6H665.0V628.8H664.0zM664.0 481.6H665.0V500.0H664.0zM665.0 748.4H666.0V799.0H665.0zM665.0 605.8H666.0V628.8H665.0zM665.0 532.2H666.0V550.6H665.0zM664.0 688.6H667.0V702.4H664.0zM666.0 605.8H667.0V624.2H666.0zM666.0 518.4H667.0V550.6H666.0zM667.0 532.2H668.0V550.6H667.0zM665.0 573.6H669.0V592.0H665.0zM665.0 481.6H669.0V504.6H665.0zM667.0 605.8H669.0V628.8H667.0zM668.0 518.4H669.0V550.6H668.0zM668.0 688.6H670.0V702.4H668.0zM669.0 605.8H670.0V624.2H669.0zM669.0 555.2H670.0V592.0H669.0zM669.0 532.2H670.0V550.6H669.0zM669.0 481.6H670.0V500.0H669.0zM666.0 748.4H671.0V780.6H666.0zM670.0 670.2H671.0V702.4H670.0zM670.0 573.6H671.0V628.8H670.0zM670.0 518.4H672.0V550.6H670.0zM671.0 748.4H672.0V799.0H671.0zM671.0 688.6H672.0V702.4H671.0zM671.0 573.6H673.0V624.2H671.0zM670.0 481.6H674.0V504.6H670.0zM672.0 748.4H674.0V780.6H672.0zM673.0 688.6H674.0V702.4H673.0zM672.0 532.2H675.0V550.6H672.0zM674.0 743.8H675.0V799.0H674.0zM674.0 688.6H675.0V716.2H674.0zM674.0 481.6H675.0V500.0H674.0zM675.0 688.6H676.0V702.4H675.0zM673.0 555.2H677.0V624.2H673.0zM675.0 481.6H677.0V504.6H675.0zM675.0 518.4H677.0V550.6H675.0zM677.0 702.4H678.0V734.6H677.0zM677.0 532.2H679.0V550.6H677.0zM675.0 748.4H680.0V799.0H675.0zM677.0 587.4H680.0V624.2H677.0zM677.0 481.6H680.0V500.0H677.0zM679.0 518.4H680.0V550.6H679.0zM677.0 555.2H681.0V578.2H677.0zM680.0 587.4H681.0V610.4H680.0zM680.0 670.2H681.0V688.6H680.0zM680.0 532.2H681.0V550.6H680.0zM681.0 559.8H682.0V610.4H681.0zM681.0 688.6H682.0V725.4H681.0zM681.0 518.4H682.0V550.6H681.0zM680.0 748.4H683.0V780.6H680.0zM682.0 532.2H683.0V550.6H682.0zM680.0 481.6H685.0V504.6H680.0zM682.0 587.4H685.0V624.2H682.0zM682.0 559.8H685.0V578.2H682.0zM683.0 518.4H685.0V550.6H683.0zM682.0 688.6H686.0V702.4H682.0zM685.0 532.2H686.0V550.6H685.0zM685.0 481.6H687.0V500.0H685.0zM687.0 688.6H688.0V702.4H687.0zM688.0 730.0H689.0V734.6H688.0zM689.0 688.6H690.0V716.2H689.0zM686.0 518.4H692.0V550.6H686.0zM687.0 481.6H692.0V504.6H687.0zM690.0 688.6H693.0V702.4H690.0zM692.0 481.6H693.0V500.0H692.0zM693.0 670.2H694.0V688.6H693.0zM685.0 559.8H695.0V624.2H685.0zM692.0 532.2H696.0V550.6H692.0zM695.0 559.8H696.0V610.4H695.0zM693.0 481.6H697.0V504.6H693.0zM695.0 688.6H697.0V702.4H695.0zM696.0 559.8H697.0V624.2H696.0zM696.0 518.4H697.0V550.6H696.0zM683.0 748.4H698.0V799.0H683.0zM697.0 532.2H698.0V624.2H697.0zM697.0 688.6H698.0V716.2H697.0zM697.0 481.6H698.0V500.0H697.0zM698.0 748.4H699.0V780.6H698.0zM698.0 518.4H699.0V624.2H698.0zM699.0 532.2H700.0V624.2H699.0zM698.0 481.6H701.0V504.6H698.0zM698.0 688.6H701.0V702.4H698.0zM700.0 559.8H701.0V624.2H700.0zM700.0 532.2H701.0V550.6H700.0zM699.0 748.4H702.0V799.0H699.0zM701.0 688.6H702.0V716.2H701.0zM701.0 518.4H702.0V555.2H701.0zM701.0 481.6H703.0V500.0H701.0zM701.0 573.6H703.0V624.2H701.0zM702.0 743.8H703.0V799.0H702.0zM702.0 532.2H703.0V555.2H702.0zM703.0 559.8H704.0V610.4H703.0zM703.0 532.2H704.0V550.6H703.0zM702.0 688.6H705.0V702.4H702.0zM704.0 518.4H705.0V624.2H704.0zM705.0 532.2H706.0V555.2H705.0zM705.0 688.6H706.0V725.4H705.0zM705.0 573.6H706.0V610.4H705.0zM703.0 748.4H707.0V799.0H703.0zM706.0 688.6H707.0V702.4H706.0zM705.0 486.2H708.0V504.6H705.0zM706.0 532.2H708.0V624.2H706.0zM707.0 748.4H708.0V780.6H707.0zM707.0 688.6H709.0V734.6H707.0zM708.0 518.4H709.0V550.6H708.0zM708.0 743.8H709.0V780.6H708.0zM709.0 532.2H710.0V555.2H709.0zM708.0 573.6H711.0V624.2H708.0zM709.0 748.4H711.0V780.6H709.0zM710.0 518.4H711.0V550.6H710.0zM711.0 518.4H712.0V592.0H711.0zM711.0 605.8H712.0V610.4H711.0zM712.0 532.2H713.0V628.8H712.0zM712.0 486.2H713.0V504.6H712.0zM713.0 518.4H714.0V624.2H713.0zM714.0 518.4H715.0V592.0H714.0zM714.0 605.8H715.0V624.2H714.0zM710.0 688.6H716.0V702.4H710.0zM715.0 624.2H716.0V628.8H715.0zM715.0 532.2H716.0V550.6H715.0zM715.0 582.8H716.0V610.4H715.0zM711.0 748.4H717.0V799.0H711.0zM716.0 670.2H717.0V702.4H716.0zM716.0 518.4H717.0V550.6H716.0zM717.0 743.8H718.0V799.0H717.0zM717.0 688.6H718.0V702.4H717.0zM717.0 532.2H718.0V550.6H717.0zM715.0 555.2H719.0V559.8H715.0zM716.0 587.4H719.0V624.2H716.0zM718.0 702.4H719.0V734.6H718.0zM718.0 748.4H720.0V799.0H718.0zM718.0 518.4H720.0V550.6H718.0zM719.0 688.6H720.0V716.2H719.0zM719.0 555.2H720.0V610.4H719.0zM720.0 587.4H721.0V610.4H720.0zM720.0 624.2H721.0V628.8H720.0zM720.0 748.4H722.0V780.6H720.0zM720.0 518.4H723.0V536.8H720.0zM721.0 582.8H723.0V610.4H721.0zM722.0 624.2H723.0V628.8H722.0zM722.0 748.4H724.0V799.0H722.0zM723.0 582.8H724.0V624.2H723.0zM720.0 688.6H725.0V702.4H720.0zM724.0 743.8H725.0V799.0H724.0zM724.0 587.4H725.0V592.0H724.0zM724.0 605.8H725.0V610.4H724.0zM725.0 748.4H726.0V780.6H725.0zM725.0 688.6H726.0V716.2H725.0zM725.0 582.8H726.0V610.4H725.0zM723.0 532.2H727.0V536.8H723.0zM726.0 486.2H727.0V504.6H726.0zM726.0 587.4H728.0V610.4H726.0zM726.0 688.6H728.0V702.4H726.0zM726.0 748.4H729.0V799.0H726.0zM727.0 518.4H729.0V536.8H727.0zM728.0 670.2H729.0V688.6H728.0zM728.0 587.4H730.0V624.2H728.0zM729.0 748.4H730.0V780.6H729.0zM729.0 688.6H730.0V702.4H729.0zM730.0 605.8H731.0V610.4H730.0zM729.0 532.2H732.0V536.8H729.0zM730.0 748.4H732.0V799.0H730.0zM731.0 582.8H733.0V624.2H731.0zM732.0 748.4H733.0V780.6H732.0zM733.0 605.8H734.0V624.2H733.0zM733.0 748.4H735.0V799.0H733.0zM734.0 582.8H735.0V624.2H734.0zM734.0 486.2H735.0V504.6H734.0zM720.0 550.6H736.0V559.8H720.0zM731.0 688.6H736.0V702.4H731.0zM735.0 587.4H736.0V624.2H735.0zM736.0 550.6H737.0V624.2H736.0zM735.0 743.8H738.0V799.0H735.0zM737.0 582.8H738.0V624.2H737.0zM737.0 550.6H738.0V559.8H737.0zM738.0 605.8H739.0V624.2H738.0zM738.0 587.4H739.0V592.0H738.0zM737.0 688.6H740.0V702.4H737.0zM738.0 748.4H740.0V799.0H738.0zM739.0 587.4H740.0V624.2H739.0zM738.0 555.2H741.0V559.8H738.0zM740.0 743.8H741.0V799.0H740.0zM740.0 582.8H741.0V624.2H740.0zM740.0 670.2H741.0V688.6H740.0zM732.0 518.4H742.0V536.8H732.0zM741.0 587.4H742.0V610.4H741.0zM741.0 688.6H742.0V743.8H741.0zM742.0 587.4H743.0V624.2H742.0zM742.0 688.6H743.0V702.4H742.0zM742.0 555.2H743.0V582.8H742.0zM742.0 532.2H743.0V536.8H742.0zM743.0 582.8H744.0V624.2H743.0zM743.0 688.6H744.0V734.6H743.0zM743.0 555.2H744.0V559.8H743.0zM744.0 555.2H745.0V624.2H744.0zM744.0 688.6H745.0V725.4H744.0zM743.0 518.4H746.0V536.8H743.0zM745.0 555.2H746.0V559.8H745.0zM745.0 582.8H747.0V624.2H745.0zM746.0 688.6H747.0V734.6H746.0zM746.0 532.2H747.0V536.8H746.0zM741.0 748.4H748.0V799.0H741.0zM747.0 605.8H748.0V624.2H747.0zM747.0 587.4H748.0V592.0H747.0zM747.0 555.2H748.0V559.8H747.0zM748.0 555.2H749.0V624.2H748.0zM748.0 748.4H749.0V780.6H748.0zM748.0 688.6H749.0V743.8H748.0zM749.0 582.8H750.0V624.2H749.0zM749.0 748.4H750.0V799.0H749.0zM747.0 518.4H751.0V536.8H747.0zM750.0 748.4H751.0V780.6H750.0zM750.0 688.6H751.0V702.4H750.0zM749.0 555.2H752.0V559.8H749.0zM750.0 587.4H752.0V624.2H750.0zM751.0 748.4H752.0V799.0H751.0zM751.0 532.2H752.0V536.8H751.0zM751.0 702.4H752.0V725.4H751.0zM752.0 688.6H753.0V702.4H752.0zM752.0 587.4H754.0V610.4H752.0zM752.0 518.4H754.0V536.8H752.0zM754.0 688.6H755.0V702.4H754.0zM754.0 518.4H755.0V550.6H754.0zM752.0 748.4H756.0V780.6H752.0zM754.0 582.8H756.0V610.4H754.0zM755.0 688.6H756.0V743.8H755.0zM753.0 555.2H757.0V559.8H753.0zM756.0 587.4H757.0V610.4H756.0zM756.0 743.8H757.0V780.6H756.0zM756.0 688.6H757.0V702.4H756.0zM755.0 518.4H758.0V536.8H755.0zM757.0 550.6H758.0V592.0H757.0zM757.0 688.6H758.0V716.2H757.0zM757.0 748.4H759.0V799.0H757.0zM757.0 605.8H759.0V610.4H757.0zM758.0 532.2H759.0V592.0H758.0zM758.0 688.6H759.0V734.6H758.0zM759.0 573.6H760.0V610.4H759.0zM759.0 518.4H760.0V550.6H759.0zM759.0 748.4H761.0V780.6H759.0zM760.0 532.2H761.0V610.4H760.0zM760.0 688.6H761.0V702.4H760.0zM761.0 518.4H762.0V592.0H761.0zM761.0 748.4H762.0V799.0H761.0zM761.0 688.6H762.0V716.2H761.0zM761.0 605.8H762.0V610.4H761.0zM762.0 573.6H763.0V605.8H762.0zM762.0 743.8H763.0V799.0H762.0zM762.0 518.4H763.0V550.6H762.0zM763.0 532.2H764.0V610.4H763.0zM762.0 688.6H765.0V702.4H762.0zM763.0 748.4H765.0V799.0H763.0zM764.0 518.4H765.0V592.0H764.0zM765.0 532.2H766.0V592.0H765.0zM765.0 743.8H766.0V780.6H765.0zM764.0 605.8H767.0V610.4H764.0zM766.0 573.6H767.0V592.0H766.0zM766.0 748.4H767.0V780.6H766.0zM766.0 518.4H767.0V550.6H766.0zM767.0 518.4H768.0V559.8H767.0zM767.0 573.6H768.0V610.4H767.0zM766.0 688.6H769.0V702.4H766.0zM768.0 518.4H770.0V605.8H768.0zM769.0 688.6H770.0V734.6H769.0zM770.0 532.2H771.0V610.4H770.0zM770.0 688.6H771.0V702.4H770.0zM771.0 688.6H772.0V734.6H771.0zM771.0 518.4H772.0V610.4H771.0zM772.0 518.4H773.0V550.6H772.0zM772.0 702.4H773.0V743.8H772.0zM772.0 573.6H774.0V605.8H772.0zM773.0 532.2H774.0V550.6H773.0zM767.0 748.4H775.0V799.0H767.0zM774.0 518.4H775.0V610.4H774.0zM775.0 743.8H776.0V799.0H775.0zM775.0 518.4H776.0V605.8H775.0zM773.0 688.6H777.0V702.4H773.0zM776.0 518.4H777.0V610.4H776.0zM776.0 748.4H778.0V799.0H776.0zM777.0 702.4H778.0V734.6H777.0zM777.0 532.2H778.0V550.6H777.0zM777.0 573.6H779.0V605.8H777.0zM778.0 780.6H779.0V799.0H778.0zM778.0 748.4H779.0V762.2H778.0zM778.0 518.4H780.0V550.6H778.0zM779.0 573.6H780.0V610.4H779.0zM779.0 748.4H781.0V799.0H779.0zM780.0 518.4H781.0V536.8H780.0zM780.0 550.6H781.0V559.8H780.0zM780.0 688.6H781.0V725.4H780.0zM780.0 578.2H781.0V592.0H780.0zM780.0 605.8H781.0V610.4H780.0zM781.0 688.6H782.0V702.4H781.0zM781.0 518.4H782.0V550.6H781.0zM781.0 573.6H783.0V592.0H781.0zM782.0 518.4H783.0V536.8H782.0zM782.0 605.8H783.0V610.4H782.0zM781.0 757.6H784.0V799.0H781.0zM783.0 518.4H784.0V592.0H783.0zM784.0 518.4H785.0V610.4H784.0zM785.0 550.6H786.0V592.0H785.0zM785.0 518.4H786.0V536.8H785.0zM785.0 605.8H786.0V610.4H785.0zM783.0 688.6H787.0V702.4H783.0zM786.0 573.6H787.0V610.4H786.0zM786.0 518.4H787.0V550.6H786.0zM787.0 688.6H788.0V716.2H787.0zM787.0 518.4H788.0V605.8H787.0zM788.0 573.6H789.0V592.0H788.0zM788.0 688.6H789.0V734.6H788.0zM789.0 688.6H790.0V702.4H789.0zM788.0 518.4H791.0V536.8H788.0zM789.0 573.6H791.0V610.4H789.0zM791.0 518.4H792.0V605.8H791.0zM791.0 688.6H793.0V702.4H791.0zM792.0 518.4H793.0V536.8H792.0zM792.0 550.6H793.0V610.4H792.0zM793.0 573.6H794.0V592.0H793.0zM793.0 605.8H794.0V610.4H793.0zM738.0 481.6H795.0V500.0H738.0zM794.0 688.6H796.0V702.4H794.0zM794.0 573.6H796.0V610.4H794.0zM795.0 481.6H797.0V504.6H795.0zM796.0 605.8H797.0V610.4H796.0zM797.0 605.8H798.0V624.2H797.0zM797.0 702.4H798.0V725.4H797.0zM797.0 481.6H799.0V500.0H797.0zM798.0 688.6H800.0V702.4H798.0zM799.0 481.6H800.0V504.6H799.0zM793.0 518.4H801.0V550.6H793.0zM796.0 573.6H801.0V592.0H796.0zM798.0 605.8H801.0V610.4H798.0zM800.0 481.6H801.0V500.0H800.0zM801.0 518.4H802.0V605.8H801.0zM801.0 481.6H803.0V504.6H801.0zM784.0 757.6H804.0V776.0H784.0zM802.0 518.4H804.0V610.4H802.0zM803.0 688.6H805.0V702.4H803.0zM804.0 743.8H805.0V776.0H804.0zM804.0 518.4H805.0V605.8H804.0zM803.0 481.6H806.0V500.0H803.0zM805.0 688.6H806.0V725.4H805.0zM805.0 573.6H806.0V610.4H805.0zM806.0 573.6H807.0V605.8H806.0zM805.0 757.6H808.0V776.0H805.0zM806.0 688.6H808.0V702.4H806.0zM806.0 481.6H808.0V504.6H806.0zM805.0 518.4H809.0V550.6H805.0zM807.0 573.6H809.0V610.4H807.0zM808.0 743.8H809.0V776.0H808.0zM808.0 481.6H809.0V500.0H808.0zM784.0 780.6H810.0V799.0H784.0zM809.0 748.4H810.0V776.0H809.0zM809.0 518.4H810.0V610.4H809.0zM809.0 688.6H811.0V702.4H809.0zM809.0 481.6H811.0V504.6H809.0zM810.0 573.6H811.0V610.4H810.0zM810.0 748.4H812.0V799.0H810.0zM811.0 573.6H812.0V605.8H811.0zM811.0 688.6H812.0V725.4H811.0zM811.0 481.6H812.0V500.0H811.0zM812.0 573.6H813.0V592.0H812.0zM812.0 688.6H813.0V702.4H812.0zM812.0 605.8H813.0V610.4H812.0zM810.0 518.4H814.0V550.6H810.0zM812.0 481.6H814.0V504.6H812.0zM813.0 573.6H814.0V605.8H813.0zM813.0 670.2H814.0V702.4H813.0zM814.0 518.4H815.0V605.8H814.0zM814.0 481.6H815.0V500.0H814.0zM815.0 573.6H816.0V605.8H815.0zM815.0 688.6H817.0V702.4H815.0zM815.0 481.6H817.0V504.6H815.0zM815.0 518.4H818.0V550.6H815.0zM816.0 573.6H818.0V592.0H816.0zM816.0 605.8H818.0V610.4H816.0zM817.0 481.6H818.0V500.0H817.0zM812.0 725.4H819.0V799.0H812.0zM818.0 518.4H819.0V605.8H818.0zM818.0 481.6H819.0V504.6H818.0zM818.0 688.6H820.0V702.4H818.0zM819.0 573.6H820.0V605.8H819.0zM819.0 518.4H820.0V550.6H819.0zM819.0 481.6H820.0V500.0H819.0zM819.0 725.4H821.0V734.6H819.0zM820.0 573.6H821.0V592.0H820.0zM820.0 670.2H821.0V688.6H820.0zM820.0 518.4H821.0V536.8H820.0zM820.0 605.8H821.0V610.4H820.0zM820.0 481.6H822.0V504.6H820.0zM821.0 688.6H822.0V725.4H821.0zM821.0 573.6H823.0V610.4H821.0zM821.0 518.4H824.0V550.6H821.0zM823.0 573.6H824.0V605.8H823.0zM824.0 518.4H825.0V536.8H824.0zM819.0 743.8H826.0V799.0H819.0zM824.0 573.6H826.0V610.4H824.0zM822.0 688.6H827.0V702.4H822.0zM825.0 518.4H827.0V550.6H825.0zM826.0 573.6H827.0V605.8H826.0zM827.0 702.4H828.0V716.2H827.0zM827.0 518.4H828.0V610.4H827.0zM828.0 518.4H829.0V536.8H828.0zM828.0 688.6H829.0V725.4H828.0zM828.0 550.6H829.0V610.4H828.0zM822.0 481.6H830.0V500.0H822.0zM829.0 573.6H830.0V605.8H829.0zM829.0 688.6H830.0V702.4H829.0zM829.0 518.4H831.0V550.6H829.0zM830.0 670.2H831.0V688.6H830.0zM830.0 573.6H831.0V610.4H830.0zM830.0 481.6H832.0V504.6H830.0zM831.0 518.4H832.0V592.0H831.0zM831.0 688.6H832.0V702.4H831.0zM831.0 605.8H832.0V610.4H831.0zM832.0 550.6H833.0V610.4H832.0zM832.0 518.4H833.0V536.8H832.0zM832.0 481.6H834.0V500.0H832.0zM833.0 518.4H834.0V605.8H833.0zM834.0 573.6H835.0V605.8H834.0zM834.0 481.6H835.0V504.6H834.0zM834.0 688.6H835.0V725.4H834.0zM826.0 734.6H836.0V799.0H826.0zM835.0 481.6H837.0V500.0H835.0zM836.0 702.4H837.0V799.0H836.0zM835.0 573.6H838.0V610.4H835.0zM837.0 734.6H838.0V799.0H837.0zM834.0 518.4H839.0V550.6H834.0zM837.0 481.6H839.0V504.6H837.0zM838.0 573.6H839.0V605.8H838.0zM838.0 688.6H839.0V702.4H838.0zM838.0 725.4H839.0V799.0H838.0zM839.0 518.4H841.0V605.8H839.0zM839.0 481.6H841.0V500.0H839.0zM840.0 670.2H841.0V688.6H840.0zM841.0 550.6H842.0V605.8H841.0zM841.0 481.6H842.0V504.6H841.0zM841.0 518.4H842.0V536.8H841.0zM842.0 573.6H843.0V605.8H842.0zM842.0 518.4H843.0V550.6H842.0zM842.0 481.6H843.0V500.0H842.0zM843.0 518.4H844.0V610.4H843.0zM843.0 481.6H844.0V504.6H843.0zM844.0 573.6H845.0V605.8H844.0zM844.0 481.6H845.0V500.0H844.0zM844.0 518.4H845.0V536.8H844.0zM845.0 573.6H846.0V610.4H845.0zM845.0 518.4H846.0V550.6H845.0zM845.0 481.6H847.0V504.6H845.0zM846.0 518.4H848.0V610.4H846.0zM848.0 573.6H849.0V605.8H848.0zM848.0 518.4H849.0V536.8H848.0zM839.0 697.8H850.0V799.0H839.0zM849.0 573.6H850.0V610.4H849.0zM849.0 518.4H850.0V550.6H849.0zM850.0 743.8H851.0V799.0H850.0zM850.0 697.8H851.0V720.8H850.0zM850.0 518.4H851.0V610.4H850.0zM851.0 573.6H852.0V610.4H851.0zM851.0 697.8H852.0V799.0H851.0zM851.0 518.4H852.0V550.6H851.0zM847.0 481.6H853.0V500.0H847.0zM852.0 743.8H853.0V799.0H852.0zM852.0 550.6H853.0V605.8H852.0zM852.0 518.4H853.0V536.8H852.0zM853.0 739.2H854.0V799.0H853.0zM853.0 481.6H854.0V504.6H853.0zM853.0 518.4H855.0V610.4H853.0zM855.0 573.6H856.0V605.8H855.0zM855.0 518.4H856.0V536.8H855.0zM856.0 573.6H857.0V610.4H856.0zM856.0 518.4H857.0V550.6H856.0zM854.0 743.8H858.0V799.0H854.0zM857.0 518.4H858.0V587.4H857.0zM852.0 697.8H859.0V720.8H852.0zM858.0 739.2H859.0V799.0H858.0zM858.0 573.6H860.0V605.8H858.0zM859.0 697.8H860.0V799.0H859.0zM860.0 743.8H861.0V799.0H860.0zM860.0 573.6H861.0V610.4H860.0zM858.0 518.4H862.0V550.6H858.0zM860.0 697.8H862.0V720.8H860.0zM861.0 573.6H862.0V605.8H861.0zM861.0 739.2H862.0V799.0H861.0zM854.0 481.6H863.0V500.0H854.0zM862.0 697.8H863.0V799.0H862.0zM862.0 518.4H863.0V536.8H862.0zM862.0 573.6H864.0V610.4H862.0zM863.0 743.8H864.0V799.0H863.0zM863.0 697.8H864.0V720.8H863.0zM863.0 481.6H864.0V504.6H863.0zM863.0 518.4H864.0V550.6H863.0zM864.0 518.4H865.0V610.4H864.0zM864.0 697.8H866.0V799.0H864.0zM865.0 573.6H866.0V610.4H865.0zM865.0 518.4H867.0V550.6H865.0zM866.0 573.6H867.0V605.8H866.0zM866.0 743.8H867.0V799.0H866.0zM866.0 697.8H867.0V720.8H866.0zM867.0 550.6H868.0V605.8H867.0zM867.0 518.4H868.0V536.8H867.0zM868.0 518.4H870.0V610.4H868.0zM870.0 573.6H871.0V605.8H870.0zM871.0 573.6H872.0V610.4H871.0zM870.0 518.4H873.0V550.6H870.0zM872.0 573.6H873.0V605.8H872.0zM867.0 697.8H874.0V799.0H867.0zM873.0 518.4H874.0V605.8H873.0zM874.0 546.0H876.0V550.6H874.0zM874.0 573.6H876.0V610.4H874.0zM876.0 546.0H879.0V610.4H876.0zM879.0 546.0H880.0V605.8H879.0zM864.0 481.6H881.0V500.0H864.0zM874.0 739.2H881.0V799.0H874.0zM874.0 697.8H881.0V720.8H874.0zM880.0 546.0H881.0V610.4H880.0zM881.0 546.0H882.0V605.8H881.0zM874.0 518.4H883.0V536.8H874.0zM881.0 697.8H883.0V799.0H881.0zM881.0 481.6H883.0V504.6H881.0zM882.0 546.0H883.0V550.6H882.0zM883.0 739.2H886.0V799.0H883.0zM883.0 697.8H886.0V720.8H883.0zM882.0 573.6H887.0V610.4H882.0zM886.0 697.8H888.0V799.0H886.0zM887.0 573.6H888.0V605.8H887.0zM883.0 518.4H889.0V550.6H883.0zM888.0 739.2H889.0V799.0H888.0zM888.0 702.4H889.0V720.8H888.0zM888.0 573.6H889.0V610.4H888.0zM889.0 546.0H890.0V610.4H889.0zM889.0 702.4H891.0V799.0H889.0zM890.0 546.0H891.0V550.6H890.0zM890.0 573.6H891.0V610.4H890.0zM889.0 518.4H892.0V536.8H889.0zM891.0 546.0H892.0V610.4H891.0zM891.0 739.2H893.0V799.0H891.0zM892.0 518.4H893.0V605.8H892.0zM892.0 610.4H893.0V624.2H892.0zM893.0 518.4H894.0V536.8H893.0zM893.0 702.4H894.0V720.8H893.0zM893.0 739.2H894.0V780.6H893.0zM893.0 546.0H894.0V610.4H893.0zM894.0 702.4H895.0V799.0H894.0zM894.0 518.4H895.0V610.4H894.0zM895.0 573.6H896.0V610.4H895.0zM896.0 605.8H897.0V624.2H896.0zM895.0 725.4H898.0V799.0H895.0zM898.0 739.2H899.0V799.0H898.0zM898.0 702.4H899.0V720.8H898.0zM895.0 518.4H900.0V550.6H895.0zM896.0 573.6H900.0V592.0H896.0zM897.0 605.8H900.0V610.4H897.0zM900.0 546.0H901.0V592.0H900.0zM900.0 518.4H901.0V536.8H900.0zM901.0 518.4H902.0V550.6H901.0zM901.0 573.6H902.0V592.0H901.0zM902.0 518.4H903.0V592.0H902.0zM902.0 605.8H903.0V610.4H902.0zM899.0 725.4H904.0V799.0H899.0zM903.0 546.0H904.0V610.4H903.0zM903.0 518.4H904.0V536.8H903.0zM904.0 739.2H905.0V799.0H904.0zM904.0 702.4H905.0V720.8H904.0zM883.0 481.6H906.0V500.0H883.0zM905.0 702.4H906.0V799.0H905.0zM904.0 518.4H907.0V610.4H904.0zM906.0 725.4H907.0V799.0H906.0zM906.0 481.6H907.0V504.6H906.0zM907.0 518.4H908.0V605.8H907.0zM907.0 481.6H908.0V500.0H907.0zM907.0 702.4H908.0V799.0H907.0zM908.0 481.6H909.0V504.6H908.0zM908.0 573.6H911.0V610.4H908.0zM908.0 518.4H911.0V550.6H908.0zM908.0 725.4H911.0V799.0H908.0zM911.0 697.8H912.0V799.0H911.0zM911.0 546.0H912.0V605.8H911.0zM911.0 518.4H912.0V536.8H911.0zM912.0 697.8H913.0V702.4H912.0zM912.0 518.4H914.0V605.8H912.0zM912.0 725.4H914.0V799.0H912.0zM914.0 573.6H915.0V610.4H914.0zM914.0 518.4H916.0V550.6H914.0zM914.0 702.4H916.0V799.0H914.0zM915.0 573.6H916.0V592.0H915.0zM916.0 697.8H917.0V707.0H916.0zM916.0 518.4H917.0V536.8H916.0zM916.0 546.0H917.0V605.8H916.0zM917.0 518.4H919.0V605.8H917.0zM917.0 702.4H920.0V707.0H917.0zM919.0 518.4H920.0V610.4H919.0zM920.0 518.4H921.0V605.8H920.0zM920.0 697.8H921.0V707.0H920.0zM921.0 702.4H922.0V707.0H921.0zM921.0 518.4H922.0V610.4H921.0zM916.0 720.8H924.0V799.0H916.0zM922.0 697.8H924.0V707.0H922.0zM922.0 573.6H924.0V610.4H922.0zM922.0 518.4H925.0V550.6H922.0zM924.0 573.6H925.0V592.0H924.0zM924.0 697.8H925.0V799.0H924.0zM924.0 605.8H925.0V610.4H924.0zM925.0 702.4H926.0V799.0H925.0zM925.0 518.4H927.0V592.0H925.0zM926.0 697.8H927.0V707.0H926.0zM926.0 720.8H928.0V799.0H926.0zM926.0 605.8H928.0V610.4H926.0zM927.0 546.0H928.0V592.0H927.0zM927.0 702.4H928.0V707.0H927.0zM927.0 518.4H928.0V536.8H927.0zM928.0 697.8H930.0V799.0H928.0zM928.0 573.6H930.0V592.0H928.0zM930.0 573.6H931.0V610.4H930.0zM930.0 702.4H932.0V799.0H930.0zM928.0 518.4H933.0V550.6H928.0zM931.0 573.6H933.0V592.0H931.0zM931.0 605.8H933.0V610.4H931.0zM932.0 720.8H933.0V799.0H932.0zM932.0 702.4H933.0V707.0H932.0zM933.0 702.4H934.0V799.0H933.0zM933.0 518.4H934.0V610.4H933.0zM934.0 697.8H935.0V799.0H934.0zM909.0 481.6H936.0V500.0H909.0zM934.0 573.6H936.0V605.8H934.0zM934.0 518.4H936.0V550.6H934.0zM935.0 720.8H937.0V799.0H935.0zM935.0 697.8H937.0V707.0H935.0zM936.0 481.6H937.0V504.6H936.0zM936.0 518.4H938.0V610.4H936.0zM937.0 702.4H938.0V799.0H937.0zM938.0 573.6H939.0V610.4H938.0zM938.0 518.4H939.0V550.6H938.0zM939.0 518.4H940.0V592.0H939.0zM939.0 605.8H940.0V610.4H939.0zM940.0 518.4H941.0V550.6H940.0zM940.0 573.6H941.0V592.0H940.0zM938.0 697.8H942.0V799.0H938.0zM941.0 518.4H942.0V592.0H941.0zM941.0 605.8H942.0V610.4H941.0zM942.0 720.8H943.0V799.0H942.0zM942.0 518.4H943.0V605.8H942.0zM942.0 697.8H943.0V707.0H942.0zM937.0 481.6H944.0V500.0H937.0zM943.0 573.6H944.0V592.0H943.0zM943.0 697.8H944.0V799.0H943.0zM943.0 518.4H945.0V550.6H943.0zM944.0 481.6H945.0V504.6H944.0zM944.0 578.2H945.0V592.0H944.0zM944.0 702.4H945.0V799.0H944.0zM943.0 605.8H946.0V610.4H943.0zM945.0 518.4H946.0V592.0H945.0zM945.0 697.8H947.0V799.0H945.0zM946.0 518.4H947.0V610.4H946.0zM947.0 518.4H948.0V605.8H947.0zM947.0 702.4H949.0V799.0H947.0zM948.0 573.6H949.0V605.8H948.0zM948.0 518.4H950.0V550.6H948.0zM949.0 697.8H950.0V707.0H949.0zM949.0 573.6H950.0V610.4H949.0zM949.0 720.8H951.0V799.0H949.0zM950.0 702.4H951.0V707.0H950.0zM950.0 546.0H951.0V550.6H950.0zM950.0 518.4H951.0V536.8H950.0zM950.0 573.6H952.0V592.0H950.0zM951.0 697.8H952.0V799.0H951.0zM951.0 605.8H952.0V610.4H951.0zM951.0 518.4H953.0V550.6H951.0zM952.0 573.6H953.0V610.4H952.0zM952.0 702.4H953.0V799.0H952.0zM953.0 518.4H954.0V536.8H953.0zM953.0 546.0H954.0V605.8H953.0zM953.0 720.8H955.0V799.0H953.0zM953.0 702.4H955.0V707.0H953.0zM954.0 573.6H956.0V610.4H954.0zM955.0 702.4H956.0V799.0H955.0zM954.0 518.4H957.0V550.6H954.0zM956.0 573.6H957.0V605.8H956.0zM956.0 720.8H957.0V799.0H956.0zM956.0 702.4H957.0V707.0H956.0zM957.0 702.4H958.0V799.0H957.0zM957.0 518.4H959.0V610.4H957.0zM958.0 697.8H959.0V707.0H958.0zM958.0 720.8H960.0V799.0H958.0zM959.0 702.4H960.0V707.0H959.0zM959.0 573.6H961.0V610.4H959.0zM959.0 518.4H961.0V550.6H959.0zM945.0 481.6H962.0V500.0H945.0zM960.0 697.8H962.0V799.0H960.0zM961.0 518.4H962.0V610.4H961.0zM962.0 573.6H963.0V592.0H962.0zM962.0 546.0H963.0V550.6H962.0zM962.0 518.4H963.0V536.8H962.0zM962.0 697.8H963.0V707.0H962.0zM962.0 605.8H963.0V610.4H962.0zM962.0 481.6H964.0V504.6H962.0zM963.0 573.6H964.0V605.8H963.0zM963.0 702.4H964.0V707.0H963.0zM962.0 720.8H965.0V799.0H962.0zM963.0 518.4H965.0V550.6H963.0zM964.0 697.8H965.0V707.0H964.0zM964.0 573.6H965.0V610.4H964.0zM965.0 697.8H966.0V799.0H965.0zM965.0 518.4H966.0V610.4H965.0zM966.0 720.8H967.0V799.0H966.0zM966.0 702.4H967.0V707.0H966.0zM966.0 573.6H967.0V610.4H966.0zM966.0 518.4H967.0V550.6H966.0zM964.0 481.6H968.0V500.0H964.0zM967.0 697.8H968.0V799.0H967.0zM967.0 518.4H968.0V610.4H967.0z"/>
<path fill="#b4b400" d="M578.0 789.8H580.0V794.4H578.0zM578.0 638.0H580.0V642.6H578.0zM858.0 642.6H860.0V647.2H858.0zM862.0 642.6H865.0V647.2H862.0zM864.0 500.0H869.0V504.6H864.0zM870.0 500.0H872.0V504.6H870.0zM874.0 500.0H875.0V504.6H874.0zM879.0 500.0H880.0V504.6H879.0zM875.0 642.6H881.0V647.2H875.0zM883.0 500.0H884.0V504.6H883.0zM882.0 642.6H888.0V647.2H882.0zM885.0 500.0H888.0V504.6H885.0zM891.0 500.0H893.0V504.6H891.0zM893.0 642.6H896.0V647.2H893.0zM895.0 500.0H900.0V504.6H895.0zM898.0 642.6H904.0V647.2H898.0zM902.0 500.0H905.0V504.6H902.0zM909.0 500.0H914.0V504.6H909.0zM915.0 642.6H917.0V647.2H915.0zM917.0 500.0H918.0V504.6H917.0zM919.0 642.6H922.0V647.2H919.0zM921.0 500.0H924.0V504.6H921.0zM924.0 642.6H926.0V647.2H924.0zM929.0 500.0H930.0V504.6H929.0zM931.0 500.0H932.0V504.6H931.0zM936.0 642.6H938.0V647.2H936.0zM939.0 642.6H941.0V647.2H939.0zM938.0 500.0H943.0V504.6H938.0zM943.0 642.6H944.0V647.2H943.0zM945.0 500.0H946.0V504.6H945.0zM950.0 642.6H952.0V647.2H950.0zM956.0 500.0H957.0V504.6H956.0zM953.0 642.6H958.0V647.2H953.0zM960.0 500.0H961.0V504.6H960.0zM964.0 500.0H966.0V504.6H964.0zM960.0 642.6H967.0V647.2H960.0z"/>
<path fill="#e882e8" d="M546.0 513.8H548.0V532.2H546.0zM546.0 610.4H548.0V674.8H546.0zM546.0 702.4H550.0V753.0H546.0zM546.0 555.2H551.0V605.8H546.0zM551.0 555.2H552.0V596.6H551.0zM552.0 555.2H553.0V592.0H552.0zM550.0 702.4H554.0V748.4H550.0zM554.0 716.2H555.0V748.4H554.0zM555.0 702.4H557.0V748.4H555.0zM557.0 702.4H559.0V743.8H557.0zM559.0 702.4H561.0V748.4H559.0zM561.0 702.4H562.0V743.8H561.0zM562.0 716.2H564.0V748.4H562.0zM564.0 734.6H565.0V743.8H564.0zM553.0 555.2H566.0V605.8H553.0zM565.0 716.2H568.0V748.4H565.0zM568.0 716.2H569.0V734.6H568.0zM569.0 716.2H570.0V748.4H569.0zM566.0 555.2H572.0V592.0H566.0zM570.0 716.2H572.0V743.8H570.0zM572.0 716.2H573.0V720.8H572.0zM572.0 734.6H573.0V748.4H572.0zM572.0 555.2H573.0V582.8H572.0zM573.0 555.2H574.0V592.0H573.0zM574.0 555.2H575.0V582.8H574.0zM575.0 555.2H576.0V587.4H575.0zM573.0 716.2H577.0V748.4H573.0zM577.0 716.2H578.0V730.0H577.0zM576.0 555.2H579.0V582.8H576.0zM578.0 734.6H579.0V748.4H578.0zM579.0 716.2H584.0V748.4H579.0zM584.0 716.2H585.0V743.8H584.0zM585.0 716.2H586.0V748.4H585.0zM581.0 555.2H587.0V582.8H581.0zM586.0 702.4H587.0V748.4H586.0zM587.0 716.2H589.0V748.4H587.0zM589.0 702.4H590.0V748.4H589.0zM590.0 716.2H593.0V748.4H590.0zM591.0 555.2H593.0V582.8H591.0zM593.0 702.4H594.0V743.8H593.0zM594.0 716.2H598.0V748.4H594.0zM598.0 702.4H599.0V743.8H598.0zM599.0 555.2H600.0V573.6H599.0zM600.0 555.2H602.0V582.8H600.0zM602.0 564.4H603.0V582.8H602.0zM599.0 716.2H606.0V748.4H599.0zM606.0 716.2H607.0V743.8H606.0zM607.0 716.2H613.0V748.4H607.0zM613.0 716.2H614.0V743.8H613.0zM622.0 555.2H623.0V587.4H622.0zM614.0 716.2H626.0V748.4H614.0zM626.0 716.2H627.0V720.8H626.0zM627.0 716.2H628.0V748.4H627.0zM628.0 716.2H629.0V720.8H628.0zM629.0 716.2H631.0V748.4H629.0zM631.0 716.2H632.0V720.8H631.0zM632.0 716.2H635.0V748.4H632.0zM634.0 555.2H635.0V592.0H634.0zM635.0 716.2H636.0V743.8H635.0zM636.0 716.2H648.0V748.4H636.0zM648.0 716.2H649.0V743.8H648.0zM649.0 716.2H650.0V748.4H649.0zM650.0 716.2H651.0V743.8H650.0zM651.0 716.2H653.0V748.4H651.0zM653.0 702.4H654.0V743.8H653.0zM654.0 702.4H656.0V748.4H654.0zM656.0 725.4H657.0V743.8H656.0zM657.0 702.4H658.0V748.4H657.0zM658.0 734.6H659.0V748.4H658.0zM659.0 702.4H674.0V748.4H659.0zM674.0 716.2H675.0V743.8H674.0zM675.0 702.4H677.0V748.4H675.0zM677.0 734.6H678.0V748.4H677.0zM678.0 702.4H681.0V748.4H678.0zM681.0 725.4H682.0V748.4H681.0zM682.0 702.4H688.0V748.4H682.0zM688.0 702.4H689.0V730.0H688.0zM688.0 734.6H689.0V748.4H688.0zM689.0 716.2H690.0V748.4H689.0zM690.0 702.4H694.0V748.4H690.0zM694.0 743.8H695.0V748.4H694.0zM694.0 702.4H695.0V725.4H694.0zM695.0 702.4H697.0V748.4H695.0zM697.0 716.2H698.0V748.4H697.0zM698.0 702.4H701.0V748.4H698.0zM701.0 716.2H702.0V748.4H701.0zM702.0 702.4H703.0V743.8H702.0zM703.0 702.4H705.0V748.4H703.0zM705.0 725.4H706.0V748.4H705.0zM706.0 702.4H707.0V748.4H706.0zM707.0 734.6H708.0V748.4H707.0zM708.0 734.6H709.0V743.8H708.0zM709.0 702.4H717.0V748.4H709.0zM717.0 702.4H718.0V743.8H717.0zM718.0 734.6H719.0V748.4H718.0zM719.0 716.2H720.0V748.4H719.0zM720.0 702.4H724.0V748.4H720.0zM724.0 702.4H725.0V743.8H724.0zM725.0 716.2H726.0V748.4H725.0zM726.0 702.4H734.0V748.4H726.0zM734.0 743.8H735.0V748.4H734.0zM734.0 702.4H735.0V725.4H734.0zM735.0 702.4H738.0V743.8H735.0zM738.0 702.4H740.0V748.4H738.0zM740.0 702.4H741.0V743.8H740.0zM741.0 743.8H742.0V748.4H741.0zM741.0 550.6H742.0V559.8H741.0zM742.0 702.4H743.0V707.0H742.0zM742.0 725.4H743.0V748.4H742.0zM743.0 734.6H744.0V748.4H743.0zM744.0 725.4H745.0V748.4H744.0zM745.0 702.4H746.0V748.4H745.0zM746.0 734.6H747.0V748.4H746.0zM746.0 555.2H747.0V582.8H746.0zM747.0 702.4H748.0V748.4H747.0zM748.0 743.8H749.0V748.4H748.0zM749.0 702.4H751.0V748.4H749.0zM751.0 725.4H752.0V748.4H751.0zM752.0 555.2H753.0V582.8H752.0zM752.0 702.4H754.0V748.4H752.0zM754.0 702.4H755.0V725.4H754.0zM754.0 743.8H756.0V748.4H754.0zM756.0 702.4H757.0V743.8H756.0zM757.0 716.2H758.0V748.4H757.0zM758.0 734.6H759.0V748.4H758.0zM759.0 743.8H760.0V748.4H759.0zM759.0 702.4H760.0V725.4H759.0zM759.0 550.6H760.0V573.6H759.0zM760.0 702.4H761.0V748.4H760.0zM761.0 716.2H762.0V748.4H761.0zM762.0 702.4H763.0V743.8H762.0zM762.0 550.6H763.0V573.6H762.0zM763.0 702.4H765.0V748.4H763.0zM765.0 702.4H766.0V743.8H765.0zM766.0 550.6H767.0V573.6H766.0zM766.0 702.4H768.0V748.4H766.0zM768.0 702.4H769.0V707.0H768.0zM768.0 725.4H769.0V748.4H768.0zM769.0 734.6H770.0V748.4H769.0zM770.0 702.4H771.0V748.4H770.0zM771.0 734.6H772.0V748.4H771.0zM772.0 743.8H773.0V748.4H772.0zM772.0 550.6H774.0V573.6H772.0zM773.0 702.4H775.0V748.4H773.0zM775.0 702.4H776.0V743.8H775.0zM776.0 702.4H777.0V748.4H776.0zM777.0 734.6H778.0V748.4H777.0zM777.0 550.6H780.0V573.6H777.0zM778.0 702.4H780.0V748.4H778.0zM780.0 725.4H781.0V748.4H780.0zM781.0 550.6H783.0V573.6H781.0zM781.0 702.4H785.0V743.8H781.0zM785.0 702.4H786.0V725.4H785.0zM786.0 702.4H787.0V743.8H786.0zM786.0 550.6H787.0V573.6H786.0zM787.0 716.2H788.0V743.8H787.0zM788.0 734.6H789.0V743.8H788.0zM788.0 550.6H791.0V573.6H788.0zM789.0 702.4H797.0V743.8H789.0zM797.0 725.4H798.0V743.8H797.0zM793.0 550.6H801.0V573.6H793.0zM798.0 702.4H805.0V743.8H798.0zM805.0 725.4H806.0V743.8H805.0zM805.0 550.6H809.0V573.6H805.0zM806.0 702.4H809.0V743.8H806.0zM809.0 702.4H811.0V748.4H809.0zM811.0 725.4H812.0V748.4H811.0zM810.0 550.6H814.0V573.6H810.0zM812.0 702.4H815.0V725.4H812.0zM815.0 702.4H816.0V707.0H815.0zM815.0 550.6H818.0V573.6H815.0zM816.0 702.4H821.0V725.4H816.0zM819.0 550.6H827.0V573.6H819.0zM822.0 702.4H827.0V725.4H822.0zM827.0 716.2H828.0V725.4H827.0zM829.0 550.6H831.0V573.6H829.0zM829.0 702.4H834.0V725.4H829.0zM835.0 702.4H836.0V725.4H835.0zM834.0 550.6H839.0V573.6H834.0zM837.0 702.4H839.0V725.4H837.0zM842.0 550.6H843.0V573.6H842.0zM844.0 550.6H846.0V573.6H844.0zM848.0 550.6H850.0V573.6H848.0zM850.0 720.8H851.0V743.8H850.0zM851.0 550.6H852.0V573.6H851.0zM852.0 739.2H853.0V743.8H852.0zM854.0 739.2H856.0V743.8H854.0zM855.0 550.6H857.0V573.6H855.0zM856.0 720.8H857.0V743.8H856.0zM857.0 587.4H858.0V610.4H857.0zM857.0 739.2H858.0V743.8H857.0zM860.0 739.2H861.0V743.8H860.0zM858.0 550.6H864.0V573.6H858.0zM863.0 739.2H864.0V743.8H863.0zM865.0 550.6H867.0V573.6H865.0zM866.0 720.8H867.0V743.8H866.0zM870.0 550.6H873.0V573.6H870.0zM874.0 550.6H876.0V573.6H874.0zM882.0 550.6H883.0V559.8H882.0zM883.0 550.6H889.0V573.6H883.0zM890.0 550.6H891.0V573.6H890.0zM891.0 702.4H893.0V720.8H891.0zM895.0 702.4H898.0V725.4H895.0zM895.0 550.6H900.0V573.6H895.0zM901.0 550.6H902.0V573.6H901.0zM899.0 702.4H904.0V725.4H899.0zM906.0 702.4H907.0V725.4H906.0zM908.0 702.4H911.0V725.4H908.0zM908.0 550.6H911.0V573.6H908.0zM912.0 702.4H914.0V725.4H912.0zM914.0 550.6H916.0V573.6H914.0zM922.0 550.6H925.0V573.6H922.0zM928.0 550.6H933.0V573.6H928.0zM934.0 550.6H936.0V573.6H934.0zM938.0 550.6H939.0V573.6H938.0zM940.0 550.6H941.0V573.6H940.0zM943.0 550.6H944.0V573.6H943.0zM944.0 550.6H945.0V559.8H944.0zM948.0 550.6H953.0V573.6H948.0zM954.0 550.6H957.0V573.6H954.0zM959.0 550.6H961.0V573.6H959.0zM962.0 550.6H965.0V573.6H962.0zM966.0 550.6H967.0V573.6H966.0z"/>
<path fill="#0a0aff" d="M548.0 638.0H550.0V647.2H548.0zM550.0 642.6H554.0V656.4H550.0zM546.0 500.0H557.0V513.8H546.0zM560.0 500.0H561.0V513.8H560.0zM568.0 734.6H569.0V748.4H568.0zM572.0 720.8H573.0V734.6H572.0zM572.0 592.0H577.0V605.8H572.0zM578.0 592.0H581.0V605.8H578.0zM584.0 757.6H585.0V776.0H584.0zM586.0 592.0H587.0V605.8H586.0zM587.0 555.2H588.0V582.8H587.0zM589.0 564.4H590.0V592.0H589.0zM593.0 592.0H594.0V605.8H593.0zM594.0 573.6H599.0V592.0H594.0zM604.0 559.8H606.0V573.6H604.0zM606.0 592.0H607.0V605.8H606.0zM607.0 559.8H609.0V573.6H607.0zM608.0 592.0H609.0V605.8H608.0zM610.0 559.8H612.0V573.6H610.0zM612.0 592.0H613.0V605.8H612.0zM615.0 592.0H616.0V605.8H615.0zM613.0 559.8H622.0V573.6H613.0zM622.0 592.0H623.0V605.8H622.0zM626.0 720.8H627.0V748.4H626.0zM628.0 720.8H629.0V748.4H628.0zM628.0 592.0H629.0V605.8H628.0zM630.0 592.0H631.0V605.8H630.0zM631.0 720.8H632.0V748.4H631.0zM632.0 592.0H633.0V605.8H632.0zM623.0 559.8H634.0V573.6H623.0zM635.0 559.8H640.0V573.6H635.0zM641.0 592.0H643.0V605.8H641.0zM641.0 559.8H645.0V573.6H641.0zM644.0 592.0H646.0V605.8H644.0zM650.0 592.0H652.0V605.8H650.0zM646.0 559.8H653.0V573.6H646.0zM654.0 559.8H669.0V573.6H654.0zM670.0 559.8H673.0V573.6H670.0zM694.0 725.4H695.0V743.8H694.0zM701.0 555.2H703.0V573.6H701.0zM705.0 555.2H706.0V573.6H705.0zM708.0 555.2H711.0V573.6H708.0zM711.0 592.0H712.0V605.8H711.0zM714.0 592.0H715.0V605.8H714.0zM724.0 592.0H725.0V605.8H724.0zM730.0 582.8H731.0V605.8H730.0zM733.0 582.8H734.0V605.8H733.0zM734.0 725.4H735.0V743.8H734.0zM738.0 592.0H739.0V605.8H738.0zM742.0 707.0H743.0V725.4H742.0zM747.0 592.0H748.0V605.8H747.0zM754.0 725.4H755.0V743.8H754.0zM757.0 592.0H759.0V605.8H757.0zM759.0 725.4H760.0V743.8H759.0zM761.0 592.0H762.0V605.8H761.0zM764.0 592.0H767.0V605.8H764.0zM767.0 559.8H768.0V573.6H767.0zM768.0 707.0H769.0V725.4H768.0zM780.0 592.0H784.0V605.8H780.0zM785.0 725.4H786.0V743.8H785.0zM785.0 592.0H786.0V605.8H785.0zM788.0 592.0H789.0V605.8H788.0zM793.0 592.0H794.0V605.8H793.0zM796.0 592.0H801.0V605.8H796.0zM812.0 592.0H813.0V605.8H812.0zM815.0 707.0H816.0V725.4H815.0zM816.0 592.0H818.0V605.8H816.0zM820.0 592.0H821.0V605.8H820.0zM831.0 592.0H832.0V605.8H831.0zM852.0 720.8H856.0V739.2H852.0zM857.0 720.8H859.0V739.2H857.0zM860.0 720.8H862.0V739.2H860.0zM863.0 720.8H864.0V739.2H863.0zM874.0 720.8H881.0V739.2H874.0zM882.0 559.8H883.0V573.6H882.0zM883.0 720.8H886.0V739.2H883.0zM888.0 720.8H889.0V739.2H888.0zM891.0 720.8H894.0V739.2H891.0zM898.0 720.8H899.0V739.2H898.0zM896.0 592.0H903.0V605.8H896.0zM904.0 720.8H905.0V739.2H904.0zM915.0 592.0H916.0V605.8H915.0zM916.0 707.0H924.0V720.8H916.0zM926.0 707.0H928.0V720.8H926.0zM924.0 592.0H930.0V605.8H924.0zM931.0 592.0H933.0V605.8H931.0zM932.0 707.0H933.0V720.8H932.0zM935.0 707.0H937.0V720.8H935.0zM939.0 592.0H942.0V605.8H939.0zM942.0 707.0H943.0V720.8H942.0zM943.0 592.0H946.0V605.8H943.0zM949.0 707.0H951.0V720.8H949.0zM950.0 592.0H952.0V605.8H950.0zM953.0 707.0H955.0V720.8H953.0zM956.0 707.0H957.0V720.8H956.0zM958.0 707.0H960.0V720.8H958.0zM962.0 592.0H963.0V605.8H962.0zM962.0 707.0H965.0V720.8H962.0zM966.0 707.0H967.0V720.8H966.0z"/>
<path fill="#e01010" d="M715.0 559.8H719.0V582.8H715.0zM720.0 559.8H735.0V582.8H720.0zM737.0 559.8H742.0V582.8H737.0zM743.0 559.8H744.0V582.8H743.0zM745.0 559.8H746.0V582.8H745.0zM747.0 559.8H748.0V582.8H747.0zM749.0 559.8H752.0V582.8H749.0zM753.0 559.8H757.0V582.8H753.0z"/>
<path fill="#a04040" d="M780.0 559.8H781.0V578.2H780.0zM944.0 559.8H945.0V578.2H944.0z"/>
</g>
<text transform="translate(57.3 31.0) scale(1.125 1)" class="lab">6 PRO X</text>
<text transform="translate(57.3 44.7) scale(1.125 1)" class="lab">9 PRO X</text>
<text transform="translate(57.3 58.5) scale(1.125 1)" class="lab">12 SER X</text>
<text transform="translate(57.3 72.2) scale(1.125 1)" class="lab">15 LEU X</text>
<text transform="translate(57.3 86.0) scale(1.125 1)" class="lab">18 LEU X</text>
<text transform="translate(57.3 99.7) scale(1.125 1)" class="lab">21 SER X</text>
<text transform="translate(57.3 113.4) scale(1.125 1)" class="lab">24 THR X</text>
<text transform="translate(57.3 127.2) scale(1.125 1)" class="lab">27 ASP X</text>
<text transform="translate(57.3 140.9) scale(1.125 1)" class="lab">30 ALA X</text>
<text transform="translate(57.3 154.7) scale(1.125 1)" class="lab">33 GLY X</text>
<text transform="translate(57.3 168.4) scale(1.125 1)" class="lab">36 GLY X</text>
<text transform="translate(57.3 182.1) scale(1.125 1)" class="lab">39 GLU X</text>
<text transform="translate(57.3 195.9) scale(1.125 1)" class="lab">42 VAL X</text>
<text transform="translate(57.3 209.6) scale(1.125 1)" class="lab">45 CYS X</text>
<text transform="translate(57.3 223.4) scale(1.125 1)" class="lab">48 LEU X</text>
<text transform="translate(57.3 237.1) scale(1.125 1)" class="lab">51 LEU X</text>
<text transform="translate(57.3 250.8) scale(1.125 1)" class="lab">54 LEU X</text>
<text transform="translate(57.3 264.6) scale(1.125 1)" class="lab">57 ASN X</text>
<text transform="translate(57.3 278.3) scale(1.125 1)" class="lab">60 LEU X</text>
<text transform="translate(57.3 292.1) scale(1.125 1)" class="lab">63 ILE X</text>
<text transform="translate(57.3 305.8) scale(1.125 1)" class="lab">66 SER X</text>
<text transform="translate(57.3 319.5) scale(1.125 1)" class="lab">69 ARG X</text>
<text transform="translate(57.3 333.3) scale(1.125 1)" class="lab">72 PRO X</text>
<text transform="translate(57.3 347.0) scale(1.125 1)" class="lab">75 ALA X</text>
<text transform="translate(57.3 360.8) scale(1.125 1)" class="lab">78 PRO X</text>
<text transform="translate(542.4 42.8) scale(1.069 1)" class="lab">6 PRO X</text>
<text transform="translate(542.4 56.0) scale(1.069 1)" class="lab">9 PRO X</text>
<text transform="translate(542.4 69.3) scale(1.069 1)" class="lab">12 SER X</text>
<text transform="translate(542.4 82.5) scale(1.069 1)" class="lab">15 LEU X</text>
<text transform="translate(542.4 95.7) scale(1.069 1)" class="lab">18 LEU X</text>
<text transform="translate(542.4 109.0) scale(1.069 1)" class="lab">21 SER X</text>
<text transform="translate(542.4 122.2) scale(1.069 1)" class="lab">24 THR X</text>
<text transform="translate(542.4 135.4) scale(1.069 1)" class="lab">27 ASP X</text>
<text transform="translate(542.4 148.6) scale(1.069 1)" class="lab">30 ALA X</text>
<text transform="translate(542.4 161.9) scale(1.069 1)" class="lab">33 GLY X</text>
<text transform="translate(542.4 175.1) scale(1.069 1)" class="lab">36 GLY X</text>
<text transform="translate(542.4 188.3) scale(1.069 1)" class="lab">39 GLU X</text>
<text transform="translate(542.4 201.6) scale(1.069 1)" class="lab">42 VAL X</text>
<text transform="translate(542.4 214.8) scale(1.069 1)" class="lab">45 CYS X</text>
<text transform="translate(542.4 228.0) scale(1.069 1)" class="lab">48 LEU X</text>
<text transform="translate(542.4 241.3) scale(1.069 1)" class="lab">51 LEU X</text>
<text transform="translate(542.4 254.5) scale(1.069 1)" class="lab">54 LEU X</text>
<text transform="translate(542.4 267.7) scale(1.069 1)" class="lab">57 ASN X</text>
<text transform="translate(542.4 280.9) scale(1.069 1)" class="lab">60 LEU X</text>
<text transform="translate(542.4 294.2) scale(1.069 1)" class="lab">63 ILE X</text>
<text transform="translate(542.4 307.4) scale(1.069 1)" class="lab">66 SER X</text>
<text transform="translate(542.4 320.6) scale(1.069 1)" class="lab">69 ARG X</text>
<text transform="translate(542.4 333.9) scale(1.069 1)" class="lab">72 PRO X</text>
<text transform="translate(542.4 347.1) scale(1.069 1)" class="lab">75 ALA X</text>
<text transform="translate(542.4 360.3) scale(1.069 1)" class="lab">78 PRO X</text>
<text transform="translate(54.3 476.2) scale(1.125 1)" class="lab">6 PRO X</text>
<text transform="translate(54.3 490.0) scale(1.125 1)" class="lab">9 PRO X</text>
<text transform="translate(54.3 503.7) scale(1.125 1)" class="lab">12 SER X</text>
<text transform="translate(54.3 517.5) scale(1.125 1)" class="lab">15 LEU X</text>
<text transform="translate(54.3 531.2) scale(1.125 1)" class="lab">18 LEU X</text>
<text transform="translate(54.3 545.0) scale(1.125 1)" class="lab">21 SER X</text>
<text transform="translate(54.3 558.8) scale(1.125 1)" class="lab">24 THR X</text>
<text transform="translate(54.3 572.5) scale(1.125 1)" class="lab">27 ASP X</text>
<text transform="translate(54.3 586.3) scale(1.125 1)" class="lab">30 ALA X</text>
<text transform="translate(54.3 600.1) scale(1.125 1)" class="lab">33 GLY X</text>
<text transform="translate(54.3 613.8) scale(1.125 1)" class="lab">36 GLY X</text>
<text transform="translate(54.3 627.6) scale(1.125 1)" class="lab">39 GLU X</text>
<text transform="translate(54.3 641.4) scale(1.125 1)" class="lab">42 VAL X</text>
<text transform="translate(54.3 655.1) scale(1.125 1)" class="lab">45 CYS X</text>
<text transform="translate(54.3 668.9) scale(1.125 1)" class="lab">48 LEU X</text>
<text transform="translate(54.3 682.7) scale(1.125 1)" class="lab">51 LEU X</text>
<text transform="translate(54.3 696.4) scale(1.125 1)" class="lab">54 LEU X</text>
<text transform="translate(54.3 710.2) scale(1.125 1)" class="lab">57 ASN X</text>
<text transform="translate(54.3 723.9) scale(1.125 1)" class="lab">60 LEU X</text>
<text transform="translate(54.3 737.7) scale(1.125 1)" class="lab">63 ILE X</text>
<text transform="translate(54.3 751.5) scale(1.125 1)" class="lab">66 SER X</text>
<text transform="translate(54.3 765.2) scale(1.125 1)" class="lab">69 ARG X</text>
<text transform="translate(54.3 779.0) scale(1.125 1)" class="lab">72 PRO X</text>
<text transform="translate(54.3 792.8) scale(1.125 1)" class="lab">75 ALA X</text>
<text transform="translate(54.3 806.5) scale(1.125 1)" class="lab">78 PRO X</text>
<text transform="translate(540.3 476.6) scale(1.125 1)" class="lab">6 PRO X</text>
<text transform="translate(540.3 490.4) scale(1.125 1)" class="lab">9 PRO X</text>
<text transform="translate(540.3 504.2) scale(1.125 1)" class="lab">12 SER X</text>
<text transform="translate(540.3 518.0) scale(1.125 1)" class="lab">15 LEU X</text>
<text transform="translate(540.3 531.8) scale(1.125 1)" class="lab">18 LEU X</text>
<text transform="translate(540.3 545.6) scale(1.125 1)" class="lab">21 SER X</text>
<text transform="translate(540.3 559.4) scale(1.125 1)" class="lab">24 THR X</text>
<text transform="translate(540.3 573.2) scale(1.125 1)" class="lab">27 ASP X</text>
<text transform="translate(540.3 587.0) scale(1.125 1)" class="lab">30 ALA X</text>
<text transform="translate(540.3 600.8) scale(1.125 1)" class="lab">33 GLY X</text>
<text transform="translate(540.3 614.6) scale(1.125 1)" class="lab">36 GLY X</text>
<text transform="translate(540.3 628.4) scale(1.125 1)" class="lab">39 GLU X</text>
<text transform="translate(540.3 642.2) scale(1.125 1)" class="lab">42 VAL X</text>
<text transform="translate(540.3 656.0) scale(1.125 1)" class="lab">45 CYS X</text>
<text transform="translate(540.3 669.8) scale(1.125 1)" class="lab">48 LEU X</text>
<text transform="translate(540.3 683.6) scale(1.125 1)" class="lab">51 LEU X</text>
<text transform="translate(540.3 697.4) scale(1.125 1)" class="lab">54 LEU X</text>
<text transform="translate(540.3 711.2) scale(1.125 1)" class="lab">57 ASN X</text>
<text transform="translate(540.3 725.0) scale(1.125 1)" class="lab">60 LEU X</text>
<text transform="translate(540.3 738.8) scale(1.125 1)" class="lab">63 ILE X</text>
<text transform="translate(540.3 752.6) scale(1.125 1)" class="lab">66 SER X</text>
<text transform="translate(540.3 766.4) scale(1.125 1)" class="lab">69 ARG X</text>
<text transform="translate(540.3 780.2) scale(1.125 1)" class="lab">72 PRO X</text>
<text transform="translate(540.3 794.0) scale(1.125 1)" class="lab">75 ALA X</text>
<text transform="translate(540.3 807.8) scale(1.125 1)" class="lab">78 PRO X</text>
<text x="64.0" y="391.1" class="tick">0</text>
<text x="71.6" y="391.1" class="tick">9</text>
<text x="80.8" y="391.1" class="tick">20</text>
<text x="92.5" y="391.1" class="tick">34</text>
<text x="104.2" y="391.1" class="tick">48</text>
<text x="115.9" y="391.1" class="tick">62</text>
<text x="127.5" y="391.1" class="tick">76</text>
<text x="139.2" y="391.1" class="tick">90</text>
<text x="153.4" y="391.1" class="tick">107</text>
<text x="169.3" y="391.1" class="tick">126</text>
<text x="185.2" y="391.1" class="tick">145</text>
<text x="201.1" y="391.1" class="tick">164</text>
<text x="216.9" y="391.1" class="tick">183</text>
<text x="232.8" y="391.1" class="tick">202</text>
<text x="248.7" y="391.1" class="tick">221</text>
<text x="264.6" y="391.1" class="tick">240</text>
<text x="280.4" y="391.1" class="tick">259</text>
<text x="296.3" y="391.1" class="tick">278</text>
<text x="312.2" y="391.1" class="tick">297</text>
<text x="328.1" y="391.1" class="tick">316</text>
<text x="343.9" y="391.1" class="tick">335</text>
<text x="360.6" y="391.1" class="tick">355</text>
<text x="376.5" y="391.1" class="tick">374</text>
<text x="392.4" y="391.1" class="tick">393</text>
<text x="408.3" y="391.1" class="tick">412</text>
<text x="424.1" y="391.1" class="tick">431</text>
<text x="440.0" y="391.1" class="tick">450</text>
<text x="481.8" y="391.1" class="tick">500</text>
<text x="272.5" y="401.7" class="fn">(frame number)</text>
<path fill="#000" d="M63.0 429.5V415.3h1.68V412.5h1.68V412.3h1.68V419.2h1.68V415.0h1.68V417.7h1.68V418.2h1.68V416.1h1.68V421.8h1.68V416.7h1.68V420.2h1.68V418.9h1.68V419.1h1.68V416.6h1.68V422.3h1.68V413.8h1.68V414.7h1.68V416.4h1.68V415.9h1.68V414.0h1.68V417.2h1.68V419.8h1.68V422.6h1.68V418.8h1.68V420.0h1.68V422.0h1.68V417.8h1.68V418.8h1.68V420.5h1.68V418.6h1.68V412.3h1.68V416.5h1.68V418.3h1.68V424.3h1.68V417.6h1.68V419.2h1.68V414.0h1.68V419.4h1.68V415.8h1.68V418.0h1.68V414.6h1.68V416.5h1.68V422.2h1.68V415.8h1.68V416.0h1.68V419.7h1.68V421.4h1.68V423.2h1.68V414.5h1.68V423.2h1.68V416.1h1.68V419.5h1.68V414.6h1.68V418.2h1.68V416.8h1.68V421.4h1.68V420.8h1.68V413.3h1.68V414.3h1.68V419.5h1.68V417.6h1.68V420.5h1.68V413.8h1.68V415.0h1.68V414.3h1.68V418.5h1.68V420.5h1.68V414.7h1.68V414.8h1.68V417.9h1.68V421.0h1.68V414.3h1.68V415.9h1.68V415.0h1.68V414.2h1.68V416.0h1.68V418.9h1.68V415.5h1.68V414.9h1.68V416.7h1.68V419.6h1.68V418.9h1.68V416.9h1.68V415.6h1.68V417.5h1.68V414.5h1.68V415.5h1.68V414.6h1.68V410.9h1.68V415.5h1.68V415.8h1.68V416.0h1.68V414.0h1.68V417.9h1.68V414.4h1.68V416.0h1.68V413.7h1.68V414.3h1.68V421.8h1.68V417.7h1.68V418.4h1.68V421.7h1.68V420.2h1.68V423.0h1.68V422.5h1.68V424.1h1.68V420.4h1.68V417.4h1.68V416.2h1.68V421.9h1.68V421.4h1.68V418.8h1.68V423.9h1.68V421.7h1.68V419.2h1.68V414.0h1.68V416.5h1.68V414.0h1.68V419.7h1.68V416.3h1.68V411.3h1.68V416.7h1.68V418.3h1.68V417.5h1.68V420.0h1.68V413.8h1.68V418.4h1.68V420.8h1.68V417.0h1.68V411.3h1.68V417.3h1.68V414.0h1.68V417.5h1.68V414.4h1.68V417.1h1.68V418.3h1.68V420.4h1.68V414.4h1.68V419.5h1.68V416.7h1.68V419.5h1.68V421.4h1.68V417.4h1.68V416.3h1.68V415.3h1.68V418.5h1.68V416.7h1.68V417.4h1.68V417.7h1.68V419.1h1.68V415.9h1.68V421.4h1.68V415.8h1.68V416.0h1.68V417.4h1.68V418.5h1.68V416.4h1.68V414.5h1.68V419.1h1.68V418.5h1.68V415.4h1.68V417.5h1.68V418.5h1.68V416.8h1.68V419.0h1.68V416.7h1.68V418.7h1.68V418.6h1.68V420.3h1.68V416.3h1.68V415.5h1.68V417.9h1.68V412.5h1.68V419.3h1.68V417.1h1.68V412.0h1.68V418.2h1.68V414.3h1.68V418.6h1.68V421.7h1.68V421.3h1.68V420.7h1.68V424.4h1.68V417.3h1.68V419.4h1.68V418.9h1.68V417.1h1.68V416.1h1.68V417.1h1.68V419.0h1.68V415.8h1.68V417.2h1.68V418.8h1.68V417.9h1.68V421.5h1.68V420.6h1.68V420.0h1.68V415.4h1.68V417.9h1.68V423.5h1.68V420.8h1.68V416.6h1.68V415.6h1.68V418.5h1.68V424.0h1.68V416.0h1.68V421.9h1.68V414.7h1.68V417.9h1.68V416.8h1.68V419.2h1.68V418.4h1.68V420.8h1.68V415.1h1.68V415.8h1.68V414.5h1.68V415.0h1.68V416.1h1.68V422.0h1.68V423.1h1.68V416.9h1.68V419.7h1.68V413.9h1.68V417.2h1.68V420.3h1.68V421.9h1.68V420.1h1.68V419.2h1.68V420.1h1.68V421.4h1.68V420.4h1.68V418.3h1.68V417.1h1.68V416.9h1.68V414.8h1.68V418.6h1.68V418.7h1.68V420.4h1.68V422.9h1.68V423.2h1.68V415.9h1.68V420.8h1.68V420.4h1.68V415.5h1.68V421.1h1.68V414.3h1.68V417.4h1.68V418.6h1.68V416.3h1.68V422.0h1.68V429.5z"/>
<path stroke="#5e2020" stroke-width="0.6" fill="none" d="M70.1 429.5v-13.8M91.9 429.5v-12.4M96.9 429.5v-11.7M112.0 429.5v-10.4M128.8 429.5v-11.0M137.1 429.5v-12.8M155.6 429.5v-7.7M164.0 429.5v-11.3M185.7 429.5v-13.7M192.5 429.5v-13.3M212.6 429.5v-13.3M217.6 429.5v-14.7M236.0 429.5v-6.2M249.4 429.5v-10.1M257.8 429.5v-12.3M271.2 429.5v-9.0M288.0 429.5v-11.7M303.1 429.5v-12.5M316.5 429.5v-7.7M328.2 429.5v-9.9M346.6 429.5v-12.6M351.7 429.5v-16.1M365.1 429.5v-7.8M380.2 429.5v-10.0M393.6 429.5v-13.4M413.7 429.5v-12.1M425.4 429.5v-13.8M440.5 429.5v-7.3M450.6 429.5v-10.7M460.6 429.5v-8.7M479.0 429.5v-12.6"/>
<text x="549.0" y="389.6" class="tick">0</text>
<text x="556.4" y="389.6" class="tick">9</text>
<text x="565.4" y="389.6" class="tick">20</text>
<text x="576.8" y="389.6" class="tick">34</text>
<text x="588.2" y="389.6" class="tick">48</text>
<text x="599.6" y="389.6" class="tick">62</text>
<text x="611.0" y="389.6" class="tick">76</text>
<text x="622.4" y="389.6" class="tick">90</text>
<text x="636.3" y="389.6" class="tick">107</text>
<text x="651.8" y="389.6" class="tick">126</text>
<text x="667.3" y="389.6" class="tick">145</text>
<text x="682.8" y="389.6" class="tick">164</text>
<text x="698.3" y="389.6" class="tick">183</text>
<text x="713.8" y="389.6" class="tick">202</text>
<text x="729.3" y="389.6" class="tick">221</text>
<text x="744.8" y="389.6" class="tick">240</text>
<text x="760.3" y="389.6" class="tick">259</text>
<text x="775.8" y="389.6" class="tick">278</text>
<text x="791.3" y="389.6" class="tick">297</text>
<text x="806.8" y="389.6" class="tick">316</text>
<text x="822.3" y="389.6" class="tick">335</text>
<text x="838.6" y="389.6" class="tick">355</text>
<text x="854.1" y="389.6" class="tick">374</text>
<text x="869.6" y="389.6" class="tick">393</text>
<text x="885.1" y="389.6" class="tick">412</text>
<text x="900.6" y="389.6" class="tick">431</text>
<text x="916.0" y="389.6" class="tick">450</text>
<text x="956.8" y="389.6" class="tick">500</text>
<text x="752.5" y="399.2" class="fn">(frame number)</text>
<path fill="#000" d="M548.0 427.0V412.9h1.64V417.4h1.64V417.3h1.64V415.9h1.64V415.9h1.64V416.1h1.64V416.9h1.64V415.0h1.64V417.4h1.64V417.4h1.64V413.4h1.64V415.0h1.64V414.9h1.64V415.7h1.64V419.8h1.64V417.9h1.64V413.8h1.64V415.7h1.64V414.3h1.64V414.9h1.64V413.7h1.64V411.0h1.64V418.4h1.64V417.8h1.64V418.9h1.64V414.3h1.64V416.0h1.64V419.8h1.64V419.7h1.64V415.7h1.64V419.8h1.64V418.5h1.64V413.8h1.64V417.3h1.64V417.5h1.64V414.9h1.64V420.1h1.64V417.7h1.64V416.3h1.64V410.5h1.64V411.2h1.64V413.0h1.64V414.3h1.64V414.1h1.64V419.2h1.64V416.9h1.64V413.9h1.64V420.9h1.64V418.2h1.64V420.1h1.64V414.8h1.64V418.9h1.64V415.0h1.64V417.3h1.64V419.4h1.64V418.6h1.64V416.7h1.64V412.0h1.64V414.7h1.64V415.8h1.64V416.0h1.64V411.8h1.64V419.9h1.64V419.7h1.64V416.9h1.64V418.0h1.64V415.8h1.64V419.1h1.64V414.6h1.64V417.1h1.64V413.1h1.64V416.0h1.64V418.9h1.64V418.1h1.64V419.7h1.64V419.1h1.64V417.2h1.64V414.9h1.64V415.1h1.64V415.9h1.64V418.5h1.64V413.4h1.64V414.8h1.64V412.5h1.64V414.0h1.64V415.3h1.64V414.7h1.64V414.9h1.64V416.3h1.64V416.8h1.64V416.6h1.64V414.9h1.64V413.1h1.64V415.6h1.64V414.0h1.64V415.4h1.64V420.4h1.64V421.0h1.64V413.2h1.64V412.2h1.64V418.5h1.64V417.6h1.64V415.6h1.64V418.8h1.64V418.0h1.64V419.3h1.64V421.2h1.64V419.4h1.64V420.7h1.64V418.6h1.64V416.6h1.64V419.0h1.64V417.9h1.64V415.7h1.64V418.9h1.64V418.1h1.64V414.2h1.64V415.8h1.64V414.7h1.64V415.5h1.64V411.5h1.64V416.2h1.64V420.3h1.64V417.3h1.64V418.2h1.64V420.9h1.64V420.3h1.64V419.3h1.64V413.8h1.64V417.7h1.64V413.5h1.64V416.6h1.64V421.5h1.64V418.6h1.64V412.4h1.64V412.8h1.64V416.0h1.64V417.7h1.64V412.5h1.64V415.9h1.64V416.4h1.64V412.5h1.64V411.5h1.64V411.8h1.64V416.1h1.64V419.7h1.64V416.4h1.64V417.4h1.64V417.0h1.64V418.0h1.64V420.6h1.64V422.3h1.64V419.1h1.64V417.5h1.64V418.4h1.64V415.5h1.64V417.6h1.64V416.3h1.64V418.5h1.64V415.7h1.64V419.3h1.64V415.9h1.64V412.3h1.64V417.8h1.64V415.5h1.64V414.0h1.64V412.2h1.64V413.1h1.64V416.4h1.64V410.7h1.64V414.1h1.64V418.2h1.64V414.2h1.64V420.6h1.64V420.6h1.64V414.8h1.64V417.4h1.64V418.5h1.64V412.0h1.64V412.1h1.64V413.8h1.64V417.0h1.64V411.7h1.64V412.2h1.64V412.8h1.64V420.0h1.64V418.1h1.64V419.1h1.64V419.2h1.64V413.8h1.64V414.7h1.64V419.1h1.64V419.5h1.64V413.0h1.64V419.7h1.64V414.0h1.64V415.7h1.64V416.9h1.64V415.3h1.64V415.0h1.64V413.5h1.64V415.0h1.64V414.5h1.64V415.6h1.64V421.0h1.64V416.9h1.64V417.2h1.64V416.9h1.64V416.3h1.64V418.1h1.64V418.8h1.64V419.4h1.64V419.3h1.64V420.1h1.64V411.2h1.64V414.6h1.64V419.9h1.64V414.0h1.64V411.5h1.64V417.0h1.64V416.7h1.64V413.2h1.64V413.1h1.64V418.5h1.64V413.6h1.64V418.3h1.64V413.9h1.64V417.1h1.64V421.0h1.64V419.8h1.64V422.2h1.64V415.5h1.64V416.9h1.64V413.9h1.64V414.8h1.64V419.7h1.64V415.6h1.64V419.7h1.64V418.5h1.64V419.2h1.64V416.2h1.64V415.3h1.64V416.4h1.64V414.9h1.64V412.6h1.64V418.3h1.64V415.8h1.64V416.6h1.64V413.5h1.64V415.5h1.64V427.0z"/>
<path stroke="#5e2020" stroke-width="0.6" fill="none" d="M554.9 427.0v-10.6M576.2 427.0v-10.8M587.7 427.0v-7.7M597.5 427.0v-6.8M615.5 427.0v-13.3M626.9 427.0v-8.3M633.5 427.0v-11.4M646.6 427.0v-10.5M667.8 427.0v-8.5M672.7 427.0v-9.3M685.8 427.0v-12.3M703.8 427.0v-11.0M716.9 427.0v-7.8M731.6 427.0v-8.7M738.2 427.0v-12.1M752.9 427.0v-5.7M772.5 427.0v-8.8M780.7 427.0v-14.7M793.8 427.0v-6.1M803.6 427.0v-8.9M816.7 427.0v-10.9M833.1 427.0v-6.1M851.1 427.0v-6.6M859.2 427.0v-11.7M872.3 427.0v-11.2M887.1 427.0v-9.6M900.1 427.0v-11.8M914.9 427.0v-12.7M929.6 427.0v-12.4M942.7 427.0v-11.1M947.6 427.0v-13.7"/>
<text x="61.0" y="836.4" class="tick">0</text>
<text x="68.6" y="836.4" class="tick">9</text>
<text x="77.8" y="836.4" class="tick">20</text>
<text x="89.5" y="836.4" class="tick">34</text>
<text x="101.2" y="836.4" class="tick">48</text>
<text x="113.0" y="836.4" class="tick">62</text>
<text x="124.7" y="836.4" class="tick">76</text>
<text x="136.4" y="836.4" class="tick">90</text>
<text x="150.7" y="836.4" class="tick">107</text>
<text x="166.6" y="836.4" class="tick">126</text>
<text x="182.5" y="836.4" class="tick">145</text>
<text x="198.4" y="836.4" class="tick">164</text>
<text x="214.3" y="836.4" class="tick">183</text>
<text x="230.2" y="836.4" class="tick">202</text>
<text x="246.1" y="836.4" class="tick">221</text>
<text x="262.0" y="836.4" class="tick">240</text>
<text x="278.0" y="836.4" class="tick">259</text>
<text x="293.9" y="836.4" class="tick">278</text>
<text x="309.8" y="836.4" class="tick">297</text>
<text x="325.7" y="836.4" class="tick">316</text>
<text x="341.6" y="836.4" class="tick">335</text>
<text x="358.4" y="836.4" class="tick">355</text>
<text x="374.3" y="836.4" class="tick">374</text>
<text x="390.2" y="836.4" class="tick">393</text>
<text x="406.1" y="836.4" class="tick">412</text>
<text x="422.0" y="836.4" class="tick">431</text>
<text x="437.9" y="836.4" class="tick">450</text>
<text x="479.8" y="836.4" class="tick">500</text>
<text x="270.0" y="847.6" class="fn">(frame number)</text>
<path fill="#000" d="M60.0 875.9V867.6h1.68V867.0h1.68V864.7h1.68V866.1h1.68V868.1h1.68V871.3h1.68V864.2h1.68V869.6h1.68V861.9h1.68V865.1h1.68V865.2h1.68V862.5h1.68V867.1h1.68V862.7h1.68V865.7h1.68V865.5h1.68V867.4h1.68V868.6h1.68V864.9h1.68V864.5h1.68V866.5h1.68V861.5h1.68V864.2h1.68V861.5h1.68V864.6h1.68V863.9h1.68V860.8h1.68V865.2h1.68V865.8h1.68V863.8h1.68V863.7h1.68V861.3h1.68V862.9h1.68V858.1h1.68V861.5h1.68V864.1h1.68V860.4h1.68V864.1h1.68V862.5h1.68V866.7h1.68V870.0h1.68V865.9h1.68V870.0h1.68V864.0h1.68V868.1h1.68V862.9h1.68V860.6h1.68V865.5h1.68V862.3h1.68V865.0h1.68V866.8h1.68V865.9h1.68V866.4h1.68V867.5h1.68V865.8h1.68V861.5h1.68V862.5h1.68V866.2h1.68V859.2h1.68V858.3h1.68V863.5h1.68V864.3h1.68V870.3h1.68V869.8h1.68V870.0h1.68V870.7h1.68V869.3h1.68V866.0h1.68V868.8h1.68V867.6h1.68V869.0h1.68V859.6h1.68V864.0h1.68V869.1h1.68V867.8h1.68V866.0h1.68V862.7h1.68V867.8h1.68V868.0h1.68V860.4h1.68V860.7h1.68V865.3h1.68V863.8h1.68V862.8h1.68V867.5h1.68V859.5h1.68V859.4h1.68V859.3h1.68V863.7h1.68V868.3h1.68V868.5h1.68V865.4h1.68V863.6h1.68V857.6h1.68V861.3h1.68V865.5h1.68V867.5h1.68V861.0h1.68V862.5h1.68V860.0h1.68V864.0h1.68V860.4h1.68V862.1h1.68V862.4h1.68V862.9h1.68V863.0h1.68V860.2h1.68V865.2h1.68V867.9h1.68V860.3h1.68V862.6h1.68V860.9h1.68V863.4h1.68V869.5h1.68V861.4h1.68V859.8h1.68V861.0h1.68V864.5h1.68V865.9h1.68V864.9h1.68V866.7h1.68V864.0h1.68V866.8h1.68V861.9h1.68V861.8h1.68V864.3h1.68V867.9h1.68V866.9h1.68V864.5h1.68V867.5h1.68V864.2h1.68V865.1h1.68V862.3h1.68V865.8h1.68V868.3h1.68V864.0h1.68V861.7h1.68V862.2h1.68V862.2h1.68V861.5h1.68V863.5h1.68V860.6h1.68V860.1h1.68V863.0h1.68V858.8h1.68V864.0h1.68V864.9h1.68V868.5h1.68V866.3h1.68V861.5h1.68V864.5h1.68V867.1h1.68V858.7h1.68V861.1h1.68V864.9h1.68V859.4h1.68V865.2h1.68V865.5h1.68V867.1h1.68V867.5h1.68V864.1h1.68V867.6h1.68V864.6h1.68V862.9h1.68V860.4h1.68V867.9h1.68V865.4h1.68V870.0h1.68V863.0h1.68V865.4h1.68V862.4h1.68V863.0h1.68V869.8h1.68V865.0h1.68V863.1h1.68V862.4h1.68V863.8h1.68V864.9h1.68V867.5h1.68V861.7h1.68V868.6h1.68V866.9h1.68V869.1h1.68V870.0h1.68V868.5h1.68V866.0h1.68V866.7h1.68V868.6h1.68V869.5h1.68V863.4h1.68V865.7h1.68V865.6h1.68V862.1h1.68V860.2h1.68V863.8h1.68V859.3h1.68V861.7h1.68V862.1h1.68V865.2h1.68V869.2h1.68V865.7h1.68V869.8h1.68V865.3h1.68V863.0h1.68V867.3h1.68V866.1h1.68V867.2h1.68V863.3h1.68V862.8h1.68V861.3h1.68V866.6h1.68V868.3h1.68V866.0h1.68V866.7h1.68V869.9h1.68V869.1h1.68V872.4h1.68V869.7h1.68V865.4h1.68V862.4h1.68V859.8h1.68V865.2h1.68V864.1h1.68V860.4h1.68V862.4h1.68V861.6h1.68V859.6h1.68V864.6h1.68V861.9h1.68V860.2h1.68V859.9h1.68V861.0h1.68V868.2h1.68V867.3h1.68V864.7h1.68V864.6h1.68V862.8h1.68V868.0h1.68V860.7h1.68V863.0h1.68V866.1h1.68V864.0h1.68V867.0h1.68V865.8h1.68V858.9h1.68V864.1h1.68V862.3h1.68V861.6h1.68V865.7h1.68V866.9h1.68V875.9z"/>
<path stroke="#5e2020" stroke-width="0.6" fill="none" d="M73.8 875.9v-13.3M87.3 875.9v-8.0M95.7 875.9v-13.7M107.4 875.9v-9.6M125.9 875.9v-8.8M134.3 875.9v-7.4M152.8 875.9v-13.7M164.6 875.9v-5.3M183.0 875.9v-6.4M188.1 875.9v-12.5M209.9 875.9v-7.2M216.6 875.9v-17.4M236.8 875.9v-12.2M246.9 875.9v-14.2M258.6 875.9v-9.5M277.1 875.9v-8.0M288.9 875.9v-13.4M299.0 875.9v-15.0M314.1 875.9v-8.4M327.5 875.9v-8.0M341.0 875.9v-5.6M349.4 875.9v-5.8M369.5 875.9v-7.0M377.9 875.9v-11.8M393.0 875.9v-10.2M403.1 875.9v-8.2M421.6 875.9v-6.4M430.0 875.9v-15.3M446.8 875.9v-15.2M461.9 875.9v-12.3M470.3 875.9v-16.2"/>
<text x="547.0" y="838.6" class="tick">0</text>
<text x="554.6" y="838.6" class="tick">9</text>
<text x="563.9" y="838.6" class="tick">20</text>
<text x="575.7" y="838.6" class="tick">34</text>
<text x="587.4" y="838.6" class="tick">48</text>
<text x="599.2" y="838.6" class="tick">62</text>
<text x="611.0" y="838.6" class="tick">76</text>
<text x="622.8" y="838.6" class="tick">90</text>
<text x="637.1" y="838.6" class="tick">107</text>
<text x="653.1" y="838.6" class="tick">126</text>
<text x="669.1" y="838.6" class="tick">145</text>
<text x="685.1" y="838.6" class="tick">164</text>
<text x="701.0" y="838.6" class="tick">183</text>
<text x="717.0" y="838.6" class="tick">202</text>
<text x="733.0" y="838.6" class="tick">221</text>
<text x="749.0" y="838.6" class="tick">240</text>
<text x="765.0" y="838.6" class="tick">259</text>
<text x="781.0" y="838.6" class="tick">278</text>
<text x="797.0" y="838.6" class="tick">297</text>
<text x="813.0" y="838.6" class="tick">316</text>
<text x="828.9" y="838.6" class="tick">335</text>
<text x="845.8" y="838.6" class="tick">355</text>
<text x="861.8" y="838.6" class="tick">374</text>
<text x="877.7" y="838.6" class="tick">393</text>
<text x="893.7" y="838.6" class="tick">412</text>
<text x="909.7" y="838.6" class="tick">431</text>
<text x="925.7" y="838.6" class="tick">450</text>
<text x="967.8" y="838.6" class="tick">500</text>
<text x="757.0" y="848.6" class="fn">(frame number)</text>
<path fill="#000" d="M546.0 877.8V876.9h1.69V869.5h1.69V868.3h1.69V863.5h1.69V864.4h1.69V864.9h1.69V865.5h1.69V865.7h1.69V865.8h1.69V864.8h1.69V864.8h1.69V865.1h1.69V865.5h1.69V864.7h1.69V864.7h1.69V864.3h1.69V863.2h1.69V863.2h1.69V863.0h1.69V864.9h1.69V863.8h1.69V863.0h1.69V864.3h1.69V864.8h1.69V864.9h1.69V863.3h1.69V862.9h1.69V864.5h1.69V863.6h1.69V864.7h1.69V863.5h1.69V864.2h1.69V864.7h1.69V864.0h1.69V863.7h1.69V862.3h1.69V863.5h1.69V862.8h1.69V864.0h1.69V861.8h1.69V862.4h1.69V863.9h1.69V863.7h1.69V863.1h1.69V862.7h1.69V863.9h1.69V863.8h1.69V863.1h1.69V862.7h1.69V859.6h1.69V864.1h1.69V864.0h1.69V864.0h1.69V861.8h1.69V864.0h1.69V862.1h1.69V863.7h1.69V863.7h1.69V865.8h1.69V865.1h1.69V864.7h1.69V865.1h1.69V866.0h1.69V865.1h1.69V865.2h1.69V864.5h1.69V865.3h1.69V865.8h1.69V865.2h1.69V864.5h1.69V863.0h1.69V865.5h1.69V866.2h1.69V864.5h1.69V864.7h1.69V865.9h1.69V864.6h1.69V866.5h1.69V864.2h1.69V864.2h1.69V866.0h1.69V865.2h1.69V865.7h1.69V864.4h1.69V865.0h1.69V864.6h1.69V864.5h1.69V865.7h1.69V864.5h1.69V866.0h1.69V864.6h1.69V864.3h1.69V864.6h1.69V865.8h1.69V865.5h1.69V864.6h1.69V866.7h1.69V866.1h1.69V866.6h1.69V866.2h1.69V865.3h1.69V868.0h1.69V869.0h1.69V867.7h1.69V868.2h1.69V868.0h1.69V867.9h1.69V868.0h1.69V869.0h1.69V867.9h1.69V867.5h1.69V869.5h1.69V868.1h1.69V868.3h1.69V866.8h1.69V868.5h1.69V866.1h1.69V865.3h1.69V865.6h1.69V866.3h1.69V865.8h1.69V866.1h1.69V867.2h1.69V867.1h1.69V866.6h1.69V866.1h1.69V867.6h1.69V867.0h1.69V866.0h1.69V867.4h1.69V867.5h1.69V865.9h1.69V866.6h1.69V865.9h1.69V867.1h1.69V866.1h1.69V866.5h1.69V865.4h1.69V867.7h1.69V866.9h1.69V864.2h1.69V865.7h1.69V866.4h1.69V865.6h1.69V865.7h1.69V866.2h1.69V866.7h1.69V865.8h1.69V867.2h1.69V866.8h1.69V865.8h1.69V865.5h1.69V865.6h1.69V867.4h1.69V866.0h1.69V865.0h1.69V861.8h1.69V861.9h1.69V862.1h1.69V861.6h1.69V859.8h1.69V863.2h1.69V863.5h1.69V862.9h1.69V861.7h1.69V859.9h1.69V862.7h1.69V861.7h1.69V861.8h1.69V863.1h1.69V863.7h1.69V863.4h1.69V862.2h1.69V860.8h1.69V863.9h1.69V862.0h1.69V864.2h1.69V863.4h1.69V862.8h1.69V862.6h1.69V862.3h1.69V862.8h1.69V862.1h1.69V862.1h1.69V862.7h1.69V862.6h1.69V862.8h1.69V863.4h1.69V863.1h1.69V863.3h1.69V862.5h1.69V863.9h1.69V864.1h1.69V862.3h1.69V862.6h1.69V862.0h1.69V862.1h1.69V862.4h1.69V863.5h1.69V862.4h1.69V862.8h1.69V864.3h1.69V863.4h1.69V863.2h1.69V864.3h1.69V864.0h1.69V863.0h1.69V862.4h1.69V861.9h1.69V863.9h1.69V862.5h1.69V862.6h1.69V862.7h1.69V863.6h1.69V861.9h1.69V864.1h1.69V862.5h1.69V863.3h1.69V863.6h1.69V862.7h1.69V863.8h1.69V862.5h1.69V862.2h1.69V862.1h1.69V863.0h1.69V863.5h1.69V864.1h1.69V863.0h1.69V862.5h1.69V862.0h1.69V862.7h1.69V863.1h1.69V862.2h1.69V863.9h1.69V863.7h1.69V862.7h1.69V862.5h1.69V863.6h1.69V861.7h1.69V863.7h1.69V862.1h1.69V863.3h1.69V864.0h1.69V862.1h1.69V863.1h1.69V863.0h1.69V862.0h1.69V863.8h1.69V861.8h1.69V863.0h1.69V877.8z"/>
<path stroke="#5e2020" stroke-width="0.6" fill="none" d="M559.9 877.8v-11.4M568.3 877.8v-12.5M590.3 877.8v-14.2M600.4 877.8v-12.4M613.9 877.8v-14.6M629.1 877.8v-17.3M649.4 877.8v-12.1M662.9 877.8v-12.6M674.7 877.8v-12.6M696.6 877.8v-11.2M705.1 877.8v-11.7M722.0 877.8v-9.1M737.1 877.8v-9.0M759.1 877.8v-9.7M765.8 877.8v-9.7M781.0 877.8v-10.3M799.6 877.8v-11.4M814.8 877.8v-15.4M831.7 877.8v-14.0M850.2 877.8v-14.8M860.4 877.8v-14.3M877.2 877.8v-14.9M894.1 877.8v-14.0M904.3 877.8v-14.3M922.8 877.8v-15.0M941.4 877.8v-13.4M951.5 877.8v-14.9M966.7 877.8v-14.1"/>
<text x="207.4" y="19.8" class="ttl">(a)</text>
<text x="799.3" y="19.8" class="ttl">(b)</text>
<text x="181.0" y="464.7" class="ttl">(c)</text>
<text x="825.6" y="464.4" class="ttl">(d)</text>
<text x="27.4" y="417.4" class="th">(threshold</text><text x="27.4" y="427.6" class="th">count)</text><text x="52.0" y="412.7" class="th">21</text><text x="55.0" y="431.7" class="th">0</text>
<text x="513.9" y="414.4" class="th">(threshold</text><text x="513.9" y="425.1" class="th">count)</text><text x="538.0" y="410.7" class="th">27</text><text x="540.5" y="429.0" class="th">0</text>
<text x="24.0" y="863.2" class="th">(threshold</text><text x="24.0" y="873.4" class="th">count)</text><text x="49.4" y="858.7" class="th">24</text><text x="52.0" y="878.0" class="th">0</text>
<text x="510.0" y="864.4" class="th">(threshold</text><text x="510.0" y="875.3" class="th">count)</text><text x="535.4" y="860.7" class="th">51</text><text x="538.0" y="879.7" class="th">0</text>
<text x="501" y="912.2" class="ss" stroke="#111" stroke-width="0.35">sec. struct.</text>
<rect x="435.40" y="924.9" width="18.80" height="22.7" fill="#469696"/>
<rect x="454.15" y="924.9" width="18.80" height="22.7" fill="#ffff64"/>
<rect x="472.90" y="924.9" width="18.80" height="22.7" fill="#b4b400"/>
<rect x="491.65" y="924.9" width="18.80" height="22.7" fill="#e882e8"/>
<rect x="510.40" y="924.9" width="18.80" height="22.7" fill="#0a0aff"/>
<rect x="529.15" y="924.9" width="18.80" height="22.7" fill="#e01010"/>
<rect x="454.00" y="924.9" width="0.35" height="22.7" fill="#333" opacity="0.6"/>
<rect x="472.75" y="924.9" width="0.35" height="22.7" fill="#333" opacity="0.6"/>
<rect x="491.50" y="924.9" width="0.35" height="22.7" fill="#333" opacity="0.6"/>
<rect x="510.25" y="924.9" width="0.35" height="22.7" fill="#333" opacity="0.6"/>
<rect x="529.00" y="924.9" width="0.35" height="22.7" fill="#333" opacity="0.6"/>
<rect x="566" y="924.9" width="0.9" height="22.7" fill="#222"/>
<text transform="translate(445.2 962.5) scale(1.15 1)" class="leg">T</text>
<text transform="translate(463.8 962.5) scale(1.15 1)" class="leg">E</text>
<text transform="translate(483.0 962.5) scale(1.15 1)" class="leg">B</text>
<text transform="translate(501.1 962.5) scale(1.15 1)" class="leg">H</text>
<text transform="translate(519.8 962.5) scale(1.15 1)" class="leg">G</text>
<text transform="translate(538.5 962.5) scale(1.15 1)" class="leg">I</text>
<text transform="translate(557.1 962.5) scale(1.15 1)" class="leg">C</text>
<text x="64.1" y="993.2" class="note">Note: Color code: Magneta denotes α- helix, red denotes π-helix, cyan denotes turn, blue</text>
<text x="64.1" y="1026.7" class="note">denotes 3–10 helix and white denotes coil</text>
</svg>
</body></html>
